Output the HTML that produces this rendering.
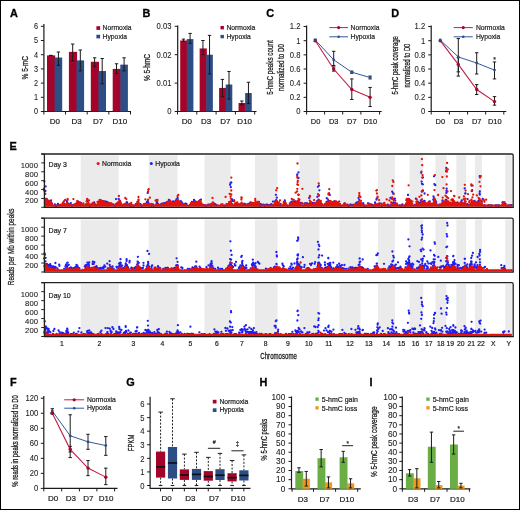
<!DOCTYPE html>
<html><head><meta charset="utf-8"><style>
html,body{margin:0;padding:0;background:#fff;width:520px;height:510px;overflow:hidden}
svg{display:block;will-change:transform}
text{font-family:"Liberation Sans",sans-serif}
</style></head><body>
<svg width="520" height="510" viewBox="0 0 520 510">
<rect width="520" height="510" fill="#fff"/>
<rect x="0.5" y="0.5" width="519" height="509" fill="none" stroke="#000" stroke-width="1"/>
<text transform="translate(10.00 16.50) scale(1 1)" font-size="10.90" text-anchor="start" fill="#000" stroke="#000" stroke-width="0.3" font-weight="bold">A</text>
<line x1="43.90" y1="24.00" x2="43.90" y2="112.00" stroke="#1a1a1a" stroke-width="1.2" />
<line x1="40.90" y1="111.50" x2="43.90" y2="111.50" stroke="#1a1a1a" stroke-width="1" />
<text transform="translate(38.00 114.30) scale(0.88 1)" font-size="8.32" text-anchor="end" fill="#1a1a1a" stroke="#1a1a1a" stroke-width="0.08">0</text>
<line x1="40.90" y1="97.30" x2="43.90" y2="97.30" stroke="#1a1a1a" stroke-width="1" />
<text transform="translate(38.00 100.10) scale(0.88 1)" font-size="8.32" text-anchor="end" fill="#1a1a1a" stroke="#1a1a1a" stroke-width="0.08">1</text>
<line x1="40.90" y1="83.10" x2="43.90" y2="83.10" stroke="#1a1a1a" stroke-width="1" />
<text transform="translate(38.00 85.90) scale(0.88 1)" font-size="8.32" text-anchor="end" fill="#1a1a1a" stroke="#1a1a1a" stroke-width="0.08">2</text>
<line x1="40.90" y1="68.90" x2="43.90" y2="68.90" stroke="#1a1a1a" stroke-width="1" />
<text transform="translate(38.00 71.70) scale(0.88 1)" font-size="8.32" text-anchor="end" fill="#1a1a1a" stroke="#1a1a1a" stroke-width="0.08">3</text>
<line x1="40.90" y1="54.70" x2="43.90" y2="54.70" stroke="#1a1a1a" stroke-width="1" />
<text transform="translate(38.00 57.50) scale(0.88 1)" font-size="8.32" text-anchor="end" fill="#1a1a1a" stroke="#1a1a1a" stroke-width="0.08">4</text>
<line x1="40.90" y1="40.50" x2="43.90" y2="40.50" stroke="#1a1a1a" stroke-width="1" />
<text transform="translate(38.00 43.30) scale(0.88 1)" font-size="8.32" text-anchor="end" fill="#1a1a1a" stroke="#1a1a1a" stroke-width="0.08">5</text>
<line x1="40.90" y1="26.30" x2="43.90" y2="26.30" stroke="#1a1a1a" stroke-width="1" />
<text transform="translate(38.00 29.10) scale(0.88 1)" font-size="8.32" text-anchor="end" fill="#1a1a1a" stroke="#1a1a1a" stroke-width="0.08">6</text>
<text transform="translate(28.20 67.70) rotate(-90) scale(1 1)" font-size="8.64" text-anchor="middle" fill="#1a1a1a" stroke="#1a1a1a" stroke-width="0.28" textLength="23.5" lengthAdjust="spacingAndGlyphs">% 5-mC</text>
<line x1="43.90" y1="111.50" x2="131.00" y2="111.50" stroke="#1a1a1a" stroke-width="1.2" />
<line x1="43.90" y1="111.50" x2="43.90" y2="114.50" stroke="#1a1a1a" stroke-width="1" />
<line x1="65.55" y1="111.50" x2="65.55" y2="114.50" stroke="#1a1a1a" stroke-width="1" />
<line x1="87.20" y1="111.50" x2="87.20" y2="114.50" stroke="#1a1a1a" stroke-width="1" />
<line x1="108.85" y1="111.50" x2="108.85" y2="114.50" stroke="#1a1a1a" stroke-width="1" />
<line x1="130.50" y1="111.50" x2="130.50" y2="114.50" stroke="#1a1a1a" stroke-width="1" />
<rect x="47.00" y="55.41" width="8.20" height="56.09" fill="#a5042a"/>
<rect x="54.60" y="57.54" width="7.60" height="53.96" fill="#2d4d85"/>
<rect x="68.90" y="51.86" width="8.20" height="59.64" fill="#a5042a"/>
<rect x="76.50" y="60.38" width="7.60" height="51.12" fill="#2d4d85"/>
<rect x="90.80" y="61.80" width="8.20" height="49.70" fill="#a5042a"/>
<rect x="98.40" y="71.03" width="7.60" height="40.47" fill="#2d4d85"/>
<rect x="112.70" y="68.90" width="8.20" height="42.60" fill="#a5042a"/>
<rect x="120.30" y="64.64" width="7.60" height="46.86" fill="#2d4d85"/>
<line x1="50.80" y1="55.41" x2="50.80" y2="55.41" stroke="#1a1a1a" stroke-width="1" />
<line x1="49.10" y1="55.41" x2="52.50" y2="55.41" stroke="#1a1a1a" stroke-width="1" />
<line x1="49.10" y1="55.41" x2="52.50" y2="55.41" stroke="#1a1a1a" stroke-width="1" />
<line x1="58.40" y1="52.00" x2="58.40" y2="65.35" stroke="#1a1a1a" stroke-width="1" />
<line x1="56.70" y1="52.00" x2="60.10" y2="52.00" stroke="#1a1a1a" stroke-width="1" />
<line x1="56.70" y1="65.35" x2="60.10" y2="65.35" stroke="#1a1a1a" stroke-width="1" />
<line x1="72.70" y1="44.05" x2="72.70" y2="60.95" stroke="#1a1a1a" stroke-width="1" />
<line x1="71.00" y1="44.05" x2="74.40" y2="44.05" stroke="#1a1a1a" stroke-width="1" />
<line x1="71.00" y1="60.95" x2="74.40" y2="60.95" stroke="#1a1a1a" stroke-width="1" />
<line x1="80.30" y1="50.01" x2="80.30" y2="70.89" stroke="#1a1a1a" stroke-width="1" />
<line x1="78.60" y1="50.01" x2="82.00" y2="50.01" stroke="#1a1a1a" stroke-width="1" />
<line x1="78.60" y1="70.89" x2="82.00" y2="70.89" stroke="#1a1a1a" stroke-width="1" />
<line x1="94.60" y1="57.82" x2="94.60" y2="66.77" stroke="#1a1a1a" stroke-width="1" />
<line x1="92.90" y1="57.82" x2="96.30" y2="57.82" stroke="#1a1a1a" stroke-width="1" />
<line x1="92.90" y1="66.77" x2="96.30" y2="66.77" stroke="#1a1a1a" stroke-width="1" />
<line x1="102.20" y1="58.53" x2="102.20" y2="83.81" stroke="#1a1a1a" stroke-width="1" />
<line x1="100.50" y1="58.53" x2="103.90" y2="58.53" stroke="#1a1a1a" stroke-width="1" />
<line x1="100.50" y1="83.81" x2="103.90" y2="83.81" stroke="#1a1a1a" stroke-width="1" />
<line x1="116.50" y1="63.79" x2="116.50" y2="73.59" stroke="#1a1a1a" stroke-width="1" />
<line x1="114.80" y1="63.79" x2="118.20" y2="63.79" stroke="#1a1a1a" stroke-width="1" />
<line x1="114.80" y1="73.59" x2="118.20" y2="73.59" stroke="#1a1a1a" stroke-width="1" />
<line x1="124.10" y1="57.82" x2="124.10" y2="70.89" stroke="#1a1a1a" stroke-width="1" />
<line x1="122.40" y1="57.82" x2="125.80" y2="57.82" stroke="#1a1a1a" stroke-width="1" />
<line x1="122.40" y1="70.89" x2="125.80" y2="70.89" stroke="#1a1a1a" stroke-width="1" />
<text transform="translate(54.90 124.30) scale(1.0 1)" font-size="7.99" text-anchor="middle" fill="#1a1a1a" stroke="#1a1a1a" stroke-width="0.2">D0</text>
<text transform="translate(76.55 124.30) scale(1.0 1)" font-size="7.99" text-anchor="middle" fill="#1a1a1a" stroke="#1a1a1a" stroke-width="0.2">D3</text>
<text transform="translate(98.20 124.30) scale(1.0 1)" font-size="7.99" text-anchor="middle" fill="#1a1a1a" stroke="#1a1a1a" stroke-width="0.2">D7</text>
<text transform="translate(119.85 124.30) scale(1.0 1)" font-size="7.99" text-anchor="middle" fill="#1a1a1a" stroke="#1a1a1a" stroke-width="0.2">D10</text>
<rect x="96.40" y="26.20" width="3.70" height="3.70" fill="#a5042a"/>
<text transform="translate(102.60 30.10) scale(0.87 1)" font-size="7.78" text-anchor="start" fill="#1a1a1a" stroke="#1a1a1a" stroke-width="0.2">Normoxia</text>
<rect x="96.40" y="34.70" width="3.70" height="3.70" fill="#2d4d85"/>
<text transform="translate(102.60 38.60) scale(0.87 1)" font-size="7.78" text-anchor="start" fill="#1a1a1a" stroke="#1a1a1a" stroke-width="0.2">Hypoxia</text>
<text transform="translate(142.60 16.50) scale(1 1)" font-size="10.90" text-anchor="start" fill="#000" stroke="#000" stroke-width="0.3" font-weight="bold">B</text>
<line x1="177.70" y1="25.50" x2="177.70" y2="112.00" stroke="#1a1a1a" stroke-width="1.2" />
<line x1="174.70" y1="111.50" x2="177.70" y2="111.50" stroke="#1a1a1a" stroke-width="1" />
<text transform="translate(171.50 114.30) scale(0.92 1)" font-size="8.32" text-anchor="end" fill="#1a1a1a" stroke="#1a1a1a" stroke-width="0.08">0</text>
<line x1="174.70" y1="83.10" x2="177.70" y2="83.10" stroke="#1a1a1a" stroke-width="1" />
<text transform="translate(171.50 85.90) scale(0.92 1)" font-size="8.32" text-anchor="end" fill="#1a1a1a" stroke="#1a1a1a" stroke-width="0.08">0.01</text>
<line x1="174.70" y1="54.70" x2="177.70" y2="54.70" stroke="#1a1a1a" stroke-width="1" />
<text transform="translate(171.50 57.50) scale(0.92 1)" font-size="8.32" text-anchor="end" fill="#1a1a1a" stroke="#1a1a1a" stroke-width="0.08">0.02</text>
<line x1="174.70" y1="26.30" x2="177.70" y2="26.30" stroke="#1a1a1a" stroke-width="1" />
<text transform="translate(171.50 29.10) scale(0.92 1)" font-size="8.32" text-anchor="end" fill="#1a1a1a" stroke="#1a1a1a" stroke-width="0.08">0.03</text>
<text transform="translate(150.40 67.50) rotate(-90) scale(1 1)" font-size="8.64" text-anchor="middle" fill="#1a1a1a" stroke="#1a1a1a" stroke-width="0.28" textLength="27" lengthAdjust="spacingAndGlyphs">% 5-hmC</text>
<line x1="177.70" y1="111.50" x2="256.50" y2="111.50" stroke="#1a1a1a" stroke-width="1.2" />
<line x1="177.50" y1="111.50" x2="177.50" y2="114.50" stroke="#1a1a1a" stroke-width="1" />
<line x1="196.80" y1="111.50" x2="196.80" y2="114.50" stroke="#1a1a1a" stroke-width="1" />
<line x1="216.10" y1="111.50" x2="216.10" y2="114.50" stroke="#1a1a1a" stroke-width="1" />
<line x1="235.40" y1="111.50" x2="235.40" y2="114.50" stroke="#1a1a1a" stroke-width="1" />
<line x1="254.70" y1="111.50" x2="254.70" y2="114.50" stroke="#1a1a1a" stroke-width="1" />
<rect x="180.20" y="40.50" width="7.20" height="71.00" fill="#a5042a"/>
<rect x="186.80" y="39.08" width="6.60" height="72.42" fill="#2d4d85"/>
<rect x="199.65" y="48.45" width="7.20" height="63.05" fill="#a5042a"/>
<rect x="206.25" y="54.70" width="6.60" height="56.80" fill="#2d4d85"/>
<rect x="219.10" y="87.93" width="7.20" height="23.57" fill="#a5042a"/>
<rect x="225.70" y="84.52" width="6.60" height="26.98" fill="#2d4d85"/>
<rect x="238.55" y="102.98" width="7.20" height="8.52" fill="#a5042a"/>
<rect x="245.15" y="93.04" width="6.60" height="18.46" fill="#2d4d85"/>
<line x1="183.50" y1="39.08" x2="183.50" y2="41.35" stroke="#1a1a1a" stroke-width="1" />
<line x1="181.80" y1="39.08" x2="185.20" y2="39.08" stroke="#1a1a1a" stroke-width="1" />
<line x1="181.80" y1="41.35" x2="185.20" y2="41.35" stroke="#1a1a1a" stroke-width="1" />
<line x1="190.10" y1="33.40" x2="190.10" y2="43.34" stroke="#1a1a1a" stroke-width="1" />
<line x1="188.40" y1="33.40" x2="191.80" y2="33.40" stroke="#1a1a1a" stroke-width="1" />
<line x1="188.40" y1="43.34" x2="191.80" y2="43.34" stroke="#1a1a1a" stroke-width="1" />
<line x1="202.95" y1="40.50" x2="202.95" y2="54.70" stroke="#1a1a1a" stroke-width="1" />
<line x1="201.25" y1="40.50" x2="204.65" y2="40.50" stroke="#1a1a1a" stroke-width="1" />
<line x1="201.25" y1="54.70" x2="204.65" y2="54.70" stroke="#1a1a1a" stroke-width="1" />
<line x1="209.55" y1="35.39" x2="209.55" y2="74.01" stroke="#1a1a1a" stroke-width="1" />
<line x1="207.85" y1="35.39" x2="211.25" y2="35.39" stroke="#1a1a1a" stroke-width="1" />
<line x1="207.85" y1="74.01" x2="211.25" y2="74.01" stroke="#1a1a1a" stroke-width="1" />
<line x1="222.40" y1="79.41" x2="222.40" y2="96.73" stroke="#1a1a1a" stroke-width="1" />
<line x1="220.70" y1="79.41" x2="224.10" y2="79.41" stroke="#1a1a1a" stroke-width="1" />
<line x1="220.70" y1="96.73" x2="224.10" y2="96.73" stroke="#1a1a1a" stroke-width="1" />
<line x1="229.00" y1="71.46" x2="229.00" y2="99.00" stroke="#1a1a1a" stroke-width="1" />
<line x1="227.30" y1="71.46" x2="230.70" y2="71.46" stroke="#1a1a1a" stroke-width="1" />
<line x1="227.30" y1="99.00" x2="230.70" y2="99.00" stroke="#1a1a1a" stroke-width="1" />
<line x1="241.85" y1="100.99" x2="241.85" y2="104.97" stroke="#1a1a1a" stroke-width="1" />
<line x1="240.15" y1="100.99" x2="243.55" y2="100.99" stroke="#1a1a1a" stroke-width="1" />
<line x1="240.15" y1="104.97" x2="243.55" y2="104.97" stroke="#1a1a1a" stroke-width="1" />
<line x1="248.45" y1="82.25" x2="248.45" y2="103.55" stroke="#1a1a1a" stroke-width="1" />
<line x1="246.75" y1="82.25" x2="250.15" y2="82.25" stroke="#1a1a1a" stroke-width="1" />
<line x1="246.75" y1="103.55" x2="250.15" y2="103.55" stroke="#1a1a1a" stroke-width="1" />
<text transform="translate(186.80 124.20) scale(1.0 1)" font-size="7.99" text-anchor="middle" fill="#1a1a1a" stroke="#1a1a1a" stroke-width="0.2">D0</text>
<text transform="translate(206.10 124.20) scale(1.0 1)" font-size="7.99" text-anchor="middle" fill="#1a1a1a" stroke="#1a1a1a" stroke-width="0.2">D3</text>
<text transform="translate(225.40 124.20) scale(1.0 1)" font-size="7.99" text-anchor="middle" fill="#1a1a1a" stroke="#1a1a1a" stroke-width="0.2">D7</text>
<text transform="translate(244.70 124.20) scale(1.0 1)" font-size="7.99" text-anchor="middle" fill="#1a1a1a" stroke="#1a1a1a" stroke-width="0.2">D10</text>
<rect x="220.50" y="26.00" width="3.40" height="3.40" fill="#a5042a"/>
<text transform="translate(226.40 29.90) scale(0.87 1)" font-size="7.78" text-anchor="start" fill="#1a1a1a" stroke="#1a1a1a" stroke-width="0.2">Normoxia</text>
<rect x="220.50" y="34.90" width="3.40" height="3.40" fill="#2d4d85"/>
<text transform="translate(226.40 38.80) scale(0.87 1)" font-size="7.78" text-anchor="start" fill="#1a1a1a" stroke="#1a1a1a" stroke-width="0.2">Hypoxia</text>
<text transform="translate(266.30 16.50) scale(1 1)" font-size="10.90" text-anchor="start" fill="#000" stroke="#000" stroke-width="0.3" font-weight="bold">C</text>
<line x1="306.60" y1="25.50" x2="306.60" y2="112.00" stroke="#1a1a1a" stroke-width="1.2" />
<line x1="303.60" y1="111.50" x2="306.60" y2="111.50" stroke="#1a1a1a" stroke-width="1" />
<text transform="translate(300.40 114.40) scale(0.92 1)" font-size="8.32" text-anchor="end" fill="#1a1a1a" stroke="#1a1a1a" stroke-width="0.08">0</text>
<line x1="303.60" y1="97.34" x2="306.60" y2="97.34" stroke="#1a1a1a" stroke-width="1" />
<text transform="translate(300.40 100.24) scale(0.92 1)" font-size="8.32" text-anchor="end" fill="#1a1a1a" stroke="#1a1a1a" stroke-width="0.08">0.2</text>
<line x1="303.60" y1="83.18" x2="306.60" y2="83.18" stroke="#1a1a1a" stroke-width="1" />
<text transform="translate(300.40 86.08) scale(0.92 1)" font-size="8.32" text-anchor="end" fill="#1a1a1a" stroke="#1a1a1a" stroke-width="0.08">0.4</text>
<line x1="303.60" y1="69.02" x2="306.60" y2="69.02" stroke="#1a1a1a" stroke-width="1" />
<text transform="translate(300.40 71.92) scale(0.92 1)" font-size="8.32" text-anchor="end" fill="#1a1a1a" stroke="#1a1a1a" stroke-width="0.08">0.6</text>
<line x1="303.60" y1="54.86" x2="306.60" y2="54.86" stroke="#1a1a1a" stroke-width="1" />
<text transform="translate(300.40 57.76) scale(0.92 1)" font-size="8.32" text-anchor="end" fill="#1a1a1a" stroke="#1a1a1a" stroke-width="0.08">0.8</text>
<line x1="303.60" y1="40.70" x2="306.60" y2="40.70" stroke="#1a1a1a" stroke-width="1" />
<text transform="translate(300.40 43.60) scale(0.92 1)" font-size="8.32" text-anchor="end" fill="#1a1a1a" stroke="#1a1a1a" stroke-width="0.08">1</text>
<line x1="303.60" y1="26.54" x2="306.60" y2="26.54" stroke="#1a1a1a" stroke-width="1" />
<text transform="translate(300.40 29.44) scale(0.92 1)" font-size="8.32" text-anchor="end" fill="#1a1a1a" stroke="#1a1a1a" stroke-width="0.08">1.2</text>
<line x1="306.60" y1="111.50" x2="381.70" y2="111.50" stroke="#1a1a1a" stroke-width="1.2" />
<line x1="306.60" y1="111.50" x2="306.60" y2="114.50" stroke="#1a1a1a" stroke-width="1" />
<line x1="324.60" y1="111.50" x2="324.60" y2="114.50" stroke="#1a1a1a" stroke-width="1" />
<line x1="342.70" y1="111.50" x2="342.70" y2="114.50" stroke="#1a1a1a" stroke-width="1" />
<line x1="360.90" y1="111.50" x2="360.90" y2="114.50" stroke="#1a1a1a" stroke-width="1" />
<line x1="379.60" y1="111.50" x2="379.60" y2="114.50" stroke="#1a1a1a" stroke-width="1" />
<line x1="315.30" y1="39.28" x2="315.30" y2="41.41" stroke="#1a1a1a" stroke-width="1" />
<line x1="313.60" y1="39.28" x2="317.00" y2="39.28" stroke="#1a1a1a" stroke-width="1" />
<line x1="313.60" y1="41.41" x2="317.00" y2="41.41" stroke="#1a1a1a" stroke-width="1" />
<line x1="333.70" y1="66.90" x2="333.70" y2="71.14" stroke="#1a1a1a" stroke-width="1" />
<line x1="332.00" y1="66.90" x2="335.40" y2="66.90" stroke="#1a1a1a" stroke-width="1" />
<line x1="332.00" y1="71.14" x2="335.40" y2="71.14" stroke="#1a1a1a" stroke-width="1" />
<line x1="333.70" y1="51.32" x2="333.70" y2="65.48" stroke="#1a1a1a" stroke-width="1" />
<line x1="332.00" y1="51.32" x2="335.40" y2="51.32" stroke="#1a1a1a" stroke-width="1" />
<line x1="332.00" y1="65.48" x2="335.40" y2="65.48" stroke="#1a1a1a" stroke-width="1" />
<line x1="351.80" y1="78.93" x2="351.80" y2="99.46" stroke="#1a1a1a" stroke-width="1" />
<line x1="350.10" y1="78.93" x2="353.50" y2="78.93" stroke="#1a1a1a" stroke-width="1" />
<line x1="350.10" y1="99.46" x2="353.50" y2="99.46" stroke="#1a1a1a" stroke-width="1" />
<line x1="351.80" y1="71.14" x2="351.80" y2="73.27" stroke="#1a1a1a" stroke-width="1" />
<line x1="350.10" y1="71.14" x2="353.50" y2="71.14" stroke="#1a1a1a" stroke-width="1" />
<line x1="350.10" y1="73.27" x2="353.50" y2="73.27" stroke="#1a1a1a" stroke-width="1" />
<line x1="370.10" y1="87.43" x2="370.10" y2="106.54" stroke="#1a1a1a" stroke-width="1" />
<line x1="368.40" y1="87.43" x2="371.80" y2="87.43" stroke="#1a1a1a" stroke-width="1" />
<line x1="368.40" y1="106.54" x2="371.80" y2="106.54" stroke="#1a1a1a" stroke-width="1" />
<line x1="370.10" y1="76.10" x2="370.10" y2="78.93" stroke="#1a1a1a" stroke-width="1" />
<line x1="368.40" y1="76.10" x2="371.80" y2="76.10" stroke="#1a1a1a" stroke-width="1" />
<line x1="368.40" y1="78.93" x2="371.80" y2="78.93" stroke="#1a1a1a" stroke-width="1" />
<polyline points="315.30,39.99 333.70,59.82 351.80,72.21 370.10,77.52" fill="none" stroke="#34599a" stroke-width="1.0"/>
<polyline points="315.30,40.70 333.70,69.02 351.80,89.55 370.10,97.34" fill="none" stroke="#c01f45" stroke-width="1.1"/>
<circle cx="315.30" cy="40.70" r="1.7" fill="#a5042a"/>
<circle cx="333.70" cy="69.02" r="1.7" fill="#a5042a"/>
<circle cx="351.80" cy="89.55" r="1.7" fill="#a5042a"/>
<circle cx="370.10" cy="97.34" r="1.7" fill="#a5042a"/>
<circle cx="315.30" cy="39.99" r="1.4" fill="#2d4d85"/>
<circle cx="333.70" cy="59.82" r="1.4" fill="#2d4d85"/>
<circle cx="351.80" cy="72.21" r="1.4" fill="#2d4d85"/>
<circle cx="370.10" cy="77.52" r="1.4" fill="#2d4d85"/>
<text transform="translate(315.60 124.20) scale(0.92 1)" font-size="8.10" text-anchor="middle" fill="#1a1a1a" stroke="#1a1a1a" stroke-width="0.2">D0</text>
<text transform="translate(333.65 124.20) scale(0.92 1)" font-size="8.10" text-anchor="middle" fill="#1a1a1a" stroke="#1a1a1a" stroke-width="0.2">D3</text>
<text transform="translate(351.80 124.20) scale(0.92 1)" font-size="8.10" text-anchor="middle" fill="#1a1a1a" stroke="#1a1a1a" stroke-width="0.2">D7</text>
<text transform="translate(370.25 124.20) scale(0.92 1)" font-size="8.10" text-anchor="middle" fill="#1a1a1a" stroke="#1a1a1a" stroke-width="0.2">D10</text>
<line x1="329.30" y1="27.60" x2="348.00" y2="27.60" stroke="#c01f45" stroke-width="1.0" />
<circle cx="338.65" cy="27.6" r="1.6" fill="#a5042a"/>
<line x1="329.30" y1="36.80" x2="348.00" y2="36.80" stroke="#34599a" stroke-width="1.0" />
<circle cx="338.65" cy="36.8" r="1.3" fill="#2d4d85"/>
<text transform="translate(350.50 29.80) scale(0.87 1)" font-size="7.78" text-anchor="start" fill="#1a1a1a" stroke="#1a1a1a" stroke-width="0.2">Normoxia</text>
<text transform="translate(350.50 39.00) scale(0.87 1)" font-size="7.78" text-anchor="start" fill="#1a1a1a" stroke="#1a1a1a" stroke-width="0.2">Hypoxia</text>
<text transform="translate(273.30 67.55) rotate(-90) scale(1 1)" font-size="8.64" text-anchor="middle" fill="#1a1a1a" stroke="#1a1a1a" stroke-width="0.28" textLength="54.5" lengthAdjust="spacingAndGlyphs">5-hmC peaks count</text>
<text transform="translate(283.60 67.55) rotate(-90) scale(1 1)" font-size="8.64" text-anchor="middle" fill="#1a1a1a" stroke="#1a1a1a" stroke-width="0.28" textLength="47" lengthAdjust="spacingAndGlyphs">normalized to D0</text>
<text transform="translate(391.30 16.50) scale(1 1)" font-size="10.90" text-anchor="start" fill="#000" stroke="#000" stroke-width="0.3" font-weight="bold">D</text>
<line x1="431.20" y1="25.50" x2="431.20" y2="112.00" stroke="#1a1a1a" stroke-width="1.2" />
<line x1="428.20" y1="111.50" x2="431.20" y2="111.50" stroke="#1a1a1a" stroke-width="1" />
<text transform="translate(425.20 114.40) scale(0.92 1)" font-size="8.32" text-anchor="end" fill="#1a1a1a" stroke="#1a1a1a" stroke-width="0.08">0</text>
<line x1="428.20" y1="97.34" x2="431.20" y2="97.34" stroke="#1a1a1a" stroke-width="1" />
<text transform="translate(425.20 100.24) scale(0.92 1)" font-size="8.32" text-anchor="end" fill="#1a1a1a" stroke="#1a1a1a" stroke-width="0.08">0.2</text>
<line x1="428.20" y1="83.18" x2="431.20" y2="83.18" stroke="#1a1a1a" stroke-width="1" />
<text transform="translate(425.20 86.08) scale(0.92 1)" font-size="8.32" text-anchor="end" fill="#1a1a1a" stroke="#1a1a1a" stroke-width="0.08">0.4</text>
<line x1="428.20" y1="69.02" x2="431.20" y2="69.02" stroke="#1a1a1a" stroke-width="1" />
<text transform="translate(425.20 71.92) scale(0.92 1)" font-size="8.32" text-anchor="end" fill="#1a1a1a" stroke="#1a1a1a" stroke-width="0.08">0.6</text>
<line x1="428.20" y1="54.86" x2="431.20" y2="54.86" stroke="#1a1a1a" stroke-width="1" />
<text transform="translate(425.20 57.76) scale(0.92 1)" font-size="8.32" text-anchor="end" fill="#1a1a1a" stroke="#1a1a1a" stroke-width="0.08">0.8</text>
<line x1="428.20" y1="40.70" x2="431.20" y2="40.70" stroke="#1a1a1a" stroke-width="1" />
<text transform="translate(425.20 43.60) scale(0.92 1)" font-size="8.32" text-anchor="end" fill="#1a1a1a" stroke="#1a1a1a" stroke-width="0.08">1</text>
<line x1="428.20" y1="26.54" x2="431.20" y2="26.54" stroke="#1a1a1a" stroke-width="1" />
<text transform="translate(425.20 29.44) scale(0.92 1)" font-size="8.32" text-anchor="end" fill="#1a1a1a" stroke="#1a1a1a" stroke-width="0.08">1.2</text>
<line x1="431.20" y1="111.50" x2="506.30" y2="111.50" stroke="#1a1a1a" stroke-width="1.2" />
<line x1="431.20" y1="111.50" x2="431.20" y2="114.50" stroke="#1a1a1a" stroke-width="1" />
<line x1="449.40" y1="111.50" x2="449.40" y2="114.50" stroke="#1a1a1a" stroke-width="1" />
<line x1="467.60" y1="111.50" x2="467.60" y2="114.50" stroke="#1a1a1a" stroke-width="1" />
<line x1="485.70" y1="111.50" x2="485.70" y2="114.50" stroke="#1a1a1a" stroke-width="1" />
<line x1="503.80" y1="111.50" x2="503.80" y2="114.50" stroke="#1a1a1a" stroke-width="1" />
<line x1="458.30" y1="57.69" x2="458.30" y2="71.85" stroke="#1a1a1a" stroke-width="1" />
<line x1="456.60" y1="57.69" x2="460.00" y2="57.69" stroke="#1a1a1a" stroke-width="1" />
<line x1="456.60" y1="71.85" x2="460.00" y2="71.85" stroke="#1a1a1a" stroke-width="1" />
<line x1="458.30" y1="38.58" x2="458.30" y2="76.10" stroke="#1a1a1a" stroke-width="1" />
<line x1="456.60" y1="38.58" x2="460.00" y2="38.58" stroke="#1a1a1a" stroke-width="1" />
<line x1="456.60" y1="76.10" x2="460.00" y2="76.10" stroke="#1a1a1a" stroke-width="1" />
<line x1="476.70" y1="84.60" x2="476.70" y2="94.51" stroke="#1a1a1a" stroke-width="1" />
<line x1="475.00" y1="84.60" x2="478.40" y2="84.60" stroke="#1a1a1a" stroke-width="1" />
<line x1="475.00" y1="94.51" x2="478.40" y2="94.51" stroke="#1a1a1a" stroke-width="1" />
<line x1="476.70" y1="52.74" x2="476.70" y2="73.98" stroke="#1a1a1a" stroke-width="1" />
<line x1="475.00" y1="52.74" x2="478.40" y2="52.74" stroke="#1a1a1a" stroke-width="1" />
<line x1="475.00" y1="73.98" x2="478.40" y2="73.98" stroke="#1a1a1a" stroke-width="1" />
<line x1="494.50" y1="96.63" x2="494.50" y2="105.13" stroke="#1a1a1a" stroke-width="1" />
<line x1="492.80" y1="96.63" x2="496.20" y2="96.63" stroke="#1a1a1a" stroke-width="1" />
<line x1="492.80" y1="105.13" x2="496.20" y2="105.13" stroke="#1a1a1a" stroke-width="1" />
<line x1="494.50" y1="61.94" x2="494.50" y2="78.93" stroke="#1a1a1a" stroke-width="1" />
<line x1="492.80" y1="61.94" x2="496.20" y2="61.94" stroke="#1a1a1a" stroke-width="1" />
<line x1="492.80" y1="78.93" x2="496.20" y2="78.93" stroke="#1a1a1a" stroke-width="1" />
<polyline points="440.20,39.99 458.30,56.98 476.70,63.00 494.50,70.08" fill="none" stroke="#34599a" stroke-width="1.0"/>
<polyline points="440.20,40.70 458.30,64.42 476.70,89.55 494.50,101.59" fill="none" stroke="#c01f45" stroke-width="1.1"/>
<circle cx="440.20" cy="40.70" r="1.7" fill="#a5042a"/>
<circle cx="458.30" cy="64.42" r="1.7" fill="#a5042a"/>
<circle cx="476.70" cy="89.55" r="1.7" fill="#a5042a"/>
<circle cx="494.50" cy="101.59" r="1.7" fill="#a5042a"/>
<circle cx="440.20" cy="39.99" r="1.4" fill="#2d4d85"/>
<circle cx="458.30" cy="56.98" r="1.4" fill="#2d4d85"/>
<circle cx="476.70" cy="63.00" r="1.4" fill="#2d4d85"/>
<circle cx="494.50" cy="70.08" r="1.4" fill="#2d4d85"/>
<text transform="translate(440.30 124.20) scale(0.92 1)" font-size="8.10" text-anchor="middle" fill="#1a1a1a" stroke="#1a1a1a" stroke-width="0.2">D0</text>
<text transform="translate(458.50 124.20) scale(0.92 1)" font-size="8.10" text-anchor="middle" fill="#1a1a1a" stroke="#1a1a1a" stroke-width="0.2">D3</text>
<text transform="translate(476.65 124.20) scale(0.92 1)" font-size="8.10" text-anchor="middle" fill="#1a1a1a" stroke="#1a1a1a" stroke-width="0.2">D7</text>
<text transform="translate(494.75 124.20) scale(0.92 1)" font-size="8.10" text-anchor="middle" fill="#1a1a1a" stroke="#1a1a1a" stroke-width="0.2">D10</text>
<line x1="453.70" y1="27.60" x2="472.80" y2="27.60" stroke="#c01f45" stroke-width="1.0" />
<circle cx="463.25" cy="27.6" r="1.6" fill="#a5042a"/>
<line x1="453.70" y1="36.80" x2="472.80" y2="36.80" stroke="#34599a" stroke-width="1.0" />
<circle cx="463.25" cy="36.8" r="1.3" fill="#2d4d85"/>
<text transform="translate(475.90 29.80) scale(0.87 1)" font-size="7.78" text-anchor="start" fill="#1a1a1a" stroke="#1a1a1a" stroke-width="0.2">Normoxia</text>
<text transform="translate(475.90 39.00) scale(0.87 1)" font-size="7.78" text-anchor="start" fill="#1a1a1a" stroke="#1a1a1a" stroke-width="0.2">Hypoxia</text>
<text transform="translate(398.30 65.30) rotate(-90) scale(1 1)" font-size="8.64" text-anchor="middle" fill="#1a1a1a" stroke="#1a1a1a" stroke-width="0.28" textLength="58.2" lengthAdjust="spacingAndGlyphs">5-hmC peak coverage</text>
<text transform="translate(409.80 65.60) rotate(-90) scale(1 1)" font-size="8.64" text-anchor="middle" fill="#1a1a1a" stroke="#1a1a1a" stroke-width="0.28" textLength="43.8" lengthAdjust="spacingAndGlyphs">normalized to D0</text>
<text transform="translate(494.50 61.50) scale(0.9 1)" font-size="7.56" text-anchor="middle" fill="#1a1a1a" stroke="#1a1a1a" stroke-width="0.2">*</text>
<text transform="translate(9.60 150.20) scale(1 1)" font-size="10.90" text-anchor="start" fill="#000" stroke="#000" stroke-width="0.3" font-weight="bold">E</text>
<rect x="80.75" y="155.30" width="38.00" height="51.00" fill="#ebebeb"/>
<rect x="148.75" y="155.30" width="28.75" height="51.00" fill="#ebebeb"/>
<rect x="204.50" y="155.30" width="26.25" height="51.00" fill="#ebebeb"/>
<rect x="255.00" y="155.30" width="22.50" height="51.00" fill="#ebebeb"/>
<rect x="299.50" y="155.30" width="20.00" height="51.00" fill="#ebebeb"/>
<rect x="339.50" y="155.30" width="21.00" height="51.00" fill="#ebebeb"/>
<rect x="378.00" y="155.30" width="17.00" height="51.00" fill="#ebebeb"/>
<rect x="409.50" y="155.30" width="13.75" height="51.00" fill="#ebebeb"/>
<rect x="435.50" y="155.30" width="11.00" height="51.00" fill="#ebebeb"/>
<rect x="456.30" y="155.30" width="9.80" height="51.00" fill="#ebebeb"/>
<rect x="475.00" y="155.30" width="6.90" height="51.00" fill="#ebebeb"/>
<rect x="505.20" y="155.30" width="6.60" height="51.00" fill="#ebebeb"/>
<path d="M45.5 199.1h0M46.5 198.9h0M49.9 201.2h0M51.1 200.3h0M51.9 203.7h0M54.9 204.4h0M55.3 205.7h0M56.5 205.6h0M57.0 205.5h0M58.0 203.8h0M59.4 205.2h0M63.9 203.3h0M67.0 203.5h0M67.9 203.6h0M68.9 204.0h0M71.8 205.4h0M72.5 205.1h0M77.5 202.3h0M78.2 201.6h0M79.1 203.2h0M79.9 203.7h0M80.9 202.8h0M81.9 205.1h0M88.1 203.7h0M88.9 204.9h0M90.0 205.7h0M91.3 205.2h0M94.2 202.3h0M95.0 204.1h0M95.7 205.2h0M96.2 205.2h0M100.5 200.1h0M103.1 201.1h0M104.7 201.5h0M105.5 202.9h0M106.0 201.7h0M107.4 202.2h0M111.3 203.4h0M113.0 204.3h0M115.1 205.6h0M116.3 204.1h0M120.0 200.9h0M123.1 205.6h0M124.0 204.4h0M126.2 204.8h0M128.9 204.8h0M130.1 205.6h0M130.3 205.5h0M131.7 205.5h0M131.9 205.4h0M133.9 205.7h0M135.8 204.2h0M136.8 203.7h0M138.1 201.9h0M140.3 204.4h0M140.8 205.0h0M141.7 205.7h0M143.8 204.1h0M145.6 204.2h0M148.2 204.0h0M150.0 204.8h0M151.4 205.7h0M152.1 204.5h0M153.0 204.4h0M153.7 205.6h0M156.1 204.9h0M156.8 203.8h0M157.9 203.7h0M160.1 204.9h0M160.8 204.4h0M162.0 203.6h0M162.9 204.3h0M163.8 203.3h0M165.1 202.9h0M166.0 203.5h0M167.2 201.8h0M168.9 200.0h0M169.5 200.5h0M171.6 202.3h0M173.1 201.5h0M176.4 199.4h0M180.3 201.8h0M180.8 201.2h0M181.9 202.5h0M183.3 204.2h0M183.9 204.2h0M185.4 203.7h0M186.4 204.0h0M191.9 201.9h0M193.3 201.8h0M194.0 199.8h0M194.9 201.2h0M199.2 200.8h0M200.2 200.0h0M200.9 199.6h0M203.5 204.9h0M205.1 205.5h0M206.3 205.6h0M208.2 204.6h0M210.9 205.5h0M213.3 204.0h0M214.6 204.0h0M215.3 204.2h0M216.5 205.2h0M224.4 205.7h0M226.6 204.2h0M229.2 203.5h0M230.1 202.1h0M231.2 203.2h0M231.9 204.1h0M235.5 205.1h0M239.1 204.3h0M243.1 204.7h0M244.3 204.0h0M245.8 204.3h0M248.2 203.8h0M249.9 203.2h0M250.6 202.3h0M253.7 203.2h0M255.3 203.7h0M256.7 203.2h0M258.9 201.8h0M260.0 203.8h0M260.5 205.7h0M261.4 204.3h0M263.5 204.6h0M264.3 205.6h0M264.7 205.7h0M265.8 205.0h0M266.8 204.6h0M267.8 204.8h0M268.8 205.2h0M269.3 205.1h0M271.2 204.2h0M273.1 205.2h0M275.2 201.2h0M276.2 200.1h0M277.9 202.9h0M278.9 204.6h0M280.7 204.2h0M284.0 201.8h0M284.8 200.5h0M287.4 205.6h0M291.3 202.0h0M292.0 202.0h0M294.7 201.5h0M295.5 201.3h0M298.4 202.0h0M300.4 203.0h0M302.5 203.7h0M304.8 203.3h0M305.3 203.6h0M306.9 203.1h0M307.7 204.7h0M308.6 204.1h0M310.1 203.4h0M310.4 202.8h0M311.4 202.5h0M313.9 203.6h0M314.4 203.5h0M315.6 203.3h0M316.5 202.7h0M318.5 199.7h0M319.0 200.8h0M319.9 203.3h0M321.6 205.3h0M324.8 204.4h0M326.2 204.1h0M326.5 201.9h0M327.8 201.5h0M329.2 202.9h0M330.0 204.1h0M331.9 204.1h0M332.5 202.2h0M334.4 201.1h0M334.9 201.8h0M339.2 201.6h0M340.0 204.1h0M340.9 205.7h0M343.9 204.3h0M344.8 203.4h0M347.4 204.7h0M348.5 205.7h0M350.5 204.5h0M352.4 204.8h0M353.2 205.1h0M356.0 203.1h0M357.0 202.4h0M358.4 202.3h0M361.7 203.5h0M362.4 204.1h0M363.2 203.4h0M364.2 205.5h0M365.0 205.6h0M367.9 203.3h0M368.8 203.7h0M370.4 204.3h0M371.4 204.5h0M372.3 204.9h0M373.5 205.7h0M375.1 204.3h0M378.1 204.4h0M379.3 203.9h0M381.7 205.7h0M385.3 204.8h0M387.8 204.7h0M388.9 205.7h0M390.7 205.3h0M391.8 203.1h0M393.5 202.4h0M395.2 203.2h0M399.5 205.3h0M401.3 205.5h0M402.4 204.5h0M405.0 205.6h0M405.8 204.9h0M406.5 203.3h0M409.1 199.2h0M410.4 200.8h0M411.1 201.1h0M415.0 205.0h0M417.4 201.6h0M418.7 202.7h0M422.1 201.9h0M429.8 201.3h0M432.9 204.5h0M435.0 199.4h0M435.9 202.3h0M436.6 204.3h0M439.3 204.6h0M442.5 200.5h0M445.9 201.9h0M448.8 203.5h0M450.3 203.9h0M451.9 203.2h0M453.1 200.2h0M460.8 202.4h0M461.7 200.5h0M464.4 203.0h0M467.3 204.4h0M467.9 204.8h0M471.9 201.5h0M474.5 200.8h0M476.5 202.3h0M476.9 202.7h0M477.8 203.0h0M478.4 200.9h0M479.7 201.1h0M481.8 201.8h0M483.9 205.3h0M484.8 205.4h0M488.4 205.3h0M488.8 205.2h0M490.7 205.3h0M491.7 205.3h0M495.5 205.3h0M496.5 205.4h0M498.3 205.5h0M499.0 205.5h0M502.5 202.5h0M503.0 202.5h0M504.5 202.5h0M508.3 205.4h0M510.4 205.1h0M511.6 205.2h0M70.9 203.1h0M80.0 202.5h0M104.6 202.3h0M98.5 203.5h0M213.1 203.5h0M209.3 204.6h0M213.6 204.0h0M258.7 204.3h0M255.0 204.4h0M290.6 204.6h0M293.3 202.8h0M291.4 204.5h0M294.9 204.2h0M66.9 201.2h0M115.5 204.4h0M116.0 199.1h0M127.3 203.2h0M126.4 203.5h0M140.4 204.3h0M140.7 204.4h0M148.3 202.7h0M149.3 204.4h0M146.2 203.4h0M147.0 202.0h0M177.1 204.6h0M177.7 197.9h0M175.6 200.9h0M231.9 199.2h0M232.3 204.5h0M232.5 200.9h0M233.5 200.9h0M244.9 203.9h0M276.8 203.5h0M273.0 201.6h0M299.8 203.3h0M298.9 203.3h0M293.7 203.8h0M309.9 203.3h0M312.6 204.7h0M312.0 202.9h0M310.6 202.3h0M317.3 196.8h0M317.2 201.1h0M326.8 198.2h0M329.8 194.9h0M330.9 204.6h0M326.0 204.5h0M361.9 204.3h0M359.3 199.9h0M363.3 203.3h0M358.0 203.4h0M378.7 204.5h0M379.8 203.4h0M378.6 204.7h0M375.1 202.5h0M394.9 198.7h0M394.5 203.9h0M390.4 197.8h0M394.7 203.8h0M395.2 200.6h0M393.9 198.8h0M407.3 204.6h0M406.2 203.6h0M408.0 200.5h0M406.4 200.2h0M424.6 193.5h0M420.0 202.9h0M420.8 200.4h0M426.3 204.1h0M423.9 201.1h0M422.7 203.5h0M415.9 198.7h0M422.7 202.8h0M417.7 204.0h0M422.0 183.8h0M424.6 200.8h0M433.5 196.5h0M434.2 203.2h0M436.2 201.6h0M433.3 199.7h0M433.9 198.2h0M432.1 204.5h0M433.3 204.5h0M451.2 204.4h0M448.2 204.7h0M446.6 200.2h0M445.7 199.8h0M452.3 204.5h0M456.2 203.3h0M452.1 202.9h0M463.6 203.9h0M467.6 204.1h0M466.3 204.7h0M471.7 204.0h0M472.8 203.0h0M467.6 199.1h0M482.7 199.0h0M479.6 193.4h0M478.8 203.6h0M482.8 199.2h0M478.8 203.6h0M505.5 203.9h0M502.6 204.6h0M504.8 204.6h0M177.4 203.6h0M290.4 203.3h0M310.4 202.8h0M313.4 203.2h0M321.4 204.1h0M429.4 203.7h0M434.4 202.9h0M443.4 203.8h0M457.4 202.4h0M156.8 202.3h0M199.5 202.6h0M199.9 202.5h0M213.3 203.6h0M292.5 201.3h0M44.7 191.6h0M45.4 191.0h0M44.1 190.0h0M44.0 188.6h0M45.6 186.4h0M87.0 201.2h0M117.6 202.8h0M118.7 198.9h0M126.8 202.1h0M147.8 200.9h0M147.7 192.9h0M177.2 201.9h0M230.9 187.1h0M230.1 184.8h0M230.4 183.1h0M231.3 182.5h0M276.8 197.7h0M275.9 194.8h0M298.6 194.6h0M298.5 177.9h0M297.3 174.5h0M298.5 172.3h0M309.2 197.9h0M318.9 195.5h0M319.4 190.3h0M317.9 186.8h0M319.0 185.6h0M329.0 200.8h0M358.7 202.5h0M358.6 197.9h0M376.5 199.7h0M376.7 198.6h0M393.2 193.5h0M392.2 191.7h0M408.1 202.3h0M408.3 201.0h0M407.9 199.7h0M408.0 195.0h0M421.3 200.9h0M422.0 191.5h0M422.9 190.4h0M422.9 184.3h0M421.6 181.6h0M422.9 177.5h0M421.2 172.8h0M434.3 201.0h0M434.9 200.8h0M435.3 185.2h0M435.0 184.9h0M434.4 184.1h0M434.0 176.3h0M446.4 192.9h0M446.5 191.0h0M446.7 188.7h0M446.1 171.2h0M446.3 167.9h0M453.5 201.8h0M465.5 193.5h0M465.2 193.4h0M464.7 188.4h0M471.9 191.2h0M472.2 190.1h0M471.5 185.7h0M479.8 194.5h0M479.8 191.4h0M479.7 176.2h0M503.6 203.3h0" stroke="#1f1ff0" stroke-width="2.3" stroke-linecap="round" fill="none"/>
<path d="M45.2 205.7h0M45.1 204.4h0M45.3 203.1h0M45.4 202.2h0M45.4 201.3h0M45.2 200.4h0M45.6 199.3h0M46.4 205.7h0M46.2 204.2h0M46.4 202.7h0M46.2 201.7h0M46.7 200.7h0M46.5 199.7h0M47.0 205.7h0M47.2 204.4h0M47.3 203.3h0M47.1 202.1h0M47.3 200.7h0M47.2 199.6h0M48.5 205.7h0M48.1 204.7h0M48.0 203.4h0M47.9 202.2h0M48.4 200.8h0M49.1 205.7h0M49.0 204.4h0M49.3 203.0h0M49.1 201.8h0M49.1 200.9h0M50.0 205.7h0M49.8 204.4h0M49.9 203.2h0M49.8 202.2h0M50.7 205.7h0M50.9 204.5h0M51.1 203.0h0M50.8 201.6h0M51.8 205.7h0M51.8 204.7h0M52.0 203.5h0M53.1 205.7h0M53.5 205.7h0M54.8 205.7h0M55.4 205.7h0M56.0 205.7h0M57.1 205.7h0M58.2 205.7h0M59.3 205.7h0M60.0 205.7h0M61.2 205.7h0M61.0 204.6h0M61.9 205.7h0M62.2 204.7h0M63.2 205.7h0M63.0 204.7h0M62.7 203.6h0M62.9 202.7h0M64.4 205.7h0M64.4 204.2h0M65.0 205.7h0M66.0 205.7h0M67.0 205.7h0M68.0 205.7h0M68.4 205.7h0M68.9 204.7h0M69.7 205.7h0M69.5 204.5h0M71.0 205.7h0M71.6 205.7h0M72.3 205.7h0M73.4 205.7h0M74.1 205.7h0M74.2 204.5h0M75.3 205.7h0M75.1 204.4h0M76.2 205.7h0M76.0 204.7h0M76.2 203.3h0M77.3 205.7h0M77.2 204.5h0M77.2 203.1h0M78.5 205.7h0M78.3 204.7h0M78.4 203.1h0M78.7 205.7h0M79.1 204.4h0M80.1 205.7h0M79.7 204.2h0M80.8 205.7h0M81.0 204.5h0M82.0 205.7h0M82.7 205.7h0M83.9 205.7h0M84.8 205.7h0M85.9 205.7h0M86.5 205.7h0M86.1 204.5h0M87.6 205.7h0M87.6 204.8h0M87.3 203.6h0M88.2 205.7h0M88.0 204.7h0M87.9 203.7h0M89.2 205.7h0M90.2 205.7h0M91.3 205.7h0M92.1 205.7h0M91.9 204.2h0M92.8 205.7h0M92.7 204.8h0M93.0 203.9h0M92.7 202.8h0M93.8 205.7h0M93.8 204.7h0M93.7 203.5h0M94.9 205.7h0M95.7 205.7h0M96.2 205.7h0M97.3 205.7h0M97.4 204.5h0M98.2 205.7h0M98.1 204.2h0M98.4 202.8h0M98.5 201.9h0M99.1 205.7h0M99.3 204.5h0M99.5 203.0h0M99.4 201.6h0M100.0 205.7h0M100.2 204.7h0M100.5 203.8h0M100.4 202.5h0M100.4 201.2h0M101.3 205.7h0M101.0 204.4h0M101.1 203.0h0M101.1 202.1h0M101.1 200.7h0M102.2 205.7h0M102.3 204.4h0M102.3 203.1h0M102.0 202.1h0M102.3 201.1h0M102.7 205.7h0M103.0 204.4h0M102.8 203.0h0M102.9 201.8h0M103.9 205.7h0M103.6 204.8h0M103.9 203.4h0M103.5 202.2h0M104.2 205.7h0M104.7 204.5h0M104.6 203.5h0M104.7 202.3h0M105.0 205.7h0M105.3 204.5h0M105.1 203.4h0M106.2 205.7h0M106.3 204.7h0M106.3 203.4h0M107.1 205.7h0M107.0 204.5h0M106.9 203.6h0M108.0 205.7h0M107.9 204.7h0M108.2 203.2h0M109.0 205.7h0M108.7 204.3h0M109.0 203.0h0M110.1 205.7h0M109.8 204.7h0M109.7 203.6h0M110.5 205.7h0M110.6 204.4h0M110.4 203.5h0M111.8 205.7h0M111.5 204.2h0M112.2 205.7h0M112.4 204.7h0M113.2 205.7h0M113.8 205.7h0M114.9 205.7h0M116.4 205.7h0M117.3 205.7h0M117.2 204.8h0M118.1 205.7h0M118.1 204.8h0M119.4 205.7h0M119.3 204.3h0M119.1 203.1h0M119.2 201.7h0M120.0 205.7h0M120.3 204.4h0M119.9 203.4h0M120.2 202.2h0M120.0 201.1h0M121.1 205.7h0M121.0 204.2h0M120.9 203.2h0M121.9 205.7h0M121.8 204.4h0M122.7 205.7h0M123.9 205.7h0M124.4 205.7h0M125.4 205.7h0M125.2 204.7h0M126.4 205.7h0M126.7 204.7h0M127.5 205.7h0M128.2 205.7h0M129.0 205.7h0M129.7 205.7h0M130.8 205.7h0M131.7 205.7h0M132.4 205.7h0M132.8 205.7h0M134.0 205.7h0M134.3 205.7h0M135.2 205.7h0M136.4 205.7h0M136.6 204.5h0M137.8 205.7h0M137.5 204.4h0M137.5 203.3h0M137.3 201.9h0M138.1 205.7h0M138.3 204.5h0M138.6 202.9h0M139.3 205.7h0M139.0 204.5h0M140.3 205.7h0M140.8 205.7h0M141.9 205.7h0M142.6 205.7h0M143.9 205.7h0M144.1 204.3h0M144.9 205.7h0M144.9 204.4h0M145.7 205.7h0M146.4 205.7h0M146.3 204.7h0M147.1 205.7h0M147.5 204.6h0M147.3 203.6h0M148.1 205.7h0M148.4 204.6h0M149.2 205.7h0M149.6 204.6h0M150.4 205.7h0M150.9 205.7h0M152.0 205.7h0M152.7 205.7h0M153.8 205.7h0M154.6 205.7h0M155.6 205.7h0M156.6 205.7h0M157.7 205.7h0M158.6 205.7h0M159.6 205.7h0M160.2 205.7h0M161.2 205.7h0M161.9 205.7h0M162.2 204.3h0M162.7 205.7h0M162.8 204.8h0M163.7 205.7h0M163.3 204.5h0M164.6 205.7h0M164.5 204.3h0M165.4 205.7h0M165.3 204.7h0M166.4 205.7h0M166.4 204.6h0M166.2 203.7h0M166.8 205.7h0M166.9 204.7h0M167.2 203.2h0M167.9 205.7h0M168.0 204.6h0M167.9 203.3h0M167.6 201.9h0M168.5 205.7h0M168.7 204.2h0M168.8 203.0h0M168.5 201.9h0M169.8 205.7h0M169.6 204.4h0M169.2 203.3h0M169.3 202.4h0M170.4 205.7h0M170.3 204.4h0M170.5 203.5h0M170.5 202.6h0M171.6 205.7h0M171.3 204.5h0M171.3 203.0h0M172.5 205.7h0M172.2 204.6h0M172.6 203.3h0M173.5 205.7h0M173.6 204.7h0M173.4 203.8h0M174.4 205.7h0M174.2 204.2h0M174.5 203.2h0M175.3 205.7h0M175.2 204.6h0M175.6 203.1h0M175.1 201.8h0M176.3 205.7h0M176.1 204.7h0M176.1 203.6h0M176.5 202.5h0M176.5 201.2h0M177.2 205.7h0M177.3 204.6h0M177.0 203.1h0M176.9 201.6h0M177.0 200.6h0M178.4 205.7h0M178.0 204.6h0M178.3 203.1h0M178.3 201.8h0M178.2 200.2h0M179.4 205.7h0M179.1 204.4h0M179.3 203.4h0M179.5 202.5h0M179.0 201.5h0M179.8 205.7h0M180.2 204.8h0M180.2 203.5h0M179.8 202.1h0M180.8 205.7h0M181.4 204.2h0M180.9 202.7h0M182.2 205.7h0M182.2 204.3h0M183.0 205.7h0M182.9 204.5h0M184.3 205.7h0M184.2 204.5h0M184.8 205.7h0M185.4 205.7h0M186.7 205.7h0M187.5 205.7h0M188.1 205.7h0M189.2 205.7h0M190.2 205.7h0M190.1 204.6h0M190.6 205.7h0M190.7 204.7h0M190.9 203.2h0M191.7 205.7h0M191.8 204.3h0M191.6 203.0h0M192.4 205.7h0M192.8 204.5h0M192.4 203.3h0M193.3 205.7h0M193.6 204.3h0M193.2 203.4h0M193.3 202.3h0M194.3 205.7h0M194.5 204.8h0M194.1 203.8h0M194.4 202.3h0M195.0 205.7h0M194.9 204.6h0M195.3 203.4h0M195.2 202.1h0M196.2 205.7h0M196.1 204.2h0M196.3 202.9h0M195.9 201.8h0M197.3 205.7h0M197.2 204.4h0M197.0 203.2h0M196.9 201.9h0M197.9 205.7h0M198.1 204.5h0M198.0 203.2h0M198.4 201.9h0M199.1 205.7h0M198.8 204.2h0M198.9 202.9h0M199.4 201.5h0M200.0 205.7h0M200.2 204.4h0M200.0 203.2h0M199.8 201.6h0M200.7 205.7h0M200.6 204.8h0M200.5 203.6h0M200.7 202.5h0M200.7 201.1h0M201.7 205.7h0M201.8 204.3h0M201.6 203.3h0M202.8 205.7h0M203.8 205.7h0M204.8 205.7h0M205.2 205.7h0M206.2 205.7h0M207.2 205.7h0M208.3 205.7h0M208.7 205.7h0M209.6 205.7h0M210.9 205.7h0M211.7 205.7h0M212.7 205.7h0M212.8 204.5h0M213.4 205.7h0M213.5 204.7h0M214.4 205.7h0M215.4 205.7h0M216.5 205.7h0M217.3 205.7h0M218.0 205.7h0M219.0 205.7h0M220.1 205.7h0M221.3 205.7h0M221.1 204.6h0M222.4 205.7h0M222.1 204.6h0M222.9 205.7h0M224.0 205.7h0M225.2 205.7h0M226.1 205.7h0M226.8 205.7h0M227.7 205.7h0M227.4 204.4h0M228.3 205.7h0M228.3 204.5h0M229.5 205.7h0M229.3 204.8h0M229.5 203.4h0M230.6 205.7h0M230.3 204.2h0M230.1 203.0h0M231.2 205.7h0M231.3 204.7h0M231.3 203.8h0M230.8 202.9h0M232.0 205.7h0M232.0 204.3h0M233.1 205.7h0M233.5 205.7h0M234.7 205.7h0M235.3 205.7h0M236.1 205.7h0M236.3 204.4h0M236.1 203.2h0M237.1 205.7h0M237.5 204.8h0M237.4 203.4h0M237.3 202.3h0M238.1 205.7h0M238.1 204.2h0M239.1 205.7h0M240.4 205.7h0M241.2 205.7h0M241.4 204.6h0M242.0 205.7h0M242.4 204.5h0M243.4 205.7h0M244.3 205.7h0M245.1 205.7h0M246.1 205.7h0M247.0 205.7h0M248.0 205.7h0M247.5 204.6h0M248.4 205.7h0M249.6 205.7h0M249.5 204.4h0M250.9 205.7h0M250.3 204.7h0M250.4 203.6h0M251.9 205.7h0M251.4 204.2h0M251.6 202.9h0M252.6 205.7h0M252.6 204.2h0M252.4 203.0h0M253.3 205.7h0M253.5 204.7h0M253.8 203.2h0M254.8 205.7h0M254.3 204.8h0M255.6 205.7h0M255.3 204.3h0M256.3 205.7h0M256.5 204.7h0M256.5 203.8h0M257.4 205.7h0M257.0 204.2h0M257.0 203.0h0M258.1 205.7h0M258.1 204.3h0M257.9 203.0h0M257.9 201.9h0M258.8 205.7h0M258.7 204.5h0M259.1 203.5h0M259.5 205.7h0M260.7 205.7h0M261.8 205.7h0M262.7 205.7h0M263.2 205.7h0M264.2 205.7h0M265.1 205.7h0M265.7 205.7h0M266.7 205.7h0M267.3 205.7h0M268.3 205.7h0M269.6 205.7h0M270.4 205.7h0M271.3 205.7h0M271.7 205.7h0M272.9 205.7h0M273.4 205.7h0M274.5 205.7h0M274.1 204.7h0M275.0 205.7h0M275.4 204.2h0M275.0 203.3h0M275.3 202.1h0M276.2 205.7h0M276.1 204.7h0M275.8 203.3h0M276.3 201.9h0M277.2 205.7h0M276.8 204.3h0M276.8 203.3h0M277.2 202.1h0M277.7 205.7h0M278.2 204.5h0M278.9 205.7h0M279.9 205.7h0M280.8 205.7h0M281.2 205.7h0M282.3 205.7h0M283.2 205.7h0M283.2 204.7h0M284.0 205.7h0M283.7 204.7h0M283.8 203.8h0M283.8 202.6h0M285.0 205.7h0M284.8 204.4h0M285.0 203.0h0M285.0 201.8h0M285.7 205.7h0M285.5 204.4h0M286.0 203.3h0M287.0 205.7h0M287.6 205.7h0M288.1 205.7h0M289.2 205.7h0M290.4 205.7h0M290.4 204.5h0M291.3 205.7h0M290.9 204.2h0M292.3 205.7h0M292.0 204.4h0M292.3 203.0h0M292.8 205.7h0M293.0 204.6h0M292.8 203.4h0M293.7 205.7h0M293.6 204.6h0M293.9 203.4h0M294.9 205.7h0M294.5 204.2h0M294.9 203.0h0M295.7 205.7h0M295.9 204.5h0M295.6 203.2h0M296.8 205.7h0M296.5 204.4h0M296.4 203.4h0M296.6 202.3h0M297.6 205.7h0M297.9 204.4h0M297.6 203.3h0M297.4 201.9h0M298.4 205.7h0M298.7 204.2h0M298.9 202.8h0M299.5 205.7h0M299.3 204.7h0M300.4 205.7h0M300.2 204.8h0M301.2 205.7h0M301.8 205.7h0M302.7 205.7h0M303.4 205.7h0M304.9 205.7h0M304.4 204.8h0M305.4 205.7h0M305.8 204.8h0M305.5 203.5h0M306.9 205.7h0M306.7 204.5h0M307.9 205.7h0M309.0 205.7h0M308.7 204.7h0M310.0 205.7h0M309.6 204.7h0M310.4 205.7h0M310.5 204.5h0M311.5 205.7h0M311.5 204.7h0M311.4 203.7h0M312.5 205.7h0M312.4 204.3h0M313.6 205.7h0M313.6 204.3h0M314.5 205.7h0M314.7 204.7h0M314.8 203.7h0M315.7 205.7h0M315.5 204.7h0M315.4 203.5h0M316.3 205.7h0M316.2 204.8h0M316.3 203.3h0M317.1 205.7h0M317.1 204.8h0M317.0 203.8h0M317.1 202.4h0M318.5 205.7h0M318.1 204.7h0M318.4 203.8h0M318.2 202.5h0M318.4 201.4h0M318.9 205.7h0M319.4 204.7h0M319.2 203.4h0M318.8 202.5h0M319.8 205.7h0M319.8 204.4h0M320.0 203.0h0M320.6 205.7h0M322.0 205.7h0M322.3 205.7h0M323.2 205.7h0M324.3 205.7h0M325.2 205.7h0M326.0 205.7h0M326.9 205.7h0M326.7 204.6h0M326.8 203.1h0M327.4 205.7h0M327.3 204.6h0M327.7 203.3h0M327.4 202.2h0M328.6 205.7h0M328.4 204.7h0M328.6 203.6h0M328.6 202.4h0M329.5 205.7h0M329.1 204.3h0M329.9 205.7h0M330.0 204.4h0M330.7 205.7h0M332.0 205.7h0M331.9 204.2h0M332.4 205.7h0M332.8 204.2h0M332.9 202.9h0M333.6 205.7h0M333.3 204.3h0M333.5 203.3h0M334.4 205.7h0M334.1 204.3h0M334.4 203.3h0M334.1 202.2h0M335.0 205.7h0M335.2 204.4h0M335.2 203.0h0M335.0 201.5h0M336.0 205.7h0M335.9 204.7h0M335.7 203.2h0M335.9 202.3h0M336.1 201.3h0M336.9 205.7h0M337.1 204.6h0M336.9 203.4h0M336.9 202.3h0M337.9 205.7h0M338.1 204.5h0M337.9 203.4h0M337.9 202.5h0M339.4 205.7h0M339.2 204.2h0M340.1 205.7h0M340.0 204.2h0M340.9 205.7h0M342.1 205.7h0M342.8 205.7h0M344.1 205.7h0M343.7 204.7h0M344.9 205.7h0M344.8 204.8h0M344.6 203.5h0M346.0 205.7h0M345.6 204.3h0M346.6 205.7h0M347.3 205.7h0M348.4 205.7h0M349.3 205.7h0M350.1 205.7h0M351.1 205.7h0M352.1 205.7h0M353.7 205.7h0M354.3 205.7h0M354.0 204.7h0M354.9 205.7h0M355.0 204.4h0M356.2 205.7h0M355.7 204.2h0M356.7 205.7h0M357.2 204.7h0M357.7 205.7h0M357.8 204.2h0M357.7 203.3h0M358.5 205.7h0M358.7 204.6h0M358.7 203.3h0M358.4 202.2h0M359.3 205.7h0M359.7 204.7h0M359.5 203.7h0M359.5 202.5h0M360.4 205.7h0M360.8 204.4h0M360.8 203.0h0M361.7 205.7h0M361.8 204.2h0M362.6 205.7h0M362.6 204.6h0M363.3 205.7h0M363.9 205.7h0M364.9 205.7h0M366.4 205.7h0M366.9 205.7h0M367.8 205.7h0M368.8 205.7h0M368.7 204.8h0M369.1 203.8h0M370.0 205.7h0M370.0 204.7h0M370.8 205.7h0M371.6 205.7h0M372.5 205.7h0M373.5 205.7h0M373.9 205.7h0M375.4 205.7h0M375.2 204.3h0M376.5 205.7h0M376.3 204.5h0M377.2 205.7h0M377.1 204.3h0M378.4 205.7h0M379.0 205.7h0M380.5 205.7h0M380.7 205.7h0M382.1 205.7h0M382.6 205.7h0M383.0 204.8h0M383.7 205.7h0M383.7 204.3h0M384.0 203.2h0M384.4 205.7h0M384.2 204.2h0M384.4 203.0h0M385.3 205.7h0M386.3 205.7h0M386.8 205.7h0M388.0 205.7h0M389.0 205.7h0M390.1 205.7h0M391.2 205.7h0M391.4 205.7h0M392.6 205.7h0M392.3 204.8h0M393.2 205.7h0M393.7 204.7h0M394.1 205.7h0M394.6 204.8h0M394.8 205.7h0M394.8 204.5h0M395.8 205.7h0M396.2 204.5h0M395.8 203.4h0M396.7 205.7h0M396.7 204.6h0M396.9 203.7h0M397.9 205.7h0M399.0 205.7h0M399.5 205.7h0M400.7 205.7h0M401.6 205.7h0M402.4 205.7h0M403.1 205.7h0M404.0 205.7h0M404.9 205.7h0M405.8 205.7h0M406.7 205.7h0M406.9 204.6h0M406.8 203.5h0M407.4 205.7h0M407.4 204.5h0M407.2 203.0h0M407.6 202.1h0M407.5 200.9h0M408.4 205.7h0M408.6 204.3h0M408.2 203.3h0M408.2 202.3h0M408.6 201.1h0M408.4 199.9h0M408.4 199.0h0M409.5 205.7h0M409.1 204.3h0M409.2 203.0h0M409.2 201.8h0M409.2 200.6h0M410.1 205.7h0M410.1 204.3h0M410.1 203.2h0M410.0 201.8h0M410.5 200.5h0M410.9 205.7h0M411.1 204.5h0M411.1 203.2h0M411.3 202.0h0M411.9 205.7h0M412.3 204.2h0M413.1 205.7h0M414.0 205.7h0M414.9 205.7h0M415.6 205.7h0M416.3 205.7h0M416.6 204.4h0M416.8 203.0h0M416.4 202.0h0M417.5 205.7h0M417.1 204.4h0M417.5 203.1h0M417.1 201.9h0M418.7 205.7h0M418.4 204.7h0M419.2 205.7h0M419.5 204.7h0M420.0 205.7h0M421.0 205.7h0M421.2 204.8h0M421.2 203.7h0M421.8 205.7h0M422.1 204.2h0M421.9 203.3h0M423.0 205.7h0M423.0 204.6h0M422.9 203.2h0M423.5 205.7h0M423.8 204.5h0M423.9 203.6h0M424.5 205.7h0M424.5 204.3h0M425.5 205.7h0M425.6 204.7h0M425.1 203.7h0M426.5 205.7h0M426.6 204.7h0M426.2 203.3h0M427.0 205.7h0M427.2 204.7h0M427.2 203.6h0M427.7 205.7h0M428.2 204.3h0M427.7 203.1h0M428.5 205.7h0M428.9 204.5h0M428.8 203.3h0M428.9 202.4h0M429.8 205.7h0M429.7 204.6h0M429.8 203.2h0M430.9 205.7h0M430.7 204.8h0M432.2 205.7h0M433.3 205.7h0M434.0 205.7h0M434.1 204.7h0M433.6 203.6h0M433.6 202.4h0M434.5 205.7h0M434.6 204.5h0M434.6 203.2h0M434.7 201.9h0M434.9 200.8h0M434.6 199.8h0M435.7 205.7h0M436.1 204.8h0M435.9 203.8h0M436.6 205.7h0M437.3 205.7h0M438.7 205.7h0M439.2 205.7h0M440.1 205.7h0M440.3 204.6h0M441.1 205.7h0M440.6 204.3h0M442.1 205.7h0M442.2 204.4h0M442.2 203.3h0M442.7 205.7h0M442.5 204.6h0M442.8 203.5h0M442.5 202.2h0M443.8 205.7h0M443.7 204.1h0M443.5 203.0h0M443.7 201.5h0M444.5 205.7h0M444.0 204.3h0M444.2 202.9h0M444.6 201.9h0M445.3 205.7h0M445.2 204.2h0M445.2 202.8h0M445.0 201.5h0M446.4 205.7h0M446.3 204.5h0M446.4 203.5h0M445.9 202.1h0M447.0 205.7h0M447.1 204.2h0M446.9 202.9h0M447.1 201.4h0M447.7 205.7h0M448.2 204.4h0M448.7 205.7h0M450.1 205.7h0M450.0 204.5h0M450.7 205.7h0M451.1 204.6h0M452.1 205.7h0M452.2 204.8h0M451.9 203.8h0M453.3 205.7h0M453.1 204.6h0M453.1 203.0h0M452.9 201.5h0M454.0 205.7h0M454.0 204.5h0M453.7 203.5h0M453.8 202.5h0M453.8 201.1h0M454.6 205.7h0M454.8 204.4h0M454.8 202.9h0M455.8 205.7h0M455.7 204.2h0M456.0 203.1h0M456.6 205.7h0M457.4 205.7h0M457.4 204.6h0M458.5 205.7h0M458.3 204.8h0M458.5 203.4h0M459.2 205.7h0M459.3 204.2h0M460.2 205.7h0M459.9 204.4h0M460.1 203.4h0M460.9 205.7h0M460.7 204.2h0M460.7 202.9h0M462.0 205.7h0M461.7 204.7h0M461.6 203.2h0M461.7 202.1h0M462.5 205.7h0M462.9 204.7h0M462.8 203.5h0M463.6 205.7h0M463.5 204.5h0M464.5 205.7h0M464.1 204.5h0M465.0 205.7h0M465.2 204.6h0M464.8 203.5h0M465.9 205.7h0M465.7 204.3h0M467.2 205.7h0M468.0 205.7h0M469.1 205.7h0M469.6 205.7h0M469.9 204.5h0M470.8 205.7h0M471.0 204.6h0M471.0 203.2h0M472.0 205.7h0M471.9 204.2h0M471.9 202.8h0M472.6 205.7h0M472.8 204.8h0M472.6 203.3h0M472.6 202.3h0M472.9 201.4h0M473.4 205.7h0M473.5 204.3h0M473.7 203.4h0M473.5 202.4h0M473.6 201.5h0M474.1 205.7h0M474.4 204.7h0M474.2 203.6h0M474.2 202.3h0M475.1 205.7h0M475.1 204.3h0M475.3 203.1h0M475.4 202.2h0M476.3 205.7h0M476.4 204.7h0M476.4 203.1h0M476.7 205.7h0M477.1 204.5h0M476.9 203.2h0M477.9 205.7h0M477.7 204.5h0M477.9 203.5h0M478.9 205.7h0M479.0 204.2h0M478.9 202.8h0M479.9 205.7h0M479.7 204.6h0M479.9 203.7h0M479.7 202.1h0M480.8 205.7h0M480.6 204.8h0M481.0 203.8h0M481.9 205.7h0M481.7 204.3h0M481.9 203.3h0M482.9 205.7h0M483.7 205.7h0M484.5 205.7h0M485.3 205.7h0M486.2 205.7h0M487.1 205.7h0M488.2 205.7h0M488.7 205.7h0M489.9 205.7h0M490.5 205.7h0M491.7 205.7h0M492.5 205.7h0M493.2 205.7h0M494.2 205.7h0M495.4 205.7h0M496.0 205.7h0M497.2 205.7h0M498.0 205.7h0M499.1 205.7h0M499.6 205.7h0M500.9 205.7h0M501.8 205.7h0M502.7 205.7h0M502.3 204.8h0M503.4 205.7h0M503.4 204.8h0M504.0 205.7h0M505.0 205.7h0M505.3 204.8h0M505.8 205.7h0M506.7 205.7h0M507.1 205.7h0M508.3 205.7h0M509.5 205.7h0M510.5 205.7h0M511.3 205.7h0M77.0 204.2h0M75.7 204.1h0M81.7 204.2h0M77.3 203.9h0M100.6 200.6h0M103.0 203.5h0M97.5 201.9h0M156.2 204.4h0M156.1 200.2h0M155.6 200.7h0M158.3 204.3h0M157.3 200.9h0M169.8 204.0h0M173.0 202.9h0M169.9 204.3h0M166.8 204.7h0M200.4 202.2h0M201.3 203.1h0M199.5 204.6h0M198.6 204.7h0M213.3 202.7h0M212.7 204.5h0M211.2 203.8h0M255.7 202.0h0M255.3 204.4h0M252.5 204.4h0M289.8 203.3h0M294.9 204.6h0M292.5 203.5h0M47.2 200.2h0M45.4 203.2h0M46.4 201.5h0M45.4 202.9h0M45.8 204.4h0M65.5 204.3h0M67.2 204.5h0M65.2 200.0h0M69.2 204.6h0M63.8 201.4h0M69.9 204.3h0M86.6 201.3h0M89.0 200.3h0M88.4 202.5h0M85.7 204.3h0M88.1 204.0h0M90.0 204.4h0M117.7 202.7h0M120.5 202.1h0M118.4 204.2h0M119.3 200.2h0M116.4 204.2h0M126.7 204.3h0M125.5 203.7h0M129.4 203.8h0M131.3 204.3h0M131.2 202.9h0M138.3 201.4h0M138.0 204.0h0M136.2 204.7h0M151.3 204.0h0M149.5 204.3h0M145.4 199.3h0M147.8 204.1h0M149.9 197.7h0M177.8 204.0h0M178.6 202.6h0M178.5 202.6h0M230.4 201.8h0M230.1 203.8h0M229.0 202.2h0M234.3 201.4h0M230.9 201.2h0M234.8 203.8h0M229.7 193.9h0M225.6 196.9h0M234.1 200.2h0M239.9 204.5h0M238.5 204.3h0M243.3 203.8h0M242.3 204.6h0M240.9 203.7h0M241.6 202.7h0M277.1 202.1h0M277.9 203.8h0M280.0 200.3h0M279.1 202.5h0M273.4 204.7h0M276.5 204.5h0M296.0 203.9h0M298.0 184.9h0M302.4 188.8h0M301.8 202.9h0M296.9 201.8h0M300.4 204.5h0M298.6 200.3h0M297.7 201.7h0M295.7 192.7h0M299.4 199.4h0M298.5 199.0h0M299.3 204.3h0M299.5 203.5h0M293.8 199.8h0M299.1 200.8h0M311.2 202.8h0M310.4 202.7h0M310.6 202.6h0M312.1 204.4h0M314.1 200.1h0M317.2 204.6h0M322.4 204.5h0M318.6 202.9h0M320.9 202.6h0M320.8 201.0h0M318.9 204.5h0M317.6 202.8h0M317.9 203.6h0M330.8 202.3h0M325.2 203.9h0M330.8 202.3h0M329.1 204.5h0M330.8 201.1h0M329.4 204.5h0M361.0 200.8h0M357.6 204.4h0M360.4 197.0h0M358.3 201.9h0M381.5 203.7h0M376.9 193.5h0M379.1 200.1h0M378.5 203.7h0M392.4 203.7h0M391.6 203.2h0M386.7 199.4h0M391.8 198.9h0M391.2 202.3h0M406.8 198.8h0M412.4 201.6h0M409.2 203.9h0M410.9 203.6h0M409.2 204.5h0M407.1 201.0h0M409.3 203.7h0M421.4 201.2h0M416.8 199.4h0M425.0 202.5h0M420.9 204.6h0M417.8 202.0h0M419.4 196.8h0M428.7 202.0h0M424.3 203.7h0M427.8 194.8h0M436.4 204.6h0M438.1 195.0h0M433.5 204.2h0M435.6 201.4h0M431.4 203.6h0M431.0 204.4h0M434.5 203.7h0M432.2 204.0h0M435.0 200.6h0M442.4 177.1h0M448.2 198.1h0M447.6 202.3h0M448.9 203.1h0M447.3 203.7h0M448.4 201.5h0M443.5 188.2h0M447.5 191.5h0M448.4 204.0h0M450.3 202.7h0M446.3 202.7h0M445.5 195.6h0M443.9 202.4h0M451.0 191.1h0M442.7 197.6h0M451.8 199.6h0M457.7 203.7h0M454.0 204.0h0M453.0 203.4h0M451.9 202.8h0M456.6 204.1h0M451.4 200.0h0M455.8 204.1h0M465.7 201.4h0M463.6 204.1h0M465.5 204.0h0M463.9 196.4h0M459.2 197.5h0M463.7 199.2h0M469.6 200.8h0M468.0 194.1h0M465.5 201.9h0M472.8 202.0h0M473.2 194.7h0M474.4 203.3h0M475.6 204.2h0M471.9 204.3h0M471.9 202.6h0M471.2 204.6h0M469.1 202.1h0M484.5 201.8h0M481.4 200.6h0M479.7 199.1h0M480.0 200.8h0M476.9 195.4h0M484.1 200.6h0M471.4 199.7h0M478.6 197.8h0M486.2 199.7h0M483.6 199.7h0M73.4 199.1h0M80.4 203.5h0M83.4 203.5h0M144.4 204.0h0M163.4 203.3h0M173.4 204.2h0M180.4 204.0h0M222.4 204.2h0M277.4 204.0h0M330.4 204.2h0M389.4 200.4h0M428.4 203.7h0M452.4 199.2h0M462.4 203.7h0M477.4 204.1h0M78.4 202.3h0M77.5 201.7h0M77.3 200.9h0M99.7 202.9h0M100.2 200.4h0M99.6 199.9h0M157.6 200.1h0M157.2 199.9h0M170.8 202.8h0M169.8 202.5h0M170.3 200.9h0M199.8 200.9h0M212.8 202.5h0M212.5 197.9h0M255.3 202.9h0M255.3 200.6h0M255.2 198.9h0M292.6 202.2h0M291.8 198.9h0M45.4 198.8h0M45.3 193.9h0M44.4 181.5h0M67.0 202.9h0M67.7 199.7h0M67.6 198.9h0M87.2 199.6h0M87.2 198.9h0M117.4 203.2h0M118.9 196.0h0M126.4 199.1h0M125.3 197.9h0M138.7 200.0h0M138.4 199.6h0M138.5 197.0h0M148.1 199.7h0M148.0 191.7h0M148.3 189.8h0M148.7 189.2h0M177.8 200.6h0M177.5 196.1h0M178.3 195.0h0M230.7 201.3h0M230.9 198.6h0M230.6 196.5h0M231.3 194.5h0M231.3 190.5h0M231.3 177.6h0M241.4 199.5h0M241.8 197.8h0M241.4 197.5h0M276.2 201.4h0M276.8 200.9h0M276.2 190.3h0M277.2 188.2h0M297.4 201.1h0M298.4 195.0h0M297.2 191.4h0M297.3 188.8h0M297.3 184.4h0M297.6 182.1h0M297.9 180.7h0M297.3 177.7h0M297.1 175.9h0M297.5 163.5h0M309.8 200.6h0M310.0 196.5h0M309.9 196.0h0M318.9 200.1h0M318.9 195.5h0M318.0 194.1h0M318.7 183.4h0M327.9 199.4h0M328.4 194.4h0M328.5 193.4h0M329.1 193.2h0M329.3 189.2h0M359.3 196.0h0M359.3 195.1h0M359.3 193.1h0M377.6 197.8h0M377.5 196.7h0M376.3 190.6h0M376.9 190.2h0M393.7 200.2h0M393.1 199.0h0M392.2 197.3h0M393.7 193.9h0M392.3 186.0h0M393.4 181.9h0M392.8 180.5h0M408.2 203.5h0M408.6 202.1h0M408.6 185.3h0M422.0 199.3h0M421.3 195.4h0M421.8 191.4h0M422.7 191.2h0M422.2 177.6h0M422.6 175.1h0M421.4 171.6h0M422.2 165.2h0M421.9 159.1h0M434.3 202.5h0M434.3 198.3h0M434.5 190.1h0M434.9 175.1h0M447.1 197.4h0M446.7 196.8h0M446.6 184.4h0M446.8 176.5h0M446.9 171.7h0M446.8 169.8h0M447.8 169.4h0M446.6 169.3h0M447.1 163.0h0M454.4 201.5h0M454.4 196.2h0M454.1 196.0h0M464.8 200.8h0M465.4 198.7h0M465.6 190.6h0M464.8 184.8h0M472.5 197.3h0M471.7 190.9h0M472.7 185.6h0M471.3 184.4h0M479.2 199.0h0M479.1 198.9h0M480.5 186.3h0M479.5 181.8h0M480.0 177.5h0M480.3 176.9h0M480.9 176.1h0M503.0 203.7h0M504.1 202.3h0" stroke="#e3120b" stroke-width="2.3" stroke-linecap="round" fill="none"/>
<path d="M44.4,207.3 L44.4,154.0 M41.199999999999996,154.0 L511.70000000000005,154.0 Q513.2,154.0 513.2,155.5 L513.2,207.3" fill="none" stroke="#222" stroke-width="1.3"/>
<line x1="43.80" y1="207.40" x2="513.80" y2="207.40" stroke="#1a1a1a" stroke-width="1.4" />
<line x1="41.20" y1="207.30" x2="44.40" y2="207.30" stroke="#222" stroke-width="1" />
<line x1="41.20" y1="198.42" x2="44.40" y2="198.42" stroke="#222" stroke-width="1" />
<line x1="41.20" y1="189.53" x2="44.40" y2="189.53" stroke="#222" stroke-width="1" />
<line x1="41.20" y1="180.65" x2="44.40" y2="180.65" stroke="#222" stroke-width="1" />
<line x1="41.20" y1="171.77" x2="44.40" y2="171.77" stroke="#222" stroke-width="1" />
<line x1="41.20" y1="162.88" x2="44.40" y2="162.88" stroke="#222" stroke-width="1" />
<line x1="41.20" y1="154.00" x2="44.40" y2="154.00" stroke="#222" stroke-width="1" />
<text transform="translate(37.90 203.42) scale(1.0 1)" font-size="7.67" text-anchor="end" fill="#1a1a1a" stroke="#1a1a1a" stroke-width="0.08">200</text>
<text transform="translate(37.90 194.53) scale(1.0 1)" font-size="7.67" text-anchor="end" fill="#1a1a1a" stroke="#1a1a1a" stroke-width="0.08">400</text>
<text transform="translate(37.90 185.65) scale(1.0 1)" font-size="7.67" text-anchor="end" fill="#1a1a1a" stroke="#1a1a1a" stroke-width="0.08">600</text>
<text transform="translate(37.90 176.77) scale(1.0 1)" font-size="7.67" text-anchor="end" fill="#1a1a1a" stroke="#1a1a1a" stroke-width="0.08">800</text>
<text transform="translate(37.90 167.88) scale(1.0 1)" font-size="7.67" text-anchor="end" fill="#1a1a1a" stroke="#1a1a1a" stroke-width="0.08">1000</text>
<text transform="translate(48.60 167.40) scale(0.9 1)" font-size="7.78" text-anchor="start" fill="#1a1a1a" stroke="#1a1a1a" stroke-width="0.2">Day 3</text>
<rect x="80.75" y="219.50" width="38.00" height="51.50" fill="#ebebeb"/>
<rect x="148.75" y="219.50" width="28.75" height="51.50" fill="#ebebeb"/>
<rect x="204.50" y="219.50" width="26.25" height="51.50" fill="#ebebeb"/>
<rect x="255.00" y="219.50" width="22.50" height="51.50" fill="#ebebeb"/>
<rect x="299.50" y="219.50" width="20.00" height="51.50" fill="#ebebeb"/>
<rect x="339.50" y="219.50" width="21.00" height="51.50" fill="#ebebeb"/>
<rect x="378.00" y="219.50" width="17.00" height="51.50" fill="#ebebeb"/>
<rect x="409.50" y="219.50" width="13.75" height="51.50" fill="#ebebeb"/>
<rect x="435.50" y="219.50" width="11.00" height="51.50" fill="#ebebeb"/>
<rect x="456.30" y="219.50" width="9.80" height="51.50" fill="#ebebeb"/>
<rect x="475.00" y="219.50" width="6.90" height="51.50" fill="#ebebeb"/>
<rect x="505.20" y="219.50" width="6.60" height="51.50" fill="#ebebeb"/>
<path d="M45.5 261.3h0M45.6 257.8h0M46.8 263.8h0M47.8 266.4h0M48.6 265.1h0M49.9 267.2h0M50.6 267.4h0M50.6 265.9h0M51.3 265.9h0M53.4 268.3h0M53.3 266.5h0M54.1 267.5h0M54.7 268.7h0M55.0 267.0h0M55.6 267.2h0M57.4 268.4h0M64.2 268.8h0M67.2 265.3h0M67.5 265.7h0M68.8 264.8h0M69.7 268.1h0M70.9 267.4h0M72.7 268.5h0M77.9 267.3h0M78.8 267.9h0M86.8 265.6h0M90.2 268.3h0M96.2 267.5h0M97.0 267.7h0M96.5 266.1h0M97.7 268.1h0M98.9 268.5h0M100.7 268.9h0M107.7 268.3h0M109.7 265.0h0M110.3 266.8h0M112.3 268.6h0M113.6 268.8h0M119.1 266.5h0M119.0 263.6h0M120.1 265.9h0M119.9 264.8h0M119.8 262.9h0M121.3 267.4h0M123.0 268.5h0M124.1 267.8h0M125.2 266.6h0M125.8 263.5h0M127.1 266.9h0M127.0 265.6h0M128.1 267.9h0M127.7 266.8h0M131.3 268.5h0M131.9 268.5h0M132.8 268.5h0M135.1 268.6h0M137.6 264.5h0M137.6 261.7h0M138.0 262.1h0M146.8 266.5h0M148.0 265.2h0M148.2 263.6h0M154.5 268.3h0M155.5 267.7h0M158.3 267.6h0M158.0 266.2h0M159.7 267.8h0M160.3 268.3h0M163.2 268.8h0M167.3 268.0h0M167.9 267.8h0M173.5 268.5h0M177.8 265.5h0M187.8 268.9h0M189.6 268.8h0M192.4 268.3h0M194.1 268.0h0M195.3 266.5h0M196.2 266.3h0M200.4 268.0h0M210.0 267.1h0M210.6 265.0h0M211.8 265.6h0M212.7 267.6h0M212.3 266.5h0M213.5 268.4h0M215.1 268.8h0M218.5 268.8h0M218.0 267.6h0M220.7 269.0h0M222.1 269.0h0M226.2 268.7h0M227.9 267.4h0M230.5 265.5h0M230.3 262.4h0M231.1 264.7h0M232.3 266.1h0M239.0 268.7h0M241.9 265.3h0M242.2 263.4h0M242.0 262.1h0M243.2 266.3h0M245.2 268.6h0M250.7 268.4h0M251.9 264.5h0M252.6 266.3h0M252.7 263.6h0M254.6 265.2h0M254.2 264.2h0M256.0 268.3h0M265.9 268.6h0M270.6 268.0h0M274.2 267.9h0M275.0 266.7h0M276.4 264.0h0M282.9 268.4h0M288.8 268.7h0M290.0 268.7h0M290.4 268.7h0M291.6 268.8h0M292.5 268.9h0M295.3 268.3h0M296.3 267.1h0M297.4 265.4h0M297.3 264.3h0M297.1 262.1h0M298.1 264.8h0M298.2 263.7h0M299.2 264.4h0M300.1 267.5h0M299.8 266.2h0M301.1 268.2h0M307.4 268.1h0M308.4 268.1h0M317.5 267.0h0M318.0 265.9h0M318.4 264.8h0M318.1 262.9h0M319.0 264.0h0M319.0 262.7h0M320.2 266.5h0M319.7 263.6h0M320.9 267.6h0M322.3 268.5h0M324.8 268.4h0M327.7 263.8h0M328.7 265.4h0M329.1 263.7h0M329.3 263.4h0M330.6 267.4h0M330.3 266.3h0M330.8 268.3h0M331.8 268.7h0M332.9 268.9h0M333.7 268.5h0M336.1 267.5h0M337.9 266.9h0M339.2 267.9h0M343.1 268.6h0M343.9 268.7h0M346.1 268.8h0M348.5 268.7h0M353.1 268.4h0M356.0 268.6h0M357.7 267.8h0M358.7 265.0h0M359.5 264.3h0M359.6 262.1h0M361.0 267.5h0M363.2 268.2h0M367.8 268.8h0M377.0 263.6h0M390.0 267.6h0M391.1 266.4h0M392.1 265.0h0M392.4 261.5h0M394.7 265.6h0M395.9 268.6h0M399.4 268.3h0M401.0 268.1h0M407.0 267.3h0M407.3 262.8h0M408.8 259.8h0M409.6 265.3h0M409.1 264.0h0M409.4 263.0h0M409.2 261.1h0M410.0 267.1h0M410.6 265.4h0M418.5 268.7h0M420.3 267.0h0M422.3 265.6h0M422.2 263.3h0M424.2 268.2h0M426.7 269.0h0M433.0 265.8h0M433.9 263.5h0M444.6 268.2h0M445.6 266.8h0M447.1 264.3h0M446.7 261.4h0M447.8 262.4h0M448.7 266.8h0M448.8 265.0h0M450.5 268.0h0M451.3 267.8h0M453.2 264.1h0M453.0 262.5h0M454.0 263.7h0M454.0 262.2h0M455.4 263.7h0M457.3 268.3h0M459.2 268.5h0M462.4 268.8h0M466.1 266.0h0M467.1 267.2h0M470.4 265.3h0M471.4 262.9h0M471.3 261.6h0M473.2 266.8h0M476.8 268.3h0M477.0 266.8h0M479.9 265.0h0M480.0 262.3h0M479.8 259.3h0M505.0 268.6h0M46.7 267.1h0M45.8 266.9h0M50.2 264.1h0M46.9 266.8h0M45.4 265.0h0M46.9 266.1h0M47.2 264.3h0M49.5 268.0h0M51.5 268.0h0M67.2 262.8h0M66.0 264.6h0M71.5 268.1h0M59.2 264.6h0M67.0 266.8h0M77.8 268.0h0M75.2 267.4h0M74.0 268.2h0M75.6 266.9h0M77.1 267.1h0M93.2 267.9h0M84.8 266.4h0M86.0 268.4h0M85.8 266.7h0M89.2 262.5h0M95.1 267.2h0M89.0 267.0h0M85.8 267.4h0M89.0 265.1h0M95.0 268.4h0M112.5 266.5h0M116.5 266.8h0M111.5 268.3h0M118.7 266.4h0M103.6 267.9h0M105.2 266.7h0M107.2 263.6h0M122.2 265.6h0M118.3 267.7h0M127.6 267.9h0M118.8 268.2h0M116.8 267.5h0M119.8 263.5h0M120.6 264.1h0M129.7 260.8h0M120.7 262.7h0M126.8 264.9h0M129.4 262.4h0M139.5 267.5h0M135.7 266.9h0M143.5 265.5h0M134.4 268.2h0M137.8 266.2h0M148.1 268.4h0M148.5 268.4h0M152.2 265.5h0M147.1 267.0h0M142.9 267.9h0M151.5 266.6h0M151.5 268.4h0M148.1 262.0h0M143.5 262.8h0M181.2 267.4h0M176.8 265.2h0M176.2 265.3h0M174.9 267.8h0M175.8 267.6h0M176.9 267.3h0M199.6 266.7h0M192.5 267.5h0M195.5 267.9h0M195.8 267.3h0M196.8 268.2h0M206.5 267.2h0M212.4 265.9h0M208.5 265.3h0M210.2 267.9h0M210.8 268.3h0M233.1 267.0h0M230.8 267.2h0M231.1 259.7h0M229.8 265.0h0M238.8 268.2h0M231.8 268.2h0M236.0 261.9h0M229.8 264.8h0M234.6 264.1h0M235.3 265.5h0M228.5 265.8h0M235.0 265.3h0M243.7 267.0h0M245.6 267.7h0M240.4 265.5h0M241.2 267.9h0M246.2 265.4h0M243.0 266.0h0M242.4 265.1h0M241.9 265.6h0M255.0 267.3h0M252.0 264.9h0M258.9 263.2h0M255.6 263.1h0M253.4 268.2h0M255.7 266.6h0M257.9 262.0h0M276.2 267.3h0M275.8 266.8h0M282.7 265.1h0M273.9 267.3h0M283.8 266.4h0M297.7 258.5h0M304.2 267.1h0M294.5 263.5h0M291.4 263.6h0M297.8 265.4h0M298.2 266.6h0M301.7 267.3h0M302.9 257.2h0M293.0 267.6h0M301.6 267.4h0M291.7 264.7h0M298.3 263.9h0M304.6 264.9h0M297.0 262.8h0M320.1 266.3h0M312.1 263.3h0M320.8 265.1h0M318.3 266.6h0M315.1 262.1h0M325.0 264.9h0M310.1 263.9h0M311.0 265.0h0M322.1 255.6h0M314.7 263.8h0M318.6 257.4h0M326.3 268.3h0M331.0 267.0h0M333.3 262.6h0M330.3 265.0h0M325.8 267.7h0M324.9 262.4h0M328.4 267.4h0M330.3 262.9h0M342.0 265.1h0M337.3 265.1h0M340.5 267.4h0M340.6 266.0h0M342.5 268.2h0M329.5 267.4h0M362.7 259.4h0M355.9 267.8h0M360.5 266.8h0M362.8 268.0h0M362.1 267.4h0M360.3 267.2h0M355.8 267.9h0M375.4 267.1h0M375.7 267.1h0M374.6 266.5h0M375.6 266.6h0M376.4 267.9h0M375.9 266.4h0M377.1 266.0h0M377.4 267.1h0M395.2 267.5h0M391.2 264.4h0M391.4 268.1h0M395.5 268.3h0M398.0 262.3h0M384.0 263.8h0M395.9 264.7h0M405.5 267.4h0M409.5 267.2h0M406.1 263.9h0M417.3 261.1h0M406.1 261.3h0M412.4 263.6h0M409.5 256.5h0M399.5 268.5h0M412.6 266.1h0M411.1 264.4h0M409.2 262.5h0M411.6 268.4h0M411.7 267.1h0M416.9 268.3h0M426.5 266.1h0M422.9 258.6h0M423.1 268.2h0M425.3 264.0h0M423.8 266.7h0M419.0 267.9h0M423.5 267.4h0M427.7 266.9h0M423.6 249.6h0M413.3 264.3h0M420.7 249.8h0M427.3 261.4h0M419.0 261.9h0M419.9 266.5h0M424.1 256.2h0M422.1 265.8h0M424.4 265.5h0M420.4 264.8h0M433.2 262.5h0M433.4 266.5h0M432.2 268.3h0M439.6 267.3h0M438.3 256.9h0M427.8 268.2h0M441.0 267.5h0M441.3 266.3h0M430.6 263.4h0M433.9 262.2h0M431.3 264.0h0M446.2 265.5h0M443.2 266.0h0M434.4 267.9h0M447.7 263.0h0M447.0 267.2h0M430.5 250.4h0M447.0 256.2h0M440.8 267.4h0M446.5 260.8h0M453.4 255.9h0M446.2 261.3h0M443.8 266.9h0M451.3 264.9h0M440.8 260.7h0M444.3 268.5h0M448.9 266.7h0M450.8 268.2h0M455.1 267.3h0M457.5 266.6h0M451.4 265.8h0M452.3 268.0h0M450.6 267.6h0M453.1 262.4h0M449.4 266.9h0M452.9 265.2h0M463.4 266.8h0M458.8 265.2h0M465.6 268.3h0M469.7 266.1h0M471.8 264.4h0M463.0 267.7h0M457.5 264.8h0M460.9 268.0h0M475.3 267.5h0M474.8 265.3h0M471.0 261.8h0M471.1 261.5h0M467.3 264.4h0M465.8 268.3h0M470.5 267.0h0M472.1 267.8h0M470.0 264.4h0M483.9 267.8h0M485.0 266.9h0M476.0 262.3h0M474.6 264.5h0M477.6 257.0h0M475.1 267.4h0M501.6 268.1h0M501.3 265.2h0M503.1 267.8h0M45.4 267.7h0M47.4 266.8h0M50.4 266.3h0M55.4 263.0h0M59.4 265.8h0M65.4 266.4h0M66.4 267.9h0M67.4 268.1h0M76.4 265.0h0M79.4 268.3h0M85.4 265.4h0M88.4 264.0h0M94.4 262.2h0M100.4 268.0h0M102.4 268.0h0M103.4 266.8h0M104.4 265.5h0M131.4 267.6h0M141.4 268.2h0M165.4 268.0h0M167.4 268.4h0M171.4 268.4h0M182.4 268.0h0M211.4 262.2h0M235.4 265.5h0M239.4 267.1h0M244.4 268.3h0M246.4 267.9h0M254.4 267.7h0M259.4 263.7h0M282.4 263.7h0M290.4 266.7h0M298.4 264.7h0M320.4 268.1h0M325.4 267.6h0M327.4 267.2h0M333.4 268.3h0M337.4 265.7h0M340.4 266.9h0M344.4 265.0h0M350.4 267.2h0M351.4 268.4h0M352.4 267.5h0M354.4 268.2h0M362.4 268.1h0M388.4 268.3h0M389.4 266.3h0M390.4 267.2h0M397.4 268.1h0M398.4 268.0h0M400.4 266.6h0M409.4 266.2h0M412.4 268.1h0M417.4 268.0h0M419.4 266.7h0M427.4 268.4h0M428.4 263.5h0M432.4 262.2h0M433.4 268.1h0M434.4 262.2h0M447.4 267.1h0M469.4 268.2h0M470.4 266.7h0M473.4 266.8h0M476.4 267.6h0M477.4 265.2h0M481.4 267.8h0M44.4 266.1h0M44.2 258.4h0M45.0 254.7h0M44.6 253.4h0M67.1 267.6h0M66.4 266.8h0M67.7 262.6h0M76.7 266.7h0M77.5 266.6h0M77.3 265.5h0M86.7 264.8h0M88.0 262.9h0M87.4 262.6h0M92.6 264.0h0M93.7 263.9h0M92.8 261.7h0M109.6 261.2h0M119.6 266.5h0M120.5 259.2h0M125.1 267.9h0M125.7 265.2h0M126.6 260.9h0M126.6 259.2h0M137.2 264.5h0M138.8 262.8h0M137.9 256.8h0M148.7 267.3h0M149.1 267.0h0M148.6 265.8h0M147.7 264.9h0M149.1 253.9h0M147.5 251.0h0M177.4 266.7h0M176.8 266.6h0M177.6 261.8h0M176.6 258.3h0M196.1 268.0h0M196.3 261.7h0M210.5 264.1h0M211.8 263.6h0M211.6 261.2h0M230.2 263.9h0M231.6 263.1h0M230.6 263.0h0M230.1 259.1h0M231.6 254.9h0M230.9 250.7h0M230.4 241.3h0M242.7 266.2h0M242.5 260.8h0M241.3 256.9h0M241.8 255.8h0M253.8 264.8h0M253.1 262.7h0M252.8 259.7h0M277.1 268.4h0M276.6 264.2h0M276.9 256.5h0M276.8 255.3h0M276.4 252.0h0M297.3 261.6h0M297.1 259.5h0M297.9 255.5h0M297.4 255.1h0M298.0 254.3h0M297.2 240.8h0M297.7 240.6h0M298.2 238.9h0M298.1 237.4h0M319.0 268.1h0M319.3 255.2h0M318.5 249.5h0M319.3 246.1h0M318.7 244.6h0M317.9 241.8h0M328.3 258.3h0M328.3 257.8h0M340.1 265.6h0M339.1 263.6h0M360.1 266.8h0M360.3 261.7h0M359.6 258.6h0M359.7 258.3h0M376.7 263.7h0M376.4 255.2h0M377.3 254.9h0M377.8 253.4h0M392.3 266.5h0M393.1 260.7h0M393.8 257.5h0M393.2 255.8h0M392.4 251.5h0M408.8 267.5h0M408.4 264.3h0M408.1 262.6h0M408.5 262.5h0M408.3 259.0h0M409.2 257.1h0M409.5 246.3h0M408.4 239.4h0M422.5 261.0h0M422.4 260.5h0M421.2 259.4h0M421.2 251.2h0M422.6 248.6h0M421.6 239.6h0M422.1 237.7h0M422.7 234.5h0M421.9 232.2h0M421.8 230.3h0M421.8 228.0h0M421.4 225.9h0M422.0 225.3h0M434.5 267.6h0M434.2 265.4h0M434.7 259.4h0M433.7 259.4h0M434.7 255.8h0M434.0 254.9h0M434.9 243.8h0M434.6 242.3h0M446.9 268.3h0M446.3 258.0h0M447.4 256.3h0M446.4 247.2h0M447.2 246.6h0M447.2 236.4h0M447.1 236.4h0M446.7 234.1h0M447.5 225.5h0M447.2 222.9h0M453.9 267.2h0M454.6 264.7h0M454.5 260.1h0M453.2 256.3h0M465.2 265.3h0M464.7 262.9h0M465.0 258.8h0M464.7 258.8h0M471.6 261.6h0M471.2 258.0h0M472.1 255.7h0M472.9 252.9h0M480.5 266.8h0M479.6 255.5h0M479.2 253.8h0M480.0 251.9h0M480.1 250.0h0M504.1 268.3h0M503.8 267.7h0M504.4 266.0h0" stroke="#1f1ff0" stroke-width="2.3" stroke-linecap="round" fill="none"/>
<path d="M45.6 270.4h0M45.4 269.1h0M45.3 268.2h0M45.5 267.2h0M45.4 266.3h0M45.4 265.2h0M45.2 264.0h0M46.5 270.4h0M46.4 269.0h0M46.3 267.9h0M46.1 266.8h0M46.3 265.4h0M46.9 270.4h0M47.1 269.2h0M47.0 267.6h0M47.0 266.4h0M47.8 270.4h0M47.7 269.5h0M47.5 268.1h0M48.9 270.4h0M48.9 269.0h0M48.6 268.0h0M49.4 270.4h0M49.7 269.3h0M50.3 270.4h0M50.2 269.4h0M50.5 268.3h0M51.4 270.4h0M51.0 269.0h0M52.3 270.4h0M52.0 268.9h0M53.2 270.4h0M53.0 269.3h0M54.1 270.4h0M54.7 270.4h0M54.8 269.5h0M55.8 270.4h0M56.9 270.4h0M57.4 270.4h0M57.4 269.3h0M58.6 270.4h0M59.6 270.4h0M60.2 270.4h0M61.6 270.4h0M62.3 270.4h0M63.5 270.4h0M64.2 270.4h0M65.6 270.4h0M66.3 270.4h0M66.3 269.1h0M67.1 270.4h0M67.1 269.4h0M66.9 268.2h0M67.7 270.4h0M68.0 269.1h0M68.8 270.4h0M68.8 269.3h0M70.1 270.4h0M69.6 269.1h0M70.7 270.4h0M71.9 270.4h0M72.6 270.4h0M72.3 269.4h0M73.3 270.4h0M73.2 269.4h0M74.3 270.4h0M75.2 270.4h0M75.5 269.4h0M75.8 270.4h0M76.2 269.4h0M75.9 268.5h0M76.6 270.4h0M76.6 269.0h0M77.8 270.4h0M77.6 268.9h0M78.8 270.4h0M78.8 269.2h0M79.5 270.4h0M80.5 270.4h0M81.3 270.4h0M82.0 270.4h0M83.3 270.4h0M84.0 270.4h0M84.8 270.4h0M85.0 269.4h0M86.0 270.4h0M85.9 269.1h0M86.4 270.4h0M86.4 269.3h0M86.8 268.1h0M87.1 270.4h0M87.1 269.3h0M87.2 268.3h0M87.3 267.0h0M88.6 270.4h0M88.4 269.1h0M88.2 268.0h0M89.2 270.4h0M89.1 269.4h0M89.9 270.4h0M90.0 269.1h0M90.6 270.4h0M90.9 269.4h0M92.0 270.4h0M91.7 269.4h0M91.8 268.0h0M93.1 270.4h0M92.9 269.4h0M92.7 267.9h0M94.1 270.4h0M94.0 269.3h0M94.1 268.2h0M94.2 267.3h0M94.6 270.4h0M94.6 269.2h0M95.7 270.4h0M96.1 269.0h0M96.5 270.4h0M96.6 268.9h0M97.7 270.4h0M97.6 269.4h0M99.0 270.4h0M99.5 270.4h0M100.7 270.4h0M101.9 270.4h0M102.9 270.4h0M103.2 270.4h0M104.0 270.4h0M105.1 270.4h0M106.2 270.4h0M107.0 270.4h0M107.9 270.4h0M109.1 270.4h0M108.7 269.4h0M109.0 268.5h0M109.8 270.4h0M109.8 268.9h0M109.8 267.6h0M110.6 270.4h0M110.5 269.3h0M110.5 268.1h0M111.5 270.4h0M111.3 269.4h0M112.3 270.4h0M112.7 269.5h0M113.4 270.4h0M114.3 270.4h0M115.2 270.4h0M116.5 270.4h0M117.1 270.4h0M118.6 270.4h0M118.3 269.4h0M119.3 270.4h0M119.5 269.3h0M119.1 267.8h0M119.8 270.4h0M120.2 269.1h0M119.8 267.9h0M120.6 270.4h0M120.9 269.3h0M120.7 268.1h0M121.8 270.4h0M121.7 269.2h0M122.4 270.4h0M122.2 269.4h0M123.3 270.4h0M124.2 270.4h0M124.0 269.3h0M125.3 270.4h0M125.3 268.9h0M124.9 268.0h0M126.3 270.4h0M125.9 269.0h0M126.3 268.1h0M126.2 267.1h0M127.1 270.4h0M126.9 269.1h0M126.8 268.0h0M127.7 270.4h0M128.0 269.1h0M128.8 270.4h0M129.7 270.4h0M129.4 269.5h0M130.1 270.4h0M131.4 270.4h0M131.7 270.4h0M132.8 270.4h0M134.2 270.4h0M134.6 270.4h0M135.7 270.4h0M135.8 269.5h0M136.3 270.4h0M136.7 269.0h0M136.4 267.9h0M137.4 270.4h0M137.6 269.0h0M137.5 267.9h0M137.6 266.8h0M137.4 265.4h0M138.3 270.4h0M138.3 269.2h0M138.5 268.3h0M138.1 267.4h0M138.4 266.0h0M139.1 270.4h0M139.2 268.9h0M139.0 267.8h0M139.3 266.7h0M140.2 270.4h0M140.1 269.2h0M141.0 270.4h0M141.5 270.4h0M142.5 270.4h0M143.1 270.4h0M144.0 270.4h0M145.0 270.4h0M146.3 270.4h0M145.9 269.0h0M147.3 270.4h0M147.3 269.0h0M146.9 267.9h0M148.0 270.4h0M148.1 269.3h0M148.1 268.0h0M148.0 266.8h0M148.7 270.4h0M149.0 269.3h0M148.6 267.8h0M148.8 266.9h0M150.0 270.4h0M149.7 269.0h0M150.8 270.4h0M151.3 269.3h0M152.0 270.4h0M152.6 270.4h0M154.0 270.4h0M154.7 270.4h0M154.5 269.5h0M155.5 270.4h0M155.1 269.1h0M155.8 270.4h0M156.3 268.8h0M157.2 270.4h0M157.2 269.3h0M158.3 270.4h0M158.3 269.4h0M158.1 268.5h0M158.7 270.4h0M159.1 269.5h0M158.8 268.5h0M159.4 270.4h0M159.8 269.0h0M160.3 270.4h0M161.5 270.4h0M162.3 270.4h0M163.4 270.4h0M164.6 270.4h0M164.5 269.5h0M165.5 270.4h0M166.2 270.4h0M166.2 269.4h0M167.1 270.4h0M167.2 269.4h0M168.3 270.4h0M168.1 269.2h0M168.6 270.4h0M168.9 269.2h0M169.2 270.4h0M169.4 269.5h0M170.4 270.4h0M170.5 269.2h0M171.2 270.4h0M170.9 269.5h0M171.6 270.4h0M171.9 269.1h0M172.6 270.4h0M173.9 270.4h0M174.8 270.4h0M174.6 269.3h0M175.4 270.4h0M175.8 269.5h0M176.7 270.4h0M176.7 269.0h0M176.2 268.0h0M176.7 267.1h0M177.6 270.4h0M177.8 269.0h0M177.9 267.7h0M177.9 266.3h0M178.7 270.4h0M178.7 269.1h0M179.7 270.4h0M180.7 270.4h0M181.3 270.4h0M182.2 270.4h0M182.9 270.4h0M184.1 270.4h0M184.7 270.4h0M185.5 270.4h0M186.3 270.4h0M187.4 270.4h0M188.3 270.4h0M188.7 270.4h0M189.7 270.4h0M190.5 270.4h0M191.8 270.4h0M191.3 269.2h0M192.6 270.4h0M193.1 270.4h0M193.3 269.1h0M193.6 270.4h0M194.1 269.0h0M194.5 270.4h0M194.9 268.9h0M195.6 270.4h0M195.4 269.1h0M195.3 267.9h0M196.7 270.4h0M196.3 269.0h0M196.2 267.8h0M197.0 270.4h0M197.2 269.1h0M196.9 268.2h0M198.1 270.4h0M198.4 269.3h0M199.4 270.4h0M199.2 269.0h0M200.4 270.4h0M200.3 269.4h0M201.2 270.4h0M201.3 269.2h0M202.1 270.4h0M202.2 269.1h0M202.9 270.4h0M202.8 269.2h0M203.7 270.4h0M203.7 269.3h0M204.4 270.4h0M204.6 269.5h0M205.3 270.4h0M205.5 269.3h0M206.1 270.4h0M206.2 269.4h0M207.5 270.4h0M207.8 269.1h0M208.0 270.4h0M209.2 270.4h0M209.1 269.3h0M210.1 270.4h0M209.7 269.4h0M210.2 268.2h0M211.0 270.4h0M211.1 269.4h0M211.0 268.3h0M211.4 270.4h0M211.6 268.9h0M211.4 267.5h0M212.5 270.4h0M212.7 268.9h0M213.4 270.4h0M214.4 270.4h0M214.9 270.4h0M215.7 270.4h0M216.4 270.4h0M217.6 270.4h0M218.2 270.4h0M219.4 270.4h0M219.9 270.4h0M220.6 270.4h0M222.2 270.4h0M223.1 270.4h0M223.4 270.4h0M224.6 270.4h0M224.9 270.4h0M225.9 270.4h0M227.0 270.4h0M227.0 269.5h0M227.5 270.4h0M227.4 269.1h0M228.8 270.4h0M228.4 269.1h0M228.7 267.9h0M229.3 270.4h0M229.3 269.3h0M229.0 268.0h0M230.1 270.4h0M230.3 269.4h0M230.1 268.1h0M230.3 266.7h0M231.4 270.4h0M231.3 269.3h0M231.1 268.0h0M231.5 266.8h0M232.3 270.4h0M232.2 269.2h0M233.3 270.4h0M233.8 270.4h0M234.7 270.4h0M235.4 270.4h0M236.9 270.4h0M237.4 270.4h0M237.8 270.4h0M238.9 270.4h0M239.7 270.4h0M240.1 269.1h0M241.1 270.4h0M241.1 268.9h0M241.2 268.0h0M242.0 270.4h0M242.0 269.3h0M241.9 268.0h0M242.0 267.0h0M242.8 270.4h0M243.1 269.0h0M243.2 267.8h0M244.0 270.4h0M244.1 269.3h0M244.8 270.4h0M246.1 270.4h0M247.2 270.4h0M247.9 270.4h0M248.5 270.4h0M249.5 270.4h0M251.0 270.4h0M251.9 270.4h0M251.5 269.0h0M252.4 270.4h0M252.5 269.1h0M252.7 267.7h0M253.3 270.4h0M253.3 269.5h0M253.0 268.1h0M254.5 270.4h0M254.4 269.1h0M254.2 268.1h0M255.3 270.4h0M255.6 269.3h0M256.5 270.4h0M256.3 269.3h0M257.2 270.4h0M257.5 269.5h0M258.0 270.4h0M259.0 270.4h0M259.9 270.4h0M260.6 270.4h0M261.7 270.4h0M262.5 270.4h0M263.4 270.4h0M264.2 270.4h0M265.3 270.4h0M266.3 270.4h0M266.8 270.4h0M267.6 270.4h0M267.5 269.4h0M268.9 270.4h0M268.8 269.2h0M269.9 270.4h0M269.7 269.3h0M270.4 270.4h0M270.3 269.2h0M271.8 270.4h0M271.2 269.0h0M272.5 270.4h0M272.4 269.2h0M273.4 270.4h0M273.4 269.1h0M274.1 270.4h0M274.3 269.1h0M275.1 270.4h0M275.1 269.4h0M275.1 268.0h0M276.4 270.4h0M276.2 269.3h0M276.2 268.1h0M276.4 267.2h0M276.9 270.4h0M277.2 269.5h0M277.1 268.5h0M276.8 267.6h0M277.2 266.7h0M278.1 270.4h0M278.1 269.4h0M278.2 268.5h0M279.4 270.4h0M279.2 269.3h0M280.2 270.4h0M280.3 269.3h0M281.2 270.4h0M282.2 270.4h0M282.4 270.4h0M282.5 269.2h0M283.6 270.4h0M284.6 270.4h0M284.4 269.2h0M285.2 270.4h0M285.7 270.4h0M286.0 269.5h0M287.1 270.4h0M287.8 270.4h0M288.8 270.4h0M289.8 270.4h0M290.9 270.4h0M291.7 270.4h0M292.7 270.4h0M293.5 270.4h0M294.4 270.4h0M295.1 270.4h0M295.4 269.4h0M296.4 270.4h0M296.3 269.1h0M297.0 270.4h0M297.0 269.0h0M297.4 267.9h0M297.1 266.3h0M298.2 270.4h0M298.4 268.9h0M298.4 267.9h0M298.2 266.4h0M299.0 270.4h0M299.1 269.1h0M299.2 267.7h0M300.0 270.4h0M299.7 269.0h0M301.1 270.4h0M300.7 269.0h0M301.6 270.4h0M302.7 270.4h0M303.6 270.4h0M304.4 270.4h0M305.8 270.4h0M306.4 270.4h0M306.3 269.2h0M307.5 270.4h0M307.5 269.2h0M308.2 270.4h0M308.1 269.5h0M309.1 270.4h0M309.2 268.9h0M310.0 270.4h0M310.1 269.5h0M311.4 270.4h0M312.0 270.4h0M313.3 270.4h0M314.2 270.4h0M313.8 269.1h0M314.7 270.4h0M315.0 269.4h0M315.6 270.4h0M315.7 268.9h0M316.6 270.4h0M316.6 269.2h0M317.7 270.4h0M317.5 269.0h0M318.2 270.4h0M318.2 269.3h0M318.2 268.2h0M318.2 267.0h0M319.5 270.4h0M319.1 268.9h0M319.1 267.9h0M318.9 266.7h0M320.1 270.4h0M320.0 269.0h0M320.1 267.9h0M320.8 270.4h0M320.5 269.1h0M321.7 270.4h0M322.5 270.4h0M323.0 270.4h0M324.0 270.4h0M325.1 270.4h0M325.1 269.2h0M325.7 270.4h0M326.0 269.3h0M326.6 270.4h0M327.1 269.1h0M327.8 270.4h0M327.8 269.3h0M328.1 267.9h0M328.7 270.4h0M328.9 269.4h0M328.5 268.3h0M329.0 266.8h0M329.6 270.4h0M329.4 268.9h0M329.4 267.6h0M330.2 270.4h0M330.6 269.4h0M331.3 270.4h0M331.3 269.2h0M332.1 270.4h0M332.8 270.4h0M334.1 270.4h0M334.7 270.4h0M335.2 269.0h0M336.1 270.4h0M336.2 269.2h0M336.7 270.4h0M337.0 269.0h0M337.8 270.4h0M338.1 269.4h0M339.0 270.4h0M338.9 269.0h0M339.6 270.4h0M339.9 269.5h0M339.9 268.1h0M340.7 270.4h0M340.6 269.5h0M340.3 268.3h0M341.3 270.4h0M341.1 269.0h0M341.9 270.4h0M342.0 269.4h0M343.1 270.4h0M344.1 270.4h0M344.4 270.4h0M345.2 270.4h0M346.6 270.4h0M347.6 270.4h0M348.6 270.4h0M349.4 270.4h0M349.3 269.5h0M350.5 270.4h0M351.2 270.4h0M350.9 269.5h0M352.1 270.4h0M352.1 269.5h0M352.9 270.4h0M353.7 270.4h0M353.9 269.5h0M355.1 270.4h0M355.0 269.4h0M355.7 270.4h0M355.5 269.4h0M356.8 270.4h0M357.5 270.4h0M357.5 269.1h0M358.5 270.4h0M358.8 268.9h0M358.8 267.7h0M359.8 270.4h0M359.6 269.1h0M359.3 267.9h0M359.3 266.7h0M360.4 270.4h0M360.2 269.1h0M359.9 268.0h0M361.2 270.4h0M361.5 269.2h0M362.3 270.4h0M362.1 269.2h0M363.1 270.4h0M363.4 269.4h0M364.5 270.4h0M364.0 269.5h0M365.4 270.4h0M365.9 270.4h0M365.9 269.4h0M366.6 270.4h0M368.3 270.4h0M368.9 270.4h0M369.7 270.4h0M370.5 270.4h0M372.0 270.4h0M372.6 270.4h0M374.0 270.4h0M374.8 270.4h0M374.5 269.4h0M375.8 270.4h0M375.7 269.1h0M375.5 267.7h0M376.5 270.4h0M376.1 269.4h0M376.6 268.0h0M376.7 266.9h0M377.1 270.4h0M377.2 269.2h0M376.9 268.1h0M377.3 266.8h0M378.0 270.4h0M377.7 269.5h0M378.2 268.0h0M379.2 270.4h0M379.2 269.1h0M380.2 270.4h0M381.1 270.4h0M381.0 269.5h0M382.0 270.4h0M382.0 269.3h0M383.0 270.4h0M382.6 269.3h0M383.9 270.4h0M383.8 269.0h0M384.9 270.4h0M384.6 269.1h0M385.3 270.4h0M385.2 269.1h0M386.2 270.4h0M387.3 270.4h0M387.9 270.4h0M389.1 270.4h0M389.1 269.3h0M389.8 270.4h0M389.9 269.2h0M390.5 270.4h0M390.5 268.9h0M391.2 270.4h0M391.3 269.4h0M391.5 268.3h0M392.6 270.4h0M392.3 268.9h0M392.1 267.6h0M392.6 266.3h0M392.9 270.4h0M393.5 269.0h0M393.1 267.7h0M393.4 266.6h0M394.3 270.4h0M394.0 269.3h0M394.3 267.8h0M394.8 270.4h0M394.5 269.3h0M395.8 270.4h0M396.7 270.4h0M397.7 270.4h0M398.5 270.4h0M399.3 270.4h0M399.3 269.3h0M400.3 270.4h0M400.4 269.1h0M400.7 270.4h0M401.2 268.9h0M401.8 270.4h0M402.1 269.2h0M402.7 270.4h0M402.6 269.3h0M403.5 270.4h0M404.5 270.4h0M404.9 269.5h0M405.6 270.4h0M406.7 270.4h0M406.7 269.2h0M406.7 268.1h0M407.7 270.4h0M407.5 268.9h0M407.4 267.7h0M408.3 270.4h0M408.4 269.2h0M408.6 268.1h0M408.6 267.0h0M408.4 265.6h0M409.6 270.4h0M409.4 268.9h0M409.4 268.0h0M409.4 266.9h0M410.2 270.4h0M410.1 269.1h0M410.4 268.2h0M411.0 270.4h0M410.8 269.5h0M412.0 270.4h0M413.0 270.4h0M413.6 270.4h0M413.9 269.3h0M414.8 270.4h0M414.7 269.4h0M415.3 270.4h0M416.7 270.4h0M417.7 270.4h0M418.3 270.4h0M419.6 270.4h0M419.3 269.0h0M420.6 270.4h0M420.4 269.2h0M420.6 268.3h0M421.7 270.4h0M421.3 268.9h0M421.4 267.7h0M421.6 266.5h0M422.4 270.4h0M422.6 269.4h0M422.6 268.2h0M422.5 266.8h0M423.0 270.4h0M423.1 269.2h0M423.0 268.2h0M423.9 270.4h0M425.3 270.4h0M426.3 270.4h0M426.8 270.4h0M427.7 270.4h0M428.4 270.4h0M429.4 270.4h0M429.8 269.5h0M430.6 270.4h0M430.7 269.2h0M431.4 270.4h0M431.8 270.4h0M432.0 269.5h0M432.7 270.4h0M433.0 269.2h0M434.0 270.4h0M433.7 269.0h0M434.0 267.5h0M433.7 266.5h0M435.1 270.4h0M435.0 268.9h0M434.6 267.7h0M434.9 266.7h0M436.2 270.4h0M435.7 269.1h0M435.7 267.6h0M437.0 270.4h0M436.8 268.8h0M438.0 270.4h0M438.4 270.4h0M439.1 270.4h0M440.1 270.4h0M440.2 269.5h0M440.9 270.4h0M442.1 270.4h0M442.9 270.4h0M443.7 270.4h0M444.6 270.4h0M444.9 269.2h0M445.6 270.4h0M445.5 269.2h0M446.0 268.3h0M446.8 270.4h0M447.1 269.0h0M446.5 267.7h0M446.9 266.7h0M447.5 270.4h0M448.0 269.2h0M447.6 268.2h0M448.0 266.9h0M448.4 270.4h0M448.7 269.0h0M448.7 267.8h0M449.9 270.4h0M449.6 269.0h0M450.5 270.4h0M450.3 269.4h0M451.1 270.4h0M451.0 269.5h0M452.2 270.4h0M452.5 268.9h0M452.2 267.8h0M453.2 270.4h0M453.5 269.0h0M453.0 268.1h0M453.1 266.6h0M454.0 270.4h0M454.2 269.2h0M454.0 268.2h0M453.9 267.0h0M454.9 270.4h0M454.9 268.9h0M455.2 267.7h0M456.1 270.4h0M456.2 269.3h0M457.2 270.4h0M458.1 270.4h0M458.0 269.4h0M458.8 270.4h0M460.0 270.4h0M461.0 270.4h0M461.7 270.4h0M462.3 270.4h0M463.3 270.4h0M462.9 269.5h0M464.1 270.4h0M463.9 269.4h0M464.2 268.2h0M464.7 270.4h0M465.0 269.1h0M464.9 268.1h0M464.8 266.7h0M465.7 270.4h0M465.7 268.9h0M465.6 267.6h0M467.0 270.4h0M466.9 269.0h0M467.7 270.4h0M467.9 269.0h0M469.0 270.4h0M468.8 269.1h0M469.7 270.4h0M469.9 269.5h0M470.4 270.4h0M470.6 269.3h0M470.6 268.0h0M471.6 270.4h0M471.4 269.5h0M471.8 268.6h0M471.5 267.7h0M471.7 266.5h0M472.6 270.4h0M472.6 269.0h0M472.5 268.1h0M472.5 266.6h0M473.3 270.4h0M473.3 269.0h0M473.1 268.1h0M474.0 270.4h0M474.0 269.4h0M474.8 270.4h0M475.9 270.4h0M476.9 270.4h0M478.1 270.4h0M477.8 269.1h0M479.1 270.4h0M478.8 269.2h0M479.1 268.3h0M479.0 266.9h0M479.6 270.4h0M479.8 269.2h0M480.0 268.1h0M480.1 267.0h0M479.7 266.0h0M481.0 270.4h0M480.8 268.9h0M480.7 267.8h0M480.7 266.9h0M481.8 270.4h0M481.6 269.3h0M482.6 270.4h0M483.2 270.4h0M484.0 270.4h0M485.2 270.4h0M485.7 270.4h0M486.9 270.4h0M487.9 270.4h0M488.5 270.4h0M489.6 270.4h0M490.5 270.4h0M491.4 270.4h0M492.7 270.4h0M493.1 270.4h0M494.3 270.4h0M495.3 270.4h0M496.3 270.4h0M497.2 270.4h0M498.0 270.4h0M498.5 270.4h0M499.7 270.4h0M500.7 270.4h0M501.6 270.4h0M502.4 270.4h0M502.6 269.4h0M503.2 270.4h0M504.2 270.4h0M504.4 269.4h0M505.1 270.4h0M505.0 269.4h0M505.9 270.4h0M506.7 270.4h0M507.4 270.4h0M508.4 270.4h0M509.4 270.4h0M510.4 270.4h0M511.5 270.4h0M511.7 270.4h0M65.4 269.9h0M67.7 269.9h0M75.3 269.2h0M88.5 269.5h0M82.8 270.0h0M95.1 269.6h0M119.9 270.1h0M127.0 269.4h0M125.3 269.2h0M133.1 269.0h0M124.0 269.9h0M138.7 269.9h0M133.6 270.0h0M146.8 269.8h0M140.3 269.9h0M148.9 269.9h0M154.7 267.6h0M177.0 269.4h0M195.4 269.6h0M212.7 269.9h0M206.3 269.1h0M227.9 269.4h0M226.9 269.0h0M229.2 265.8h0M243.2 269.5h0M249.5 270.1h0M277.6 268.3h0M279.4 269.5h0M279.6 269.9h0M280.4 268.6h0M279.3 267.3h0M297.9 270.0h0M300.6 262.5h0M321.6 268.2h0M313.3 270.1h0M316.8 269.9h0M318.0 268.3h0M324.0 269.4h0M360.2 267.3h0M373.4 269.6h0M391.5 268.7h0M393.5 265.8h0M395.3 270.0h0M411.4 269.1h0M414.3 269.6h0M420.7 266.7h0M427.3 270.1h0M432.4 269.8h0M433.8 269.2h0M435.8 269.5h0M431.0 267.3h0M437.4 267.3h0M434.9 269.7h0M445.1 269.9h0M444.9 269.0h0M457.0 269.6h0M452.0 269.9h0M450.5 269.1h0M447.4 269.9h0M452.1 267.5h0M445.6 269.2h0M456.3 270.1h0M456.8 269.5h0M445.4 269.8h0M462.2 269.4h0M465.0 269.6h0M476.8 270.0h0M480.7 269.9h0M483.2 268.1h0M486.6 269.6h0M468.5 269.8h0M474.0 269.1h0M477.8 268.0h0M486.9 269.0h0M45.2 265.9h0M110.3 268.3h0M110.5 267.9h0M119.7 269.5h0M120.8 268.0h0M138.8 268.5h0M195.7 269.1h0M231.4 262.9h0M276.3 268.5h0M318.7 264.7h0M317.9 264.3h0M328.1 269.1h0M328.8 268.5h0M339.7 268.8h0M376.6 265.8h0M392.3 269.7h0M407.9 265.5h0M447.7 261.2h0M447.2 258.8h0M447.1 256.3h0M471.2 266.7h0M479.8 269.7h0" stroke="#e3120b" stroke-width="2.3" stroke-linecap="round" fill="none"/>
<path d="M44.4,272.0 L44.4,218.2 M41.199999999999996,218.2 L511.70000000000005,218.2 Q513.2,218.2 513.2,219.7 L513.2,272.0" fill="none" stroke="#222" stroke-width="1.3"/>
<line x1="43.80" y1="272.10" x2="513.80" y2="272.10" stroke="#1a1a1a" stroke-width="1.4" />
<line x1="41.20" y1="272.00" x2="44.40" y2="272.00" stroke="#222" stroke-width="1" />
<line x1="41.20" y1="263.03" x2="44.40" y2="263.03" stroke="#222" stroke-width="1" />
<line x1="41.20" y1="254.07" x2="44.40" y2="254.07" stroke="#222" stroke-width="1" />
<line x1="41.20" y1="245.10" x2="44.40" y2="245.10" stroke="#222" stroke-width="1" />
<line x1="41.20" y1="236.13" x2="44.40" y2="236.13" stroke="#222" stroke-width="1" />
<line x1="41.20" y1="227.17" x2="44.40" y2="227.17" stroke="#222" stroke-width="1" />
<line x1="41.20" y1="218.20" x2="44.40" y2="218.20" stroke="#222" stroke-width="1" />
<text transform="translate(37.90 268.03) scale(1.0 1)" font-size="7.67" text-anchor="end" fill="#1a1a1a" stroke="#1a1a1a" stroke-width="0.08">200</text>
<text transform="translate(37.90 259.07) scale(1.0 1)" font-size="7.67" text-anchor="end" fill="#1a1a1a" stroke="#1a1a1a" stroke-width="0.08">400</text>
<text transform="translate(37.90 250.10) scale(1.0 1)" font-size="7.67" text-anchor="end" fill="#1a1a1a" stroke="#1a1a1a" stroke-width="0.08">600</text>
<text transform="translate(37.90 241.13) scale(1.0 1)" font-size="7.67" text-anchor="end" fill="#1a1a1a" stroke="#1a1a1a" stroke-width="0.08">800</text>
<text transform="translate(37.90 232.17) scale(1.0 1)" font-size="7.67" text-anchor="end" fill="#1a1a1a" stroke="#1a1a1a" stroke-width="0.08">1000</text>
<text transform="translate(48.60 233.30) scale(0.9 1)" font-size="7.78" text-anchor="start" fill="#1a1a1a" stroke="#1a1a1a" stroke-width="0.2">Day 7</text>
<rect x="80.75" y="284.00" width="38.00" height="51.50" fill="#ebebeb"/>
<rect x="148.75" y="284.00" width="28.75" height="51.50" fill="#ebebeb"/>
<rect x="204.50" y="284.00" width="26.25" height="51.50" fill="#ebebeb"/>
<rect x="255.00" y="284.00" width="22.50" height="51.50" fill="#ebebeb"/>
<rect x="299.50" y="284.00" width="20.00" height="51.50" fill="#ebebeb"/>
<rect x="339.50" y="284.00" width="21.00" height="51.50" fill="#ebebeb"/>
<rect x="378.00" y="284.00" width="17.00" height="51.50" fill="#ebebeb"/>
<rect x="409.50" y="284.00" width="13.75" height="51.50" fill="#ebebeb"/>
<rect x="435.50" y="284.00" width="11.00" height="51.50" fill="#ebebeb"/>
<rect x="456.30" y="284.00" width="9.80" height="51.50" fill="#ebebeb"/>
<rect x="475.00" y="284.00" width="6.90" height="51.50" fill="#ebebeb"/>
<rect x="505.20" y="284.00" width="6.60" height="51.50" fill="#ebebeb"/>
<path d="M45.5 332.2h0M45.2 329.5h0M45.7 328.5h0M45.6 326.7h0M46.0 326.7h0M47.8 333.2h0M47.7 329.9h0M48.6 331.0h0M49.6 331.7h0M50.3 332.2h0M52.9 334.0h0M56.6 334.0h0M59.3 334.1h0M61.1 334.1h0M62.0 334.1h0M63.2 334.1h0M63.9 334.0h0M64.9 333.9h0M66.3 333.6h0M66.4 331.7h0M67.0 333.6h0M67.9 333.8h0M68.2 332.5h0M70.6 334.1h0M71.6 334.1h0M72.1 334.1h0M76.0 334.0h0M76.7 333.9h0M83.5 334.1h0M84.9 334.1h0M87.5 333.8h0M87.3 332.2h0M88.5 333.8h0M90.3 334.1h0M92.4 334.1h0M93.3 334.1h0M97.9 334.1h0M98.5 334.0h0M101.3 333.9h0M106.3 334.0h0M107.0 333.8h0M107.9 333.7h0M110.8 333.7h0M114.3 334.1h0M115.5 334.0h0M117.1 334.0h0M117.8 334.0h0M119.3 333.8h0M120.3 332.0h0M123.6 333.9h0M124.4 333.7h0M123.9 332.6h0M125.0 333.5h0M125.0 332.1h0M126.3 332.3h0M128.0 333.9h0M129.1 334.0h0M129.6 334.0h0M133.1 333.8h0M134.2 334.0h0M135.7 333.8h0M136.4 333.7h0M138.6 333.7h0M141.3 333.9h0M143.3 333.8h0M143.9 333.8h0M145.6 333.7h0M146.8 332.4h0M146.8 330.8h0M147.9 333.1h0M147.7 330.0h0M150.1 333.8h0M152.0 332.8h0M153.5 333.8h0M154.5 332.2h0M154.8 333.9h0M156.2 333.8h0M157.7 332.7h0M158.9 332.6h0M159.6 333.8h0M160.8 334.0h0M165.3 333.9h0M166.0 334.0h0M167.3 334.1h0M170.1 333.9h0M170.5 332.8h0M172.1 333.9h0M173.5 334.1h0M175.5 333.9h0M176.5 332.6h0M177.1 333.5h0M178.4 333.5h0M179.1 333.7h0M181.9 334.0h0M184.6 333.9h0M187.1 333.9h0M187.6 334.0h0M188.7 334.1h0M189.3 334.1h0M191.2 334.0h0M191.7 333.9h0M193.0 333.9h0M201.6 334.1h0M203.6 334.1h0M204.8 334.1h0M209.6 334.1h0M213.9 334.0h0M215.5 334.1h0M216.6 334.1h0M216.3 333.0h0M217.9 334.1h0M220.8 334.1h0M222.4 334.1h0M223.4 334.1h0M226.0 334.1h0M226.9 334.1h0M227.8 334.1h0M229.6 331.8h0M230.3 333.3h0M230.5 330.4h0M231.5 330.6h0M234.5 334.1h0M235.1 334.1h0M236.1 334.1h0M239.6 334.0h0M241.5 332.3h0M242.1 332.4h0M245.9 333.5h0M245.4 330.9h0M246.4 331.8h0M248.8 334.0h0M251.5 334.0h0M252.3 333.9h0M252.9 333.7h0M254.2 332.6h0M255.1 333.9h0M257.0 333.8h0M259.6 333.8h0M261.7 334.0h0M265.6 334.1h0M265.9 334.1h0M269.6 334.1h0M270.3 334.1h0M275.1 333.2h0M277.0 333.2h0M278.2 333.7h0M280.6 334.1h0M286.0 334.0h0M288.9 334.1h0M289.4 334.1h0M290.5 334.1h0M291.4 334.1h0M293.5 334.0h0M296.1 333.8h0M296.5 332.8h0M297.1 333.5h0M298.2 331.9h0M298.8 332.0h0M300.1 333.9h0M306.0 333.9h0M308.2 334.1h0M312.1 334.1h0M313.3 334.0h0M315.8 333.9h0M317.5 333.5h0M318.7 332.0h0M321.4 333.9h0M322.4 334.0h0M325.1 334.1h0M328.0 332.2h0M329.9 333.6h0M330.3 333.8h0M331.5 334.0h0M334.0 334.1h0M339.5 334.1h0M341.0 334.1h0M342.0 334.1h0M346.1 334.1h0M348.9 334.1h0M351.6 334.1h0M356.8 333.9h0M358.1 333.6h0M358.1 332.1h0M358.5 333.5h0M359.6 331.8h0M360.1 333.7h0M364.7 333.9h0M365.5 334.0h0M367.0 333.9h0M368.1 333.9h0M371.1 334.0h0M372.5 334.0h0M373.7 333.9h0M374.2 332.5h0M376.9 333.2h0M377.1 330.4h0M381.0 334.0h0M383.9 334.1h0M384.7 334.1h0M388.5 334.1h0M389.1 333.9h0M389.7 333.9h0M391.5 332.5h0M392.2 333.2h0M392.4 329.5h0M393.9 333.5h0M393.9 331.2h0M395.1 333.8h0M397.1 334.1h0M398.1 334.1h0M399.1 334.1h0M404.5 333.9h0M406.2 333.9h0M407.7 333.4h0M407.8 332.0h0M407.8 330.9h0M410.3 332.5h0M413.7 333.8h0M413.4 332.5h0M414.1 333.8h0M415.4 333.9h0M415.8 334.0h0M417.0 334.1h0M417.9 334.0h0M420.0 333.8h0M420.0 332.1h0M420.9 332.3h0M421.9 329.5h0M422.2 331.9h0M423.2 333.6h0M426.2 332.7h0M428.0 334.0h0M431.5 334.0h0M432.2 333.8h0M432.5 332.2h0M433.4 333.4h0M434.0 332.0h0M435.0 328.5h0M436.1 333.7h0M440.0 334.0h0M441.0 334.0h0M441.4 334.0h0M446.2 331.7h0M447.8 332.3h0M447.7 331.3h0M449.0 333.9h0M450.2 334.1h0M449.8 333.0h0M451.2 334.0h0M452.3 332.2h0M452.9 333.5h0M452.6 331.8h0M453.7 332.3h0M453.6 330.9h0M454.7 332.0h0M454.9 330.9h0M455.9 333.6h0M455.6 331.8h0M456.8 332.5h0M458.7 334.0h0M460.6 334.1h0M461.5 334.1h0M463.4 333.9h0M464.2 333.6h0M465.1 333.6h0M465.5 332.1h0M467.4 334.0h0M469.7 333.9h0M471.2 333.6h0M471.0 332.0h0M472.9 332.2h0M473.0 330.4h0M475.4 331.0h0M476.2 332.6h0M477.4 332.5h0M478.2 332.2h0M478.1 330.8h0M479.1 332.1h0M479.2 329.4h0M481.3 331.6h0M503.2 332.0h0M47.6 328.4h0M48.7 329.1h0M47.7 332.9h0M47.2 332.3h0M62.7 332.8h0M73.8 332.7h0M58.5 330.3h0M91.3 332.7h0M89.3 330.3h0M107.8 328.1h0M111.6 332.0h0M105.5 328.1h0M116.2 332.9h0M118.4 332.7h0M124.6 332.3h0M126.0 330.8h0M130.2 332.7h0M116.2 331.5h0M135.6 331.4h0M139.0 332.8h0M130.9 332.7h0M150.1 332.6h0M143.7 332.8h0M149.8 331.6h0M149.1 331.9h0M166.9 331.7h0M158.8 329.2h0M177.8 332.6h0M177.2 332.0h0M178.2 332.0h0M217.0 331.7h0M225.4 328.0h0M232.3 327.1h0M227.4 328.5h0M225.9 330.8h0M228.6 330.7h0M232.7 330.1h0M239.1 332.6h0M249.9 332.9h0M242.3 330.2h0M244.4 326.7h0M250.0 331.9h0M245.8 329.9h0M247.5 329.3h0M252.6 332.3h0M251.3 329.0h0M248.0 332.0h0M274.6 325.8h0M278.0 331.5h0M275.6 325.9h0M278.2 329.6h0M295.9 330.8h0M295.6 331.1h0M299.1 329.0h0M301.1 331.5h0M296.6 331.9h0M299.6 329.3h0M292.3 331.8h0M329.1 332.4h0M325.5 328.2h0M324.0 330.6h0M326.6 330.4h0M315.4 327.0h0M314.2 326.4h0M317.7 327.0h0M329.7 330.8h0M331.5 331.7h0M329.9 330.9h0M362.5 330.2h0M359.8 329.6h0M362.9 329.9h0M356.4 332.5h0M382.7 331.0h0M373.2 332.6h0M377.7 331.3h0M379.7 327.3h0M391.3 329.2h0M387.9 328.2h0M390.0 329.3h0M396.0 327.7h0M392.4 326.7h0M414.6 328.5h0M405.3 332.0h0M412.4 328.6h0M403.6 330.8h0M403.2 329.8h0M407.5 331.7h0M406.0 332.2h0M423.8 329.9h0M424.4 328.1h0M433.5 323.2h0M424.6 328.5h0M420.5 332.1h0M420.5 332.5h0M420.0 325.4h0M422.4 332.2h0M415.1 329.0h0M435.0 332.9h0M432.2 328.0h0M440.7 330.6h0M431.5 330.8h0M430.3 326.7h0M436.3 332.6h0M450.2 331.0h0M441.6 313.7h0M449.9 332.4h0M450.5 327.2h0M441.0 308.5h0M438.9 330.1h0M441.0 330.1h0M449.2 329.0h0M445.5 325.9h0M452.2 330.0h0M453.5 330.1h0M453.2 332.7h0M447.6 332.9h0M442.1 327.8h0M461.2 330.4h0M466.6 330.6h0M461.2 332.4h0M462.0 330.9h0M467.0 332.1h0M473.8 331.5h0M465.7 332.9h0M468.7 332.7h0M466.3 332.0h0M480.2 323.6h0M477.1 332.6h0M468.7 332.8h0M484.6 329.6h0M484.4 332.9h0M486.2 332.7h0M508.8 331.5h0M53.4 330.9h0M54.4 328.9h0M59.4 331.8h0M61.4 332.6h0M66.4 331.0h0M78.4 331.6h0M79.4 328.1h0M81.4 332.5h0M88.4 332.8h0M90.4 332.4h0M100.4 332.1h0M101.4 330.7h0M107.4 332.1h0M112.4 327.2h0M113.4 329.0h0M117.4 332.5h0M120.4 332.4h0M121.4 329.9h0M128.4 330.5h0M145.4 330.0h0M148.4 330.0h0M154.4 332.3h0M169.4 331.8h0M180.4 332.3h0M190.4 326.7h0M199.4 332.3h0M214.4 329.3h0M215.4 331.6h0M218.4 332.3h0M221.4 331.8h0M230.4 331.7h0M231.4 332.8h0M240.4 330.0h0M244.4 329.1h0M249.4 327.6h0M251.4 331.8h0M256.4 332.1h0M295.4 330.3h0M302.4 332.4h0M304.4 328.1h0M307.4 332.3h0M309.4 332.2h0M318.4 330.9h0M333.4 329.6h0M342.4 329.9h0M344.4 332.9h0M351.4 329.0h0M355.4 329.8h0M358.4 332.3h0M378.4 328.8h0M388.4 332.2h0M396.4 332.2h0M403.4 331.5h0M404.4 330.1h0M410.4 330.1h0M413.4 329.2h0M418.4 332.1h0M424.4 330.4h0M426.4 332.2h0M435.4 329.5h0M442.4 331.6h0M447.4 331.6h0M453.4 331.8h0M455.4 327.5h0M461.4 332.4h0M464.4 332.2h0M470.4 332.3h0M471.4 328.9h0M479.4 331.5h0M44.3 332.5h0M45.0 330.2h0M44.8 321.3h0M67.0 331.1h0M67.5 329.9h0M67.2 328.6h0M87.5 332.6h0M87.2 331.4h0M87.5 331.0h0M110.7 331.6h0M110.6 330.6h0M109.8 328.6h0M119.5 329.2h0M119.3 328.0h0M119.2 326.8h0M125.8 331.7h0M125.7 326.9h0M125.7 326.2h0M136.7 330.9h0M137.0 327.5h0M137.3 327.3h0M148.9 331.5h0M148.0 325.6h0M147.8 320.8h0M157.8 332.8h0M157.8 332.1h0M157.3 330.0h0M178.0 331.6h0M177.6 330.5h0M177.9 325.2h0M230.1 326.7h0M230.8 322.4h0M229.9 321.5h0M231.1 312.3h0M231.0 311.1h0M242.5 332.0h0M242.8 330.1h0M241.8 329.1h0M246.2 332.9h0M245.6 330.0h0M245.9 325.2h0M254.4 332.7h0M253.0 330.4h0M253.9 328.1h0M275.7 327.7h0M275.8 321.2h0M276.5 320.3h0M297.6 331.0h0M298.6 327.9h0M297.4 320.5h0M298.3 315.2h0M297.5 311.2h0M297.7 310.6h0M318.6 325.2h0M318.3 320.2h0M318.7 318.3h0M319.2 313.6h0M318.4 313.1h0M328.4 327.1h0M328.3 327.0h0M328.7 325.7h0M359.3 328.4h0M357.9 328.4h0M358.3 326.2h0M377.3 327.3h0M377.6 324.7h0M377.8 323.3h0M392.7 329.8h0M393.1 323.6h0M392.3 322.6h0M392.3 320.3h0M408.9 330.8h0M407.9 322.8h0M409.2 313.6h0M409.0 312.7h0M408.7 310.6h0M421.6 329.3h0M421.2 318.8h0M421.9 314.9h0M421.4 312.4h0M422.7 306.2h0M421.9 304.5h0M421.9 302.1h0M421.2 298.0h0M433.8 321.2h0M434.0 318.4h0M434.0 314.8h0M435.1 313.2h0M434.9 312.8h0M446.8 328.2h0M446.6 314.6h0M446.2 312.6h0M447.0 308.1h0M447.4 302.8h0M447.7 300.5h0M446.5 298.9h0M447.8 297.9h0M446.5 296.1h0M454.1 332.7h0M453.3 325.8h0M453.3 325.2h0M464.9 329.4h0M465.7 327.9h0M464.5 326.2h0M471.2 332.8h0M471.3 329.0h0M471.6 321.8h0M479.7 323.1h0M479.3 321.5h0M480.6 320.6h0M503.3 332.8h0M503.2 332.4h0M504.5 331.5h0" stroke="#1f1ff0" stroke-width="2.3" stroke-linecap="round" fill="none"/>
<path d="M45.2 334.9h0M45.7 333.4h0M46.4 334.9h0M46.4 333.6h0M46.6 334.9h0M47.7 334.9h0M48.9 334.9h0M49.3 334.9h0M50.1 334.9h0M51.0 334.9h0M52.0 334.9h0M52.9 334.9h0M53.6 334.9h0M54.6 334.9h0M55.0 334.9h0M56.5 334.9h0M57.4 334.9h0M58.3 334.9h0M59.6 334.9h0M59.9 334.9h0M61.2 334.9h0M61.9 334.9h0M62.9 334.9h0M64.1 334.9h0M64.8 334.9h0M65.8 334.9h0M66.2 334.9h0M66.9 334.9h0M68.1 334.9h0M69.0 334.9h0M69.6 334.9h0M70.7 334.9h0M71.8 334.9h0M72.4 334.9h0M73.1 334.9h0M74.2 334.9h0M74.9 334.9h0M75.9 334.9h0M77.3 334.9h0M78.1 334.9h0M78.8 334.9h0M80.1 334.9h0M80.4 334.9h0M81.9 334.9h0M82.3 334.9h0M83.6 334.9h0M84.4 334.9h0M85.7 334.9h0M86.3 334.9h0M87.3 334.9h0M88.0 334.9h0M89.6 334.9h0M90.1 334.9h0M91.2 334.9h0M92.1 334.9h0M93.0 334.9h0M94.4 334.9h0M95.1 334.9h0M96.2 334.9h0M97.1 334.9h0M97.5 334.9h0M98.6 334.9h0M99.7 334.9h0M100.3 334.9h0M101.7 334.9h0M102.6 334.9h0M103.3 334.9h0M104.4 334.9h0M105.6 334.9h0M106.0 334.9h0M107.0 334.9h0M107.8 334.9h0M109.1 334.9h0M109.8 334.9h0M110.6 334.9h0M111.8 334.9h0M112.4 334.9h0M113.4 334.9h0M114.6 334.9h0M115.5 334.9h0M116.0 334.9h0M117.4 334.9h0M118.0 334.9h0M119.2 334.9h0M120.2 334.9h0M121.0 334.9h0M121.7 334.9h0M122.5 334.9h0M123.5 334.9h0M124.3 334.9h0M125.5 334.9h0M126.1 334.9h0M127.1 334.9h0M127.9 334.9h0M129.2 334.9h0M130.1 334.9h0M130.6 334.9h0M131.7 334.9h0M132.5 334.9h0M133.5 334.9h0M134.3 334.9h0M135.2 334.9h0M135.9 334.9h0M136.9 334.9h0M137.8 334.9h0M138.7 334.9h0M139.4 334.9h0M140.2 334.9h0M141.4 334.9h0M142.2 334.9h0M142.9 334.9h0M143.9 334.9h0M145.0 334.9h0M145.7 334.9h0M146.6 334.9h0M148.2 334.9h0M149.0 334.9h0M150.0 334.9h0M150.8 334.9h0M151.7 334.9h0M152.4 334.9h0M153.4 334.9h0M154.0 334.9h0M155.2 334.9h0M155.7 334.9h0M157.1 334.9h0M157.9 334.9h0M159.0 334.9h0M159.9 334.9h0M160.5 334.9h0M161.6 334.9h0M162.9 334.9h0M163.4 334.9h0M164.3 334.9h0M165.4 334.9h0M166.4 334.9h0M166.8 334.9h0M167.8 334.9h0M168.2 334.9h0M169.7 334.9h0M170.0 334.9h0M171.4 334.9h0M172.1 334.9h0M172.6 334.9h0M173.3 334.9h0M174.3 334.9h0M175.6 334.9h0M176.5 334.9h0M177.5 334.9h0M178.2 334.9h0M179.2 334.9h0M179.9 334.9h0M181.2 334.9h0M181.9 334.9h0M182.8 334.9h0M183.8 334.9h0M184.9 334.9h0M185.8 334.9h0M186.8 334.9h0M187.5 334.9h0M188.5 334.9h0M189.2 334.9h0M190.1 334.9h0M191.1 334.9h0M191.6 334.9h0M192.8 334.9h0M194.0 334.9h0M195.0 334.9h0M195.5 334.9h0M196.5 334.9h0M197.3 334.9h0M198.1 334.9h0M198.9 334.9h0M199.9 334.9h0M200.4 334.9h0M201.3 334.9h0M202.5 334.9h0M203.9 334.9h0M204.8 334.9h0M205.6 334.9h0M206.5 334.9h0M207.3 334.9h0M208.0 334.9h0M208.8 334.9h0M209.7 334.9h0M210.9 334.9h0M211.5 334.9h0M212.8 334.9h0M213.4 334.9h0M214.1 334.9h0M214.7 334.9h0M215.7 334.9h0M216.6 334.9h0M217.2 334.9h0M218.2 334.9h0M218.7 334.9h0M219.8 334.9h0M220.3 334.9h0M221.6 334.9h0M222.3 334.9h0M223.3 334.9h0M224.1 334.9h0M225.0 334.9h0M225.7 334.9h0M226.7 334.9h0M227.5 334.9h0M228.4 334.9h0M229.6 334.9h0M230.6 334.9h0M231.5 334.9h0M232.5 334.9h0M233.1 334.9h0M234.0 334.9h0M235.3 334.9h0M236.1 334.9h0M237.0 334.9h0M238.1 334.9h0M238.4 334.9h0M239.5 334.9h0M240.5 334.9h0M241.2 334.9h0M242.3 334.9h0M243.1 334.9h0M243.7 334.9h0M244.9 334.9h0M245.4 334.9h0M246.4 334.9h0M247.4 334.9h0M248.7 334.9h0M249.4 334.9h0M250.2 334.9h0M251.2 334.9h0M251.9 334.9h0M252.8 334.9h0M253.5 334.9h0M254.1 334.9h0M255.3 334.9h0M256.3 334.9h0M257.4 334.9h0M257.8 334.9h0M258.9 334.9h0M259.6 334.9h0M260.8 334.9h0M261.5 334.9h0M262.8 334.9h0M263.4 334.9h0M264.2 334.9h0M265.6 334.9h0M266.3 334.9h0M267.4 334.9h0M267.8 334.9h0M268.7 334.9h0M270.0 334.9h0M270.7 334.9h0M271.4 334.9h0M272.1 334.9h0M273.1 334.9h0M274.1 334.9h0M275.3 334.9h0M276.0 334.9h0M277.0 334.9h0M278.2 334.9h0M278.8 334.9h0M279.8 334.9h0M280.7 334.9h0M281.6 334.9h0M282.7 334.9h0M283.1 334.9h0M284.0 334.9h0M285.1 334.9h0M286.0 334.9h0M286.6 334.9h0M287.5 334.9h0M288.5 334.9h0M289.9 334.9h0M290.4 334.9h0M291.9 334.9h0M292.0 334.9h0M293.4 334.9h0M294.2 334.9h0M295.0 334.9h0M296.2 334.9h0M297.1 334.9h0M297.9 334.9h0M299.0 334.9h0M300.3 334.9h0M300.9 334.9h0M302.0 334.9h0M302.9 334.9h0M303.9 334.9h0M304.7 334.9h0M305.7 334.9h0M306.3 334.9h0M307.2 334.9h0M308.3 334.9h0M309.2 334.9h0M310.4 334.9h0M311.1 334.9h0M312.0 334.9h0M312.8 334.9h0M314.1 334.9h0M315.2 334.9h0M315.7 334.9h0M316.9 334.9h0M318.0 334.9h0M318.8 334.9h0M319.4 334.9h0M320.5 334.9h0M321.6 334.9h0M322.0 334.9h0M322.9 334.9h0M324.0 334.9h0M324.6 334.9h0M325.9 334.9h0M326.8 334.9h0M328.1 334.9h0M329.0 334.9h0M329.9 334.9h0M330.3 334.9h0M331.4 334.9h0M332.0 334.9h0M333.3 334.9h0M333.9 334.9h0M334.7 334.9h0M335.9 334.9h0M336.5 334.9h0M337.6 334.9h0M338.3 334.9h0M339.0 334.9h0M340.3 334.9h0M341.2 334.9h0M342.1 334.9h0M342.6 334.9h0M343.9 334.9h0M344.9 334.9h0M345.3 334.9h0M346.2 334.9h0M347.1 334.9h0M348.1 334.9h0M349.2 334.9h0M350.0 334.9h0M350.6 334.9h0M351.7 334.9h0M352.8 334.9h0M353.6 334.9h0M354.4 334.9h0M355.1 334.9h0M356.1 334.9h0M357.0 334.9h0M358.0 334.9h0M359.1 334.9h0M359.3 334.9h0M360.2 334.9h0M361.2 334.9h0M362.0 334.9h0M362.8 334.9h0M363.8 334.9h0M364.9 334.9h0M365.2 334.9h0M366.4 334.9h0M367.4 334.9h0M368.2 334.9h0M369.2 334.9h0M370.0 334.9h0M371.1 334.9h0M371.9 334.9h0M372.1 334.9h0M373.1 334.9h0M374.5 334.9h0M375.0 334.9h0M376.5 334.9h0M377.3 334.9h0M377.9 334.9h0M379.0 334.9h0M379.9 334.9h0M380.6 334.9h0M381.1 334.9h0M382.1 334.9h0M383.2 334.9h0M384.0 334.9h0M384.7 334.9h0M386.0 334.9h0M386.9 334.9h0M387.3 334.9h0M388.0 334.9h0M389.2 334.9h0M390.0 334.9h0M390.4 334.9h0M391.7 334.9h0M392.0 334.9h0M393.2 334.9h0M394.3 334.9h0M395.1 334.9h0M396.0 334.9h0M396.6 334.9h0M397.4 334.9h0M398.3 334.9h0M398.7 334.9h0M399.9 334.9h0M400.9 334.9h0M401.6 334.9h0M402.3 334.9h0M403.3 334.9h0M404.3 334.9h0M405.2 334.9h0M406.3 334.9h0M406.9 334.9h0M407.9 334.9h0M408.7 334.9h0M409.5 334.9h0M410.7 334.9h0M411.3 334.9h0M412.3 334.9h0M413.6 334.9h0M414.5 334.9h0M415.2 334.9h0M416.1 334.9h0M416.9 334.9h0M418.0 334.9h0M419.0 334.9h0M419.7 334.9h0M420.8 334.9h0M421.8 334.9h0M422.7 334.9h0M423.1 334.9h0M424.3 334.9h0M425.2 334.9h0M426.5 334.9h0M427.2 334.9h0M428.1 334.9h0M429.1 334.9h0M429.9 334.9h0M430.9 334.9h0M431.4 334.9h0M432.5 334.9h0M433.3 334.9h0M434.3 334.9h0M435.1 334.9h0M436.4 334.9h0M437.0 334.9h0M438.2 334.9h0M438.8 334.9h0M439.7 334.9h0M440.7 334.9h0M441.7 334.9h0M442.5 334.9h0M443.5 334.9h0M443.8 334.9h0M445.0 334.9h0M445.9 334.9h0M447.3 334.9h0M448.2 334.9h0M449.1 334.9h0M450.0 334.9h0M451.3 334.9h0M451.8 334.9h0M452.8 334.9h0M453.7 334.9h0M454.5 334.9h0M455.5 334.9h0M456.6 334.9h0M457.3 334.9h0M458.3 334.9h0M459.6 334.9h0M460.5 334.9h0M461.1 334.9h0M462.2 334.9h0M463.4 334.9h0M464.0 334.9h0M465.3 334.9h0M466.0 334.9h0M467.2 334.9h0M468.0 334.9h0M468.8 334.9h0M469.7 334.9h0M470.9 334.9h0M472.1 334.9h0M472.7 334.9h0M474.2 334.9h0M474.6 334.9h0M475.6 334.9h0M476.6 334.9h0M477.3 334.9h0M478.2 334.9h0M479.1 334.9h0M480.2 334.9h0M481.0 334.9h0M482.0 334.9h0M483.0 334.9h0M483.4 334.9h0M484.2 334.9h0M485.1 334.9h0M486.2 334.9h0M486.8 334.9h0M487.9 334.9h0M489.4 334.9h0M490.5 334.9h0M491.6 334.9h0M492.2 334.9h0M493.1 334.9h0M494.1 334.9h0M494.9 334.9h0M495.8 334.9h0M496.7 334.9h0M497.8 334.9h0M498.7 334.9h0M499.2 334.9h0M500.6 334.9h0M500.9 334.9h0M501.8 334.9h0M503.3 334.9h0M503.8 334.9h0M504.8 334.9h0M505.8 334.9h0M506.6 334.9h0M507.4 334.9h0M508.7 334.9h0M509.3 334.9h0M510.5 334.9h0M511.0 334.9h0M320.5 332.7h0M422.1 333.6h0M437.4 334.5h0M447.6 334.0h0M277.1 332.9h0M408.0 332.0h0" stroke="#e3120b" stroke-width="2.3" stroke-linecap="round" fill="none"/>
<path d="M44.4,336.5 L44.4,282.7 M41.199999999999996,282.7 L511.70000000000005,282.7 Q513.2,282.7 513.2,284.2 L513.2,336.5" fill="none" stroke="#222" stroke-width="1.3"/>
<line x1="43.80" y1="336.60" x2="513.80" y2="336.60" stroke="#1a1a1a" stroke-width="1.4" />
<line x1="41.20" y1="336.50" x2="44.40" y2="336.50" stroke="#222" stroke-width="1" />
<line x1="41.20" y1="327.53" x2="44.40" y2="327.53" stroke="#222" stroke-width="1" />
<line x1="41.20" y1="318.57" x2="44.40" y2="318.57" stroke="#222" stroke-width="1" />
<line x1="41.20" y1="309.60" x2="44.40" y2="309.60" stroke="#222" stroke-width="1" />
<line x1="41.20" y1="300.63" x2="44.40" y2="300.63" stroke="#222" stroke-width="1" />
<line x1="41.20" y1="291.67" x2="44.40" y2="291.67" stroke="#222" stroke-width="1" />
<line x1="41.20" y1="282.70" x2="44.40" y2="282.70" stroke="#222" stroke-width="1" />
<text transform="translate(37.90 332.53) scale(1.0 1)" font-size="7.67" text-anchor="end" fill="#1a1a1a" stroke="#1a1a1a" stroke-width="0.08">200</text>
<text transform="translate(37.90 323.57) scale(1.0 1)" font-size="7.67" text-anchor="end" fill="#1a1a1a" stroke="#1a1a1a" stroke-width="0.08">400</text>
<text transform="translate(37.90 314.60) scale(1.0 1)" font-size="7.67" text-anchor="end" fill="#1a1a1a" stroke="#1a1a1a" stroke-width="0.08">600</text>
<text transform="translate(37.90 305.63) scale(1.0 1)" font-size="7.67" text-anchor="end" fill="#1a1a1a" stroke="#1a1a1a" stroke-width="0.08">800</text>
<text transform="translate(37.90 296.67) scale(1.0 1)" font-size="7.67" text-anchor="end" fill="#1a1a1a" stroke="#1a1a1a" stroke-width="0.08">1000</text>
<text transform="translate(48.60 297.60) scale(0.9 1)" font-size="7.78" text-anchor="start" fill="#1a1a1a" stroke="#1a1a1a" stroke-width="0.2">Day 10</text>
<circle cx="98.10" cy="163.40" r="1.5" fill="#e3120b"/>
<text transform="translate(102.00 165.80) scale(0.96 1)" font-size="7.13" text-anchor="start" fill="#1a1a1a" stroke="#1a1a1a" stroke-width="0.2">Normoxia</text>
<circle cx="151.30" cy="163.40" r="1.5" fill="#1f1ff0"/>
<text transform="translate(155.20 165.80) scale(0.96 1)" font-size="7.13" text-anchor="start" fill="#1a1a1a" stroke="#1a1a1a" stroke-width="0.2">Hypoxia</text>
<text transform="translate(62.00 346.40) scale(0.9 1)" font-size="7.56" text-anchor="middle" fill="#1a1a1a" stroke="#1a1a1a" stroke-width="0.2">1</text>
<text transform="translate(99.30 346.40) scale(0.9 1)" font-size="7.56" text-anchor="middle" fill="#1a1a1a" stroke="#1a1a1a" stroke-width="0.2">2</text>
<text transform="translate(133.30 346.40) scale(0.9 1)" font-size="7.56" text-anchor="middle" fill="#1a1a1a" stroke="#1a1a1a" stroke-width="0.2">3</text>
<text transform="translate(162.30 346.40) scale(0.9 1)" font-size="7.56" text-anchor="middle" fill="#1a1a1a" stroke="#1a1a1a" stroke-width="0.2">4</text>
<text transform="translate(190.50 346.40) scale(0.9 1)" font-size="7.56" text-anchor="middle" fill="#1a1a1a" stroke="#1a1a1a" stroke-width="0.2">5</text>
<text transform="translate(217.00 346.40) scale(0.9 1)" font-size="7.56" text-anchor="middle" fill="#1a1a1a" stroke="#1a1a1a" stroke-width="0.2">6</text>
<text transform="translate(242.00 346.40) scale(0.9 1)" font-size="7.56" text-anchor="middle" fill="#1a1a1a" stroke="#1a1a1a" stroke-width="0.2">7</text>
<text transform="translate(265.70 346.40) scale(0.9 1)" font-size="7.56" text-anchor="middle" fill="#1a1a1a" stroke="#1a1a1a" stroke-width="0.2">8</text>
<text transform="translate(288.00 346.40) scale(0.9 1)" font-size="7.56" text-anchor="middle" fill="#1a1a1a" stroke="#1a1a1a" stroke-width="0.2">9</text>
<text transform="translate(308.80 346.40) scale(0.9 1)" font-size="7.56" text-anchor="middle" fill="#1a1a1a" stroke="#1a1a1a" stroke-width="0.2">10</text>
<text transform="translate(328.80 346.40) scale(0.9 1)" font-size="7.56" text-anchor="middle" fill="#1a1a1a" stroke="#1a1a1a" stroke-width="0.2">11</text>
<text transform="translate(350.00 346.40) scale(0.9 1)" font-size="7.56" text-anchor="middle" fill="#1a1a1a" stroke="#1a1a1a" stroke-width="0.2">12</text>
<text transform="translate(368.80 346.40) scale(0.9 1)" font-size="7.56" text-anchor="middle" fill="#1a1a1a" stroke="#1a1a1a" stroke-width="0.2">13</text>
<text transform="translate(386.30 346.40) scale(0.9 1)" font-size="7.56" text-anchor="middle" fill="#1a1a1a" stroke="#1a1a1a" stroke-width="0.2">14</text>
<text transform="translate(401.50 346.40) scale(0.9 1)" font-size="7.56" text-anchor="middle" fill="#1a1a1a" stroke="#1a1a1a" stroke-width="0.2">15</text>
<text transform="translate(415.50 346.40) scale(0.9 1)" font-size="7.56" text-anchor="middle" fill="#1a1a1a" stroke="#1a1a1a" stroke-width="0.2">16</text>
<text transform="translate(428.80 346.40) scale(0.9 1)" font-size="7.56" text-anchor="middle" fill="#1a1a1a" stroke="#1a1a1a" stroke-width="0.2">17</text>
<text transform="translate(440.70 346.40) scale(0.9 1)" font-size="7.56" text-anchor="middle" fill="#1a1a1a" stroke="#1a1a1a" stroke-width="0.2">18</text>
<text transform="translate(450.20 346.40) scale(0.9 1)" font-size="7.56" text-anchor="middle" fill="#1a1a1a" stroke="#1a1a1a" stroke-width="0.2">19</text>
<text transform="translate(460.80 346.40) scale(0.9 1)" font-size="7.56" text-anchor="middle" fill="#1a1a1a" stroke="#1a1a1a" stroke-width="0.2">20</text>
<text transform="translate(471.30 346.40) scale(0.9 1)" font-size="7.56" text-anchor="middle" fill="#1a1a1a" stroke="#1a1a1a" stroke-width="0.2">21</text>
<text transform="translate(481.00 346.40) scale(0.9 1)" font-size="7.56" text-anchor="middle" fill="#1a1a1a" stroke="#1a1a1a" stroke-width="0.2">22</text>
<text transform="translate(493.20 346.40) scale(0.9 1)" font-size="7.56" text-anchor="middle" fill="#1a1a1a" stroke="#1a1a1a" stroke-width="0.2">X</text>
<text transform="translate(508.70 346.40) scale(0.9 1)" font-size="7.56" text-anchor="middle" fill="#1a1a1a" stroke="#1a1a1a" stroke-width="0.2">Y</text>
<text transform="translate(278.60 358.60) scale(1 1)" font-size="8.86" text-anchor="middle" fill="#1a1a1a" stroke="#1a1a1a" stroke-width="0.28" textLength="36.5" lengthAdjust="spacingAndGlyphs">Chromosome</text>
<text transform="translate(13.90 246.80) rotate(-90) scale(1 1)" font-size="8.64" text-anchor="middle" fill="#1a1a1a" stroke="#1a1a1a" stroke-width="0.28" textLength="76.7" lengthAdjust="spacingAndGlyphs">Reads per Mb within peaks</text>
<text transform="translate(10.00 385.70) scale(1 1)" font-size="10.90" text-anchor="start" fill="#000" stroke="#000" stroke-width="0.3" font-weight="bold">F</text>
<line x1="43.80" y1="396.00" x2="43.80" y2="488.90" stroke="#1a1a1a" stroke-width="1.2" />
<line x1="40.80" y1="488.40" x2="43.80" y2="488.40" stroke="#1a1a1a" stroke-width="1" />
<text transform="translate(38.30 491.20) scale(0.92 1)" font-size="8.32" text-anchor="end" fill="#1a1a1a" stroke="#1a1a1a" stroke-width="0.08">0</text>
<line x1="40.80" y1="473.37" x2="43.80" y2="473.37" stroke="#1a1a1a" stroke-width="1" />
<text transform="translate(38.30 476.17) scale(0.92 1)" font-size="8.32" text-anchor="end" fill="#1a1a1a" stroke="#1a1a1a" stroke-width="0.08">20</text>
<line x1="40.80" y1="458.34" x2="43.80" y2="458.34" stroke="#1a1a1a" stroke-width="1" />
<text transform="translate(38.30 461.14) scale(0.92 1)" font-size="8.32" text-anchor="end" fill="#1a1a1a" stroke="#1a1a1a" stroke-width="0.08">40</text>
<line x1="40.80" y1="443.31" x2="43.80" y2="443.31" stroke="#1a1a1a" stroke-width="1" />
<text transform="translate(38.30 446.11) scale(0.92 1)" font-size="8.32" text-anchor="end" fill="#1a1a1a" stroke="#1a1a1a" stroke-width="0.08">60</text>
<line x1="40.80" y1="428.28" x2="43.80" y2="428.28" stroke="#1a1a1a" stroke-width="1" />
<text transform="translate(38.30 431.08) scale(0.92 1)" font-size="8.32" text-anchor="end" fill="#1a1a1a" stroke="#1a1a1a" stroke-width="0.08">80</text>
<line x1="40.80" y1="413.25" x2="43.80" y2="413.25" stroke="#1a1a1a" stroke-width="1" />
<text transform="translate(38.30 416.05) scale(0.92 1)" font-size="8.32" text-anchor="end" fill="#1a1a1a" stroke="#1a1a1a" stroke-width="0.08">100</text>
<line x1="40.80" y1="398.22" x2="43.80" y2="398.22" stroke="#1a1a1a" stroke-width="1" />
<text transform="translate(38.30 401.02) scale(0.92 1)" font-size="8.32" text-anchor="end" fill="#1a1a1a" stroke="#1a1a1a" stroke-width="0.08">120</text>
<line x1="43.80" y1="488.40" x2="117.50" y2="488.40" stroke="#1a1a1a" stroke-width="1.2" />
<line x1="43.80" y1="488.40" x2="43.80" y2="491.40" stroke="#1a1a1a" stroke-width="1" />
<line x1="61.70" y1="488.40" x2="61.70" y2="491.40" stroke="#1a1a1a" stroke-width="1" />
<line x1="79.40" y1="488.40" x2="79.40" y2="491.40" stroke="#1a1a1a" stroke-width="1" />
<line x1="96.90" y1="488.40" x2="96.90" y2="491.40" stroke="#1a1a1a" stroke-width="1" />
<line x1="114.60" y1="488.40" x2="114.60" y2="491.40" stroke="#1a1a1a" stroke-width="1" />
<line x1="52.30" y1="412.50" x2="52.30" y2="414.00" stroke="#1a1a1a" stroke-width="1" />
<line x1="50.60" y1="412.50" x2="54.00" y2="412.50" stroke="#1a1a1a" stroke-width="1" />
<line x1="50.60" y1="414.00" x2="54.00" y2="414.00" stroke="#1a1a1a" stroke-width="1" />
<line x1="52.30" y1="408.74" x2="52.30" y2="413.25" stroke="#1a1a1a" stroke-width="1" />
<line x1="50.60" y1="408.74" x2="54.00" y2="408.74" stroke="#1a1a1a" stroke-width="1" />
<line x1="50.60" y1="413.25" x2="54.00" y2="413.25" stroke="#1a1a1a" stroke-width="1" />
<line x1="70.20" y1="446.32" x2="70.20" y2="451.95" stroke="#1a1a1a" stroke-width="1" />
<line x1="68.50" y1="446.32" x2="71.90" y2="446.32" stroke="#1a1a1a" stroke-width="1" />
<line x1="68.50" y1="451.95" x2="71.90" y2="451.95" stroke="#1a1a1a" stroke-width="1" />
<line x1="70.20" y1="414.75" x2="70.20" y2="457.59" stroke="#1a1a1a" stroke-width="1" />
<line x1="68.50" y1="414.75" x2="71.90" y2="414.75" stroke="#1a1a1a" stroke-width="1" />
<line x1="68.50" y1="457.59" x2="71.90" y2="457.59" stroke="#1a1a1a" stroke-width="1" />
<line x1="88.00" y1="460.59" x2="88.00" y2="475.62" stroke="#1a1a1a" stroke-width="1" />
<line x1="86.30" y1="460.59" x2="89.70" y2="460.59" stroke="#1a1a1a" stroke-width="1" />
<line x1="86.30" y1="475.62" x2="89.70" y2="475.62" stroke="#1a1a1a" stroke-width="1" />
<line x1="88.00" y1="434.29" x2="88.00" y2="449.32" stroke="#1a1a1a" stroke-width="1" />
<line x1="86.30" y1="434.29" x2="89.70" y2="434.29" stroke="#1a1a1a" stroke-width="1" />
<line x1="86.30" y1="449.32" x2="89.70" y2="449.32" stroke="#1a1a1a" stroke-width="1" />
<line x1="105.80" y1="468.11" x2="105.80" y2="484.64" stroke="#1a1a1a" stroke-width="1" />
<line x1="104.10" y1="468.11" x2="107.50" y2="468.11" stroke="#1a1a1a" stroke-width="1" />
<line x1="104.10" y1="484.64" x2="107.50" y2="484.64" stroke="#1a1a1a" stroke-width="1" />
<line x1="105.80" y1="436.55" x2="105.80" y2="455.33" stroke="#1a1a1a" stroke-width="1" />
<line x1="104.10" y1="436.55" x2="107.50" y2="436.55" stroke="#1a1a1a" stroke-width="1" />
<line x1="104.10" y1="455.33" x2="107.50" y2="455.33" stroke="#1a1a1a" stroke-width="1" />
<polyline points="52.30,411.00 70.20,435.79 88.00,441.81 105.80,445.56" fill="none" stroke="#34599a" stroke-width="1.0"/>
<polyline points="52.30,413.25 70.20,449.32 88.00,468.11 105.80,477.13" fill="none" stroke="#c01f45" stroke-width="1.1"/>
<circle cx="52.30" cy="411.00" r="1.4" fill="#2d4d85"/>
<circle cx="52.30" cy="413.25" r="1.7" fill="#a5042a"/>
<circle cx="70.20" cy="435.79" r="1.4" fill="#2d4d85"/>
<circle cx="70.20" cy="449.32" r="1.7" fill="#a5042a"/>
<circle cx="88.00" cy="441.81" r="1.4" fill="#2d4d85"/>
<circle cx="88.00" cy="468.11" r="1.7" fill="#a5042a"/>
<circle cx="105.80" cy="445.56" r="1.4" fill="#2d4d85"/>
<circle cx="105.80" cy="477.13" r="1.7" fill="#a5042a"/>
<text transform="translate(53.05 501.20) scale(1.0 1)" font-size="7.99" text-anchor="middle" fill="#1a1a1a" stroke="#1a1a1a" stroke-width="0.2">D0</text>
<text transform="translate(70.85 501.20) scale(1.0 1)" font-size="7.99" text-anchor="middle" fill="#1a1a1a" stroke="#1a1a1a" stroke-width="0.2">D3</text>
<text transform="translate(88.45 501.20) scale(1.0 1)" font-size="7.99" text-anchor="middle" fill="#1a1a1a" stroke="#1a1a1a" stroke-width="0.2">D7</text>
<text transform="translate(106.05 501.20) scale(1.0 1)" font-size="7.99" text-anchor="middle" fill="#1a1a1a" stroke="#1a1a1a" stroke-width="0.2">D10</text>
<line x1="64.20" y1="399.80" x2="84.10" y2="399.80" stroke="#c01f45" stroke-width="1.0" />
<circle cx="74.2" cy="399.8" r="1.6" fill="#a5042a"/>
<line x1="64.20" y1="408.20" x2="84.10" y2="408.20" stroke="#34599a" stroke-width="1.0" />
<circle cx="74.2" cy="408.2" r="1.3" fill="#2d4d85"/>
<text transform="translate(86.90 402.00) scale(0.87 1)" font-size="7.78" text-anchor="start" fill="#1a1a1a" stroke="#1a1a1a" stroke-width="0.2">Normoxia</text>
<text transform="translate(86.90 410.40) scale(0.87 1)" font-size="7.78" text-anchor="start" fill="#1a1a1a" stroke="#1a1a1a" stroke-width="0.2">Hypoxia</text>
<text transform="translate(17.80 440.90) rotate(-90) scale(1 1)" font-size="8.64" text-anchor="middle" fill="#1a1a1a" stroke="#1a1a1a" stroke-width="0.28" textLength="91.6" lengthAdjust="spacingAndGlyphs">% reads in peaks normalized to D0</text>
<text transform="translate(126.30 385.70) scale(1 1)" font-size="10.90" text-anchor="start" fill="#000" stroke="#000" stroke-width="0.3" font-weight="bold">G</text>
<line x1="150.10" y1="396.80" x2="150.10" y2="488.90" stroke="#1a1a1a" stroke-width="1.2" />
<line x1="147.10" y1="485.50" x2="150.10" y2="485.50" stroke="#1a1a1a" stroke-width="1" />
<text transform="translate(144.40 488.80) scale(0.92 1)" font-size="8.32" text-anchor="end" fill="#1a1a1a" stroke="#1a1a1a" stroke-width="0.08">0</text>
<line x1="147.10" y1="471.92" x2="150.10" y2="471.92" stroke="#1a1a1a" stroke-width="1" />
<text transform="translate(144.40 475.22) scale(0.92 1)" font-size="8.32" text-anchor="end" fill="#1a1a1a" stroke="#1a1a1a" stroke-width="0.08">1</text>
<line x1="147.10" y1="458.34" x2="150.10" y2="458.34" stroke="#1a1a1a" stroke-width="1" />
<text transform="translate(144.40 461.64) scale(0.92 1)" font-size="8.32" text-anchor="end" fill="#1a1a1a" stroke="#1a1a1a" stroke-width="0.08">2</text>
<line x1="147.10" y1="444.76" x2="150.10" y2="444.76" stroke="#1a1a1a" stroke-width="1" />
<text transform="translate(144.40 448.06) scale(0.92 1)" font-size="8.32" text-anchor="end" fill="#1a1a1a" stroke="#1a1a1a" stroke-width="0.08">3</text>
<line x1="147.10" y1="431.18" x2="150.10" y2="431.18" stroke="#1a1a1a" stroke-width="1" />
<text transform="translate(144.40 434.48) scale(0.92 1)" font-size="8.32" text-anchor="end" fill="#1a1a1a" stroke="#1a1a1a" stroke-width="0.08">4</text>
<line x1="147.10" y1="417.60" x2="150.10" y2="417.60" stroke="#1a1a1a" stroke-width="1" />
<text transform="translate(144.40 420.90) scale(0.92 1)" font-size="8.32" text-anchor="end" fill="#1a1a1a" stroke="#1a1a1a" stroke-width="0.08">5</text>
<line x1="147.10" y1="404.02" x2="150.10" y2="404.02" stroke="#1a1a1a" stroke-width="1" />
<text transform="translate(144.40 407.32) scale(0.92 1)" font-size="8.32" text-anchor="end" fill="#1a1a1a" stroke="#1a1a1a" stroke-width="0.08">6</text>
<line x1="150.10" y1="488.40" x2="250.50" y2="488.40" stroke="#1a1a1a" stroke-width="1.2" />
<line x1="160.55" y1="488.40" x2="160.55" y2="491.40" stroke="#1a1a1a" stroke-width="1" />
<line x1="172.45" y1="488.40" x2="172.45" y2="491.40" stroke="#1a1a1a" stroke-width="1" />
<line x1="184.35" y1="488.40" x2="184.35" y2="491.40" stroke="#1a1a1a" stroke-width="1" />
<line x1="196.45" y1="488.40" x2="196.45" y2="491.40" stroke="#1a1a1a" stroke-width="1" />
<line x1="208.25" y1="488.40" x2="208.25" y2="491.40" stroke="#1a1a1a" stroke-width="1" />
<line x1="219.95" y1="488.40" x2="219.95" y2="491.40" stroke="#1a1a1a" stroke-width="1" />
<line x1="232.05" y1="488.40" x2="232.05" y2="491.40" stroke="#1a1a1a" stroke-width="1" />
<line x1="243.85" y1="488.40" x2="243.85" y2="491.40" stroke="#1a1a1a" stroke-width="1" />
<line x1="160.60" y1="412.10" x2="160.60" y2="451.60" stroke="#222" stroke-width="1" stroke-dasharray="2,1.5"/>
<line x1="160.60" y1="477.60" x2="160.60" y2="485.50" stroke="#222" stroke-width="1" stroke-dasharray="2,1.5"/>
<line x1="158.30" y1="412.10" x2="162.90" y2="412.10" stroke="#222" stroke-width="1" />
<line x1="158.80" y1="485.50" x2="162.40" y2="485.50" stroke="#222" stroke-width="1.1" />
<rect x="156.00" y="451.60" width="9.2" height="26.00" fill="#a5042a"/>
<line x1="156.00" y1="466.90" x2="165.20" y2="466.90" stroke="#111" stroke-width="1.7" />
<line x1="172.50" y1="398.80" x2="172.50" y2="447.00" stroke="#222" stroke-width="1" stroke-dasharray="2,1.5"/>
<line x1="172.50" y1="478.50" x2="172.50" y2="485.50" stroke="#222" stroke-width="1" stroke-dasharray="2,1.5"/>
<line x1="170.20" y1="398.80" x2="174.80" y2="398.80" stroke="#222" stroke-width="1" />
<line x1="170.70" y1="485.50" x2="174.30" y2="485.50" stroke="#222" stroke-width="1.1" />
<rect x="167.90" y="447.00" width="9.2" height="31.50" fill="#2d4d85"/>
<line x1="167.90" y1="463.00" x2="177.10" y2="463.00" stroke="#111" stroke-width="1.7" />
<line x1="184.40" y1="454.10" x2="184.40" y2="469.40" stroke="#222" stroke-width="1" stroke-dasharray="2,1.5"/>
<line x1="184.40" y1="479.90" x2="184.40" y2="485.50" stroke="#222" stroke-width="1" stroke-dasharray="2,1.5"/>
<line x1="182.10" y1="454.10" x2="186.70" y2="454.10" stroke="#222" stroke-width="1" />
<line x1="182.60" y1="485.50" x2="186.20" y2="485.50" stroke="#222" stroke-width="1.1" />
<rect x="179.80" y="469.40" width="9.2" height="10.50" fill="#a5042a"/>
<line x1="179.80" y1="475.00" x2="189.00" y2="475.00" stroke="#111" stroke-width="1.7" />
<line x1="196.50" y1="452.30" x2="196.50" y2="468.90" stroke="#222" stroke-width="1" stroke-dasharray="2,1.5"/>
<line x1="196.50" y1="479.90" x2="196.50" y2="485.50" stroke="#222" stroke-width="1" stroke-dasharray="2,1.5"/>
<line x1="194.20" y1="452.30" x2="198.80" y2="452.30" stroke="#222" stroke-width="1" />
<line x1="194.70" y1="485.50" x2="198.30" y2="485.50" stroke="#222" stroke-width="1.1" />
<rect x="191.90" y="468.90" width="9.2" height="11.00" fill="#2d4d85"/>
<line x1="191.90" y1="474.40" x2="201.10" y2="474.40" stroke="#111" stroke-width="1.7" />
<line x1="208.30" y1="457.40" x2="208.30" y2="471.10" stroke="#222" stroke-width="1" stroke-dasharray="2,1.5"/>
<line x1="208.30" y1="480.70" x2="208.30" y2="485.50" stroke="#222" stroke-width="1" stroke-dasharray="2,1.5"/>
<line x1="206.00" y1="457.40" x2="210.60" y2="457.40" stroke="#222" stroke-width="1" />
<line x1="206.50" y1="485.50" x2="210.10" y2="485.50" stroke="#222" stroke-width="1.1" />
<rect x="203.70" y="471.10" width="9.2" height="9.60" fill="#a5042a"/>
<line x1="203.70" y1="476.50" x2="212.90" y2="476.50" stroke="#111" stroke-width="1.7" />
<line x1="220.00" y1="453.40" x2="220.00" y2="469.20" stroke="#222" stroke-width="1" stroke-dasharray="2,1.5"/>
<line x1="220.00" y1="480.00" x2="220.00" y2="485.50" stroke="#222" stroke-width="1" stroke-dasharray="2,1.5"/>
<line x1="217.70" y1="453.40" x2="222.30" y2="453.40" stroke="#222" stroke-width="1" />
<line x1="218.20" y1="485.50" x2="221.80" y2="485.50" stroke="#222" stroke-width="1.1" />
<rect x="215.40" y="469.20" width="9.2" height="10.80" fill="#2d4d85"/>
<line x1="215.40" y1="475.20" x2="224.60" y2="475.20" stroke="#111" stroke-width="1.7" />
<line x1="232.10" y1="460.50" x2="232.10" y2="473.20" stroke="#222" stroke-width="1" stroke-dasharray="2,1.5"/>
<line x1="232.10" y1="481.40" x2="232.10" y2="485.50" stroke="#222" stroke-width="1" stroke-dasharray="2,1.5"/>
<line x1="229.80" y1="460.50" x2="234.40" y2="460.50" stroke="#222" stroke-width="1" />
<line x1="230.30" y1="485.50" x2="233.90" y2="485.50" stroke="#222" stroke-width="1.1" />
<rect x="227.50" y="473.20" width="9.2" height="8.20" fill="#a5042a"/>
<line x1="227.50" y1="477.70" x2="236.70" y2="477.70" stroke="#111" stroke-width="1.7" />
<line x1="243.90" y1="454.90" x2="243.90" y2="470.30" stroke="#222" stroke-width="1" stroke-dasharray="2,1.5"/>
<line x1="243.90" y1="480.50" x2="243.90" y2="485.50" stroke="#222" stroke-width="1" stroke-dasharray="2,1.5"/>
<line x1="241.60" y1="454.90" x2="246.20" y2="454.90" stroke="#222" stroke-width="1" />
<line x1="242.10" y1="485.50" x2="245.70" y2="485.50" stroke="#222" stroke-width="1.1" />
<rect x="239.30" y="470.30" width="9.2" height="10.20" fill="#2d4d85"/>
<line x1="239.30" y1="475.40" x2="248.50" y2="475.40" stroke="#111" stroke-width="1.7" />
<text transform="translate(166.60 501.40) scale(1.0 1)" font-size="7.99" text-anchor="middle" fill="#1a1a1a" stroke="#1a1a1a" stroke-width="0.2">D0</text>
<text transform="translate(190.40 501.40) scale(1.0 1)" font-size="7.99" text-anchor="middle" fill="#1a1a1a" stroke="#1a1a1a" stroke-width="0.2">D3</text>
<text transform="translate(214.20 501.40) scale(1.0 1)" font-size="7.99" text-anchor="middle" fill="#1a1a1a" stroke="#1a1a1a" stroke-width="0.2">D7</text>
<text transform="translate(238.00 501.40) scale(1.0 1)" font-size="7.99" text-anchor="middle" fill="#1a1a1a" stroke="#1a1a1a" stroke-width="0.2">D10</text>
<line x1="207.90" y1="448.30" x2="220.20" y2="448.30" stroke="#222" stroke-width="1" />
<text transform="translate(214.30 443.50) scale(0.9 1)" font-size="5.94" text-anchor="middle" fill="#1a1a1a" stroke="#1a1a1a" stroke-width="0.2">#</text>
<line x1="231.40" y1="450.80" x2="243.60" y2="450.80" stroke="#222" stroke-width="1" />
<text transform="translate(237.30 446.40) scale(0.9 1)" font-size="6.48" text-anchor="middle" fill="#1a1a1a" stroke="#1a1a1a" stroke-width="0.2">‡</text>
<rect x="212.80" y="399.80" width="3.70" height="3.70" fill="#a5042a"/>
<text transform="translate(219.40 403.90) scale(0.87 1)" font-size="7.78" text-anchor="start" fill="#1a1a1a" stroke="#1a1a1a" stroke-width="0.2">Normoxia</text>
<rect x="212.80" y="408.30" width="3.70" height="3.70" fill="#2d4d85"/>
<text transform="translate(219.40 412.10) scale(0.87 1)" font-size="7.78" text-anchor="start" fill="#1a1a1a" stroke="#1a1a1a" stroke-width="0.2">Hypoxia</text>
<text transform="translate(133.50 442.90) rotate(-90) scale(1 1)" font-size="8.64" text-anchor="middle" fill="#1a1a1a" stroke="#1a1a1a" stroke-width="0.28" textLength="16.5" lengthAdjust="spacingAndGlyphs">FPKM</text>
<text transform="translate(259.60 385.70) scale(1 1)" font-size="10.90" text-anchor="start" fill="#000" stroke="#000" stroke-width="0.3" font-weight="bold">H</text>
<line x1="291.50" y1="396.50" x2="291.50" y2="489.30" stroke="#1a1a1a" stroke-width="1.2" />
<line x1="288.50" y1="488.80" x2="291.50" y2="488.80" stroke="#1a1a1a" stroke-width="1" />
<text transform="translate(285.30 491.60) scale(1.0 1)" font-size="8.32" text-anchor="end" fill="#1a1a1a" stroke="#1a1a1a" stroke-width="0.08">0</text>
<line x1="288.50" y1="479.66" x2="291.50" y2="479.66" stroke="#1a1a1a" stroke-width="1" />
<text transform="translate(285.30 482.46) scale(1.0 1)" font-size="8.32" text-anchor="end" fill="#1a1a1a" stroke="#1a1a1a" stroke-width="0.08">10</text>
<line x1="288.50" y1="470.52" x2="291.50" y2="470.52" stroke="#1a1a1a" stroke-width="1" />
<text transform="translate(285.30 473.32) scale(1.0 1)" font-size="8.32" text-anchor="end" fill="#1a1a1a" stroke="#1a1a1a" stroke-width="0.08">20</text>
<line x1="288.50" y1="461.38" x2="291.50" y2="461.38" stroke="#1a1a1a" stroke-width="1" />
<text transform="translate(285.30 464.18) scale(1.0 1)" font-size="8.32" text-anchor="end" fill="#1a1a1a" stroke="#1a1a1a" stroke-width="0.08">30</text>
<line x1="288.50" y1="452.24" x2="291.50" y2="452.24" stroke="#1a1a1a" stroke-width="1" />
<text transform="translate(285.30 455.04) scale(1.0 1)" font-size="8.32" text-anchor="end" fill="#1a1a1a" stroke="#1a1a1a" stroke-width="0.08">40</text>
<line x1="288.50" y1="443.10" x2="291.50" y2="443.10" stroke="#1a1a1a" stroke-width="1" />
<text transform="translate(285.30 445.90) scale(1.0 1)" font-size="8.32" text-anchor="end" fill="#1a1a1a" stroke="#1a1a1a" stroke-width="0.08">50</text>
<line x1="288.50" y1="433.96" x2="291.50" y2="433.96" stroke="#1a1a1a" stroke-width="1" />
<text transform="translate(285.30 436.76) scale(1.0 1)" font-size="8.32" text-anchor="end" fill="#1a1a1a" stroke="#1a1a1a" stroke-width="0.08">60</text>
<line x1="288.50" y1="424.82" x2="291.50" y2="424.82" stroke="#1a1a1a" stroke-width="1" />
<text transform="translate(285.30 427.62) scale(1.0 1)" font-size="8.32" text-anchor="end" fill="#1a1a1a" stroke="#1a1a1a" stroke-width="0.08">70</text>
<line x1="288.50" y1="415.68" x2="291.50" y2="415.68" stroke="#1a1a1a" stroke-width="1" />
<text transform="translate(285.30 418.48) scale(1.0 1)" font-size="8.32" text-anchor="end" fill="#1a1a1a" stroke="#1a1a1a" stroke-width="0.08">80</text>
<line x1="288.50" y1="406.54" x2="291.50" y2="406.54" stroke="#1a1a1a" stroke-width="1" />
<text transform="translate(285.30 409.34) scale(1.0 1)" font-size="8.32" text-anchor="end" fill="#1a1a1a" stroke="#1a1a1a" stroke-width="0.08">90</text>
<line x1="288.50" y1="397.40" x2="291.50" y2="397.40" stroke="#1a1a1a" stroke-width="1" />
<text transform="translate(285.30 400.20) scale(1.0 1)" font-size="8.32" text-anchor="end" fill="#1a1a1a" stroke="#1a1a1a" stroke-width="0.08">100</text>
<line x1="291.50" y1="488.80" x2="360.80" y2="488.80" stroke="#1a1a1a" stroke-width="1.2" />
<line x1="292.10" y1="488.80" x2="292.10" y2="491.80" stroke="#1a1a1a" stroke-width="1" />
<line x1="313.50" y1="488.80" x2="313.50" y2="491.80" stroke="#1a1a1a" stroke-width="1" />
<line x1="335.60" y1="488.80" x2="335.60" y2="491.80" stroke="#1a1a1a" stroke-width="1" />
<line x1="357.70" y1="488.80" x2="357.70" y2="491.80" stroke="#1a1a1a" stroke-width="1" />
<rect x="295.30" y="470.98" width="7.90" height="17.82" fill="#6cae46"/>
<rect x="302.60" y="478.75" width="7.30" height="10.05" fill="#eb9a1f"/>
<rect x="317.50" y="458.18" width="7.90" height="30.62" fill="#6cae46"/>
<rect x="324.80" y="482.40" width="7.30" height="6.40" fill="#eb9a1f"/>
<rect x="339.60" y="457.27" width="7.90" height="31.53" fill="#6cae46"/>
<rect x="346.90" y="483.32" width="7.30" height="5.48" fill="#eb9a1f"/>
<line x1="298.95" y1="467.78" x2="298.95" y2="472.35" stroke="#1a1a1a" stroke-width="1" />
<line x1="297.25" y1="467.78" x2="300.65" y2="467.78" stroke="#1a1a1a" stroke-width="1" />
<line x1="297.25" y1="472.35" x2="300.65" y2="472.35" stroke="#1a1a1a" stroke-width="1" />
<line x1="306.25" y1="471.43" x2="306.25" y2="486.06" stroke="#1a1a1a" stroke-width="1" />
<line x1="304.55" y1="471.43" x2="307.95" y2="471.43" stroke="#1a1a1a" stroke-width="1" />
<line x1="304.55" y1="486.06" x2="307.95" y2="486.06" stroke="#1a1a1a" stroke-width="1" />
<line x1="321.15" y1="449.50" x2="321.15" y2="466.86" stroke="#1a1a1a" stroke-width="1" />
<line x1="319.45" y1="449.50" x2="322.85" y2="449.50" stroke="#1a1a1a" stroke-width="1" />
<line x1="319.45" y1="466.86" x2="322.85" y2="466.86" stroke="#1a1a1a" stroke-width="1" />
<line x1="328.45" y1="476.92" x2="328.45" y2="487.89" stroke="#1a1a1a" stroke-width="1" />
<line x1="326.75" y1="476.92" x2="330.15" y2="476.92" stroke="#1a1a1a" stroke-width="1" />
<line x1="326.75" y1="487.89" x2="330.15" y2="487.89" stroke="#1a1a1a" stroke-width="1" />
<line x1="343.25" y1="451.33" x2="343.25" y2="462.29" stroke="#1a1a1a" stroke-width="1" />
<line x1="341.55" y1="451.33" x2="344.95" y2="451.33" stroke="#1a1a1a" stroke-width="1" />
<line x1="341.55" y1="462.29" x2="344.95" y2="462.29" stroke="#1a1a1a" stroke-width="1" />
<line x1="350.55" y1="478.75" x2="350.55" y2="487.89" stroke="#1a1a1a" stroke-width="1" />
<line x1="348.85" y1="478.75" x2="352.25" y2="478.75" stroke="#1a1a1a" stroke-width="1" />
<line x1="348.85" y1="487.89" x2="352.25" y2="487.89" stroke="#1a1a1a" stroke-width="1" />
<text transform="translate(302.90 501.60) scale(1.0 1)" font-size="7.99" text-anchor="middle" fill="#1a1a1a" stroke="#1a1a1a" stroke-width="0.2">D3</text>
<text transform="translate(324.60 501.60) scale(1.0 1)" font-size="7.99" text-anchor="middle" fill="#1a1a1a" stroke="#1a1a1a" stroke-width="0.2">D7</text>
<text transform="translate(346.80 501.60) scale(1.0 1)" font-size="7.99" text-anchor="middle" fill="#1a1a1a" stroke="#1a1a1a" stroke-width="0.2">D10</text>
<line x1="342.20" y1="445.70" x2="353.10" y2="445.70" stroke="#222" stroke-width="1" />
<text transform="translate(347.65 445.90) scale(0.9 1)" font-size="7.02" text-anchor="middle" fill="#1a1a1a" stroke="#1a1a1a" stroke-width="0.2">*</text>
<rect x="315.40" y="397.50" width="3.30" height="3.30" fill="#6cae46"/>
<text transform="translate(321.80 401.80) scale(0.9 1)" font-size="7.78" text-anchor="start" fill="#1a1a1a" stroke="#1a1a1a" stroke-width="0.2">5-hmC gain</text>
<rect x="315.40" y="406.20" width="3.30" height="3.30" fill="#eb9a1f"/>
<text transform="translate(321.80 410.60) scale(0.9 1)" font-size="7.78" text-anchor="start" fill="#1a1a1a" stroke="#1a1a1a" stroke-width="0.2">5-hmC loss</text>
<text transform="translate(267.00 439.60) rotate(-90) scale(1 1)" font-size="8.64" text-anchor="middle" fill="#1a1a1a" stroke="#1a1a1a" stroke-width="0.28" textLength="41.6" lengthAdjust="spacingAndGlyphs">% 5-hmC peaks</text>
<text transform="translate(369.50 385.70) scale(1 1)" font-size="10.90" text-anchor="start" fill="#000" stroke="#000" stroke-width="0.3" font-weight="bold">I</text>
<line x1="402.30" y1="396.50" x2="402.30" y2="489.30" stroke="#1a1a1a" stroke-width="1.2" />
<line x1="399.30" y1="488.80" x2="402.30" y2="488.80" stroke="#1a1a1a" stroke-width="1" />
<text transform="translate(397.20 491.60) scale(1.0 1)" font-size="8.32" text-anchor="end" fill="#1a1a1a" stroke="#1a1a1a" stroke-width="0.08">0</text>
<line x1="399.30" y1="479.66" x2="402.30" y2="479.66" stroke="#1a1a1a" stroke-width="1" />
<text transform="translate(397.20 482.46) scale(1.0 1)" font-size="8.32" text-anchor="end" fill="#1a1a1a" stroke="#1a1a1a" stroke-width="0.08">10</text>
<line x1="399.30" y1="470.52" x2="402.30" y2="470.52" stroke="#1a1a1a" stroke-width="1" />
<text transform="translate(397.20 473.32) scale(1.0 1)" font-size="8.32" text-anchor="end" fill="#1a1a1a" stroke="#1a1a1a" stroke-width="0.08">20</text>
<line x1="399.30" y1="461.38" x2="402.30" y2="461.38" stroke="#1a1a1a" stroke-width="1" />
<text transform="translate(397.20 464.18) scale(1.0 1)" font-size="8.32" text-anchor="end" fill="#1a1a1a" stroke="#1a1a1a" stroke-width="0.08">30</text>
<line x1="399.30" y1="452.24" x2="402.30" y2="452.24" stroke="#1a1a1a" stroke-width="1" />
<text transform="translate(397.20 455.04) scale(1.0 1)" font-size="8.32" text-anchor="end" fill="#1a1a1a" stroke="#1a1a1a" stroke-width="0.08">40</text>
<line x1="399.30" y1="443.10" x2="402.30" y2="443.10" stroke="#1a1a1a" stroke-width="1" />
<text transform="translate(397.20 445.90) scale(1.0 1)" font-size="8.32" text-anchor="end" fill="#1a1a1a" stroke="#1a1a1a" stroke-width="0.08">50</text>
<line x1="399.30" y1="433.96" x2="402.30" y2="433.96" stroke="#1a1a1a" stroke-width="1" />
<text transform="translate(397.20 436.76) scale(1.0 1)" font-size="8.32" text-anchor="end" fill="#1a1a1a" stroke="#1a1a1a" stroke-width="0.08">60</text>
<line x1="399.30" y1="424.82" x2="402.30" y2="424.82" stroke="#1a1a1a" stroke-width="1" />
<text transform="translate(397.20 427.62) scale(1.0 1)" font-size="8.32" text-anchor="end" fill="#1a1a1a" stroke="#1a1a1a" stroke-width="0.08">70</text>
<line x1="399.30" y1="415.68" x2="402.30" y2="415.68" stroke="#1a1a1a" stroke-width="1" />
<text transform="translate(397.20 418.48) scale(1.0 1)" font-size="8.32" text-anchor="end" fill="#1a1a1a" stroke="#1a1a1a" stroke-width="0.08">80</text>
<line x1="399.30" y1="406.54" x2="402.30" y2="406.54" stroke="#1a1a1a" stroke-width="1" />
<text transform="translate(397.20 409.34) scale(1.0 1)" font-size="8.32" text-anchor="end" fill="#1a1a1a" stroke="#1a1a1a" stroke-width="0.08">90</text>
<line x1="399.30" y1="397.40" x2="402.30" y2="397.40" stroke="#1a1a1a" stroke-width="1" />
<text transform="translate(397.20 400.20) scale(1.0 1)" font-size="8.32" text-anchor="end" fill="#1a1a1a" stroke="#1a1a1a" stroke-width="0.08">100</text>
<line x1="402.30" y1="488.80" x2="470.40" y2="488.80" stroke="#1a1a1a" stroke-width="1.2" />
<line x1="402.30" y1="488.80" x2="402.30" y2="491.80" stroke="#1a1a1a" stroke-width="1" />
<line x1="424.60" y1="488.80" x2="424.60" y2="491.80" stroke="#1a1a1a" stroke-width="1" />
<line x1="447.00" y1="488.80" x2="447.00" y2="491.80" stroke="#1a1a1a" stroke-width="1" />
<line x1="469.40" y1="488.80" x2="469.40" y2="491.80" stroke="#1a1a1a" stroke-width="1" />
<rect x="405.90" y="473.26" width="7.90" height="15.54" fill="#6cae46"/>
<rect x="413.20" y="478.29" width="7.30" height="10.51" fill="#eb9a1f"/>
<rect x="427.80" y="446.76" width="7.90" height="42.04" fill="#6cae46"/>
<rect x="435.10" y="485.14" width="7.30" height="3.66" fill="#eb9a1f"/>
<rect x="450.00" y="444.47" width="7.90" height="44.33" fill="#6cae46"/>
<rect x="457.30" y="485.60" width="7.30" height="3.20" fill="#eb9a1f"/>
<line x1="409.55" y1="469.61" x2="409.55" y2="476.00" stroke="#1a1a1a" stroke-width="1" />
<line x1="407.85" y1="469.61" x2="411.25" y2="469.61" stroke="#1a1a1a" stroke-width="1" />
<line x1="407.85" y1="476.00" x2="411.25" y2="476.00" stroke="#1a1a1a" stroke-width="1" />
<line x1="416.85" y1="468.69" x2="416.85" y2="487.89" stroke="#1a1a1a" stroke-width="1" />
<line x1="415.15" y1="468.69" x2="418.55" y2="468.69" stroke="#1a1a1a" stroke-width="1" />
<line x1="415.15" y1="487.89" x2="418.55" y2="487.89" stroke="#1a1a1a" stroke-width="1" />
<line x1="431.45" y1="432.13" x2="431.45" y2="462.29" stroke="#1a1a1a" stroke-width="1" />
<line x1="429.75" y1="432.13" x2="433.15" y2="432.13" stroke="#1a1a1a" stroke-width="1" />
<line x1="429.75" y1="462.29" x2="433.15" y2="462.29" stroke="#1a1a1a" stroke-width="1" />
<line x1="438.75" y1="481.49" x2="438.75" y2="487.89" stroke="#1a1a1a" stroke-width="1" />
<line x1="437.05" y1="481.49" x2="440.45" y2="481.49" stroke="#1a1a1a" stroke-width="1" />
<line x1="437.05" y1="487.89" x2="440.45" y2="487.89" stroke="#1a1a1a" stroke-width="1" />
<line x1="453.65" y1="434.87" x2="453.65" y2="454.07" stroke="#1a1a1a" stroke-width="1" />
<line x1="451.95" y1="434.87" x2="455.35" y2="434.87" stroke="#1a1a1a" stroke-width="1" />
<line x1="451.95" y1="454.07" x2="455.35" y2="454.07" stroke="#1a1a1a" stroke-width="1" />
<line x1="460.95" y1="483.32" x2="460.95" y2="487.89" stroke="#1a1a1a" stroke-width="1" />
<line x1="459.25" y1="483.32" x2="462.65" y2="483.32" stroke="#1a1a1a" stroke-width="1" />
<line x1="459.25" y1="487.89" x2="462.65" y2="487.89" stroke="#1a1a1a" stroke-width="1" />
<text transform="translate(413.20 501.60) scale(1.0 1)" font-size="7.99" text-anchor="middle" fill="#1a1a1a" stroke="#1a1a1a" stroke-width="0.2">D3</text>
<text transform="translate(435.20 501.60) scale(1.0 1)" font-size="7.99" text-anchor="middle" fill="#1a1a1a" stroke="#1a1a1a" stroke-width="0.2">D7</text>
<text transform="translate(457.40 501.60) scale(1.0 1)" font-size="7.99" text-anchor="middle" fill="#1a1a1a" stroke="#1a1a1a" stroke-width="0.2">D10</text>
<line x1="453.30" y1="431.20" x2="464.00" y2="431.20" stroke="#222" stroke-width="1" />
<text transform="translate(458.65 431.40) scale(0.9 1)" font-size="7.02" text-anchor="middle" fill="#1a1a1a" stroke="#1a1a1a" stroke-width="0.2">*</text>
<rect x="426.30" y="397.50" width="3.30" height="3.30" fill="#6cae46"/>
<text transform="translate(432.70 401.80) scale(0.9 1)" font-size="7.78" text-anchor="start" fill="#1a1a1a" stroke="#1a1a1a" stroke-width="0.2">5-hmC gain</text>
<rect x="426.30" y="406.20" width="3.30" height="3.30" fill="#eb9a1f"/>
<text transform="translate(432.70 410.60) scale(0.9 1)" font-size="7.78" text-anchor="start" fill="#1a1a1a" stroke="#1a1a1a" stroke-width="0.2">5-hmC loss</text>
<text transform="translate(376.70 441.80) rotate(-90) scale(1 1)" font-size="8.64" text-anchor="middle" fill="#1a1a1a" stroke="#1a1a1a" stroke-width="0.28" textLength="70.5" lengthAdjust="spacingAndGlyphs">% 5-hmC peak coverage</text>
</svg>
</body></html>
